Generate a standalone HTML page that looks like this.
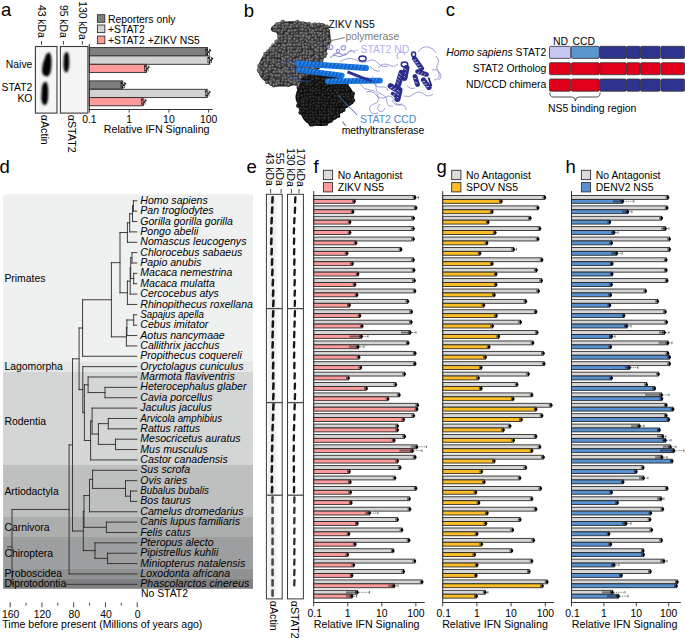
<!DOCTYPE html>
<html><head><meta charset="utf-8"><title>Figure</title>
<style>html,body{margin:0;padding:0;background:#fff;} svg{display:block;} text{font-family:"Liberation Sans", sans-serif;}</style>
</head><body>
<svg width="685" height="638" viewBox="0 0 685 638" font-family='"Liberation Sans", sans-serif'>
<defs>
<filter id="blur2" x="-50%" y="-50%" width="200%" height="200%"><feGaussianBlur stdDeviation="1.4"/></filter>
<filter id="blurA" x="-50%" y="-50%" width="200%" height="200%"><feGaussianBlur stdDeviation="1.15"/></filter>
<filter id="blurB" x="-50%" y="-50%" width="200%" height="200%"><feGaussianBlur stdDeviation="0.9"/></filter>
<filter id="blur06" x="-50%" y="-50%" width="200%" height="200%"><feGaussianBlur stdDeviation="0.7"/></filter>
<filter id="blur05" x="-50%" y="-50%" width="200%" height="200%"><feGaussianBlur stdDeviation="0.45"/></filter>
<radialGradient id="rgG" cx="40%" cy="35%" r="65%"><stop offset="0" stop-color="#929292"/><stop offset="0.5" stop-color="#525252"/><stop offset="1" stop-color="#2a2a2a"/></radialGradient>
<radialGradient id="rgK" cx="40%" cy="35%" r="65%"><stop offset="0" stop-color="#404040"/><stop offset="0.5" stop-color="#1a1a1a"/><stop offset="1" stop-color="#070707"/></radialGradient>
<pattern id="sphG" width="3.4" height="3.4" patternUnits="userSpaceOnUse"><rect width="3.4" height="3.4" fill="#3f3f3f"/><circle cx="1.7" cy="1.7" r="1.6" fill="url(#rgG)"/></pattern>
<pattern id="sphK" width="3.4" height="3.4" patternUnits="userSpaceOnUse"><rect width="3.4" height="3.4" fill="#0c0c0c"/><circle cx="1.7" cy="1.7" r="1.6" fill="url(#rgK)"/></pattern>
</defs>
<rect width="685" height="638" fill="#fff"/>
<text x="1.00" y="16.40" font-size="18.5" text-anchor="start" fill="#000">a</text>
<text transform="translate(37.90,4.90) rotate(90)" font-size="10.4" fill="#000">43 kDa</text>
<text transform="translate(59.80,4.90) rotate(90)" font-size="10.4" fill="#000">95 kDa</text>
<text transform="translate(78.60,1.20) rotate(90)" font-size="10.4" fill="#000">130 kDa</text>
<line x1="41.50" y1="41.00" x2="41.50" y2="44.80" stroke="#333" stroke-width="0.9"/>
<line x1="63.40" y1="41.00" x2="63.40" y2="44.80" stroke="#333" stroke-width="0.9"/>
<line x1="82.30" y1="41.00" x2="82.30" y2="44.80" stroke="#333" stroke-width="0.9"/>
<rect x="35.40" y="46.50" width="21.60" height="66.60" fill="#f6f6f6" stroke="#3a3a3a" stroke-width="1.1"/>
<rect x="60.40" y="46.50" width="27.50" height="66.60" fill="#f4f4f4" stroke="#3a3a3a" stroke-width="1.1"/>
<g filter="url(#blurA)" fill="#050505">
<path d="M44.5,59 Q46,52 49.8,52.5 Q52,57 51.4,65 Q51.4,74.5 47.5,76.5 Q42,76.7 42,70 Q42.3,63.5 44.5,59 Z"/>
<path d="M41.8,88 Q42.8,81.3 46.4,81.8 Q48.6,86 48.2,94 Q48.4,103.8 45,105.3 Q41.3,104.8 41.3,97 Z"/>
<path d="M63.8,57 Q64.6,51.6 67.4,52 Q69.6,55 69.2,63 Q69,71.8 66.2,72.8 Q63.4,71.8 63.5,64 Z"/>
</g>
<text x="32.40" y="68.00" font-size="10.4" text-anchor="end" fill="#000">Naive</text>
<text x="32.40" y="91.20" font-size="10.4" text-anchor="end" fill="#000">STAT2</text>
<text x="32.40" y="101.80" font-size="10.4" text-anchor="end" fill="#000">KO</text>
<text transform="translate(41.00,114.80) rotate(90)" font-size="10.7" fill="#000">&#945;Actin</text>
<text transform="translate(68.10,114.80) rotate(90)" font-size="10.7" fill="#000">&#945;STAT2</text>
<rect x="97.40" y="14.70" width="7.40" height="7.60" fill="#7f7f7f" stroke="#333" stroke-width="0.9"/>
<text x="107.90" y="22.50" font-size="10.4" text-anchor="start" fill="#000">Reporters only</text>
<rect x="97.40" y="25.00" width="7.40" height="7.60" fill="#d3d3d3" stroke="#333" stroke-width="0.9"/>
<text x="107.90" y="32.90" font-size="10.4" text-anchor="start" fill="#000">+STAT2</text>
<rect x="97.40" y="36.10" width="7.40" height="7.60" fill="#ff9b9b" stroke="#333" stroke-width="0.9"/>
<text x="107.90" y="43.50" font-size="10.4" text-anchor="start" fill="#000">+STAT2 +ZIKV NS5</text>
<rect x="89.30" y="47.60" width="118.30" height="8.30" fill="#7f7f7f" stroke="#2a2a2a" stroke-width="0.9"/>
<circle cx="206.4" cy="49.5" r="0.85" fill="#000"/>
<circle cx="208.6" cy="52.0" r="0.85" fill="#000"/>
<circle cx="207.3" cy="54.0" r="0.85" fill="#000"/>
<circle cx="210.2" cy="50.4" r="0.85" fill="#000"/>
<line x1="205.80" y1="48.75" x2="205.80" y2="54.75" stroke="#000" stroke-width="0.6"/>
<line x1="209.40" y1="48.75" x2="209.40" y2="54.75" stroke="#000" stroke-width="0.6"/>
<rect x="89.30" y="55.90" width="120.40" height="8.40" fill="#d3d3d3" stroke="#2a2a2a" stroke-width="0.9"/>
<circle cx="208.5" cy="57.9" r="0.85" fill="#000"/>
<circle cx="210.7" cy="60.3" r="0.85" fill="#000"/>
<circle cx="209.4" cy="62.4" r="0.85" fill="#000"/>
<circle cx="212.3" cy="58.7" r="0.85" fill="#000"/>
<line x1="207.90" y1="57.10" x2="207.90" y2="63.10" stroke="#000" stroke-width="0.6"/>
<line x1="211.50" y1="57.10" x2="211.50" y2="63.10" stroke="#000" stroke-width="0.6"/>
<rect x="89.30" y="64.30" width="57.00" height="8.30" fill="#ff9b9b" stroke="#2a2a2a" stroke-width="0.9"/>
<circle cx="145.1" cy="66.2" r="0.85" fill="#000"/>
<circle cx="147.3" cy="68.6" r="0.85" fill="#000"/>
<circle cx="146.0" cy="70.7" r="0.85" fill="#000"/>
<circle cx="148.9" cy="67.0" r="0.85" fill="#000"/>
<line x1="144.50" y1="65.45" x2="144.50" y2="71.45" stroke="#000" stroke-width="0.6"/>
<line x1="148.10" y1="65.45" x2="148.10" y2="71.45" stroke="#000" stroke-width="0.6"/>
<rect x="89.30" y="80.90" width="33.50" height="8.20" fill="#7f7f7f" stroke="#2a2a2a" stroke-width="0.9"/>
<circle cx="121.6" cy="82.8" r="0.85" fill="#000"/>
<circle cx="123.8" cy="85.2" r="0.85" fill="#000"/>
<circle cx="122.5" cy="87.3" r="0.85" fill="#000"/>
<circle cx="125.4" cy="83.6" r="0.85" fill="#000"/>
<line x1="121.00" y1="82.00" x2="121.00" y2="88.00" stroke="#000" stroke-width="0.6"/>
<line x1="124.60" y1="82.00" x2="124.60" y2="88.00" stroke="#000" stroke-width="0.6"/>
<rect x="89.30" y="89.30" width="117.90" height="8.30" fill="#d3d3d3" stroke="#2a2a2a" stroke-width="0.9"/>
<circle cx="206.0" cy="91.2" r="0.85" fill="#000"/>
<circle cx="208.2" cy="93.6" r="0.85" fill="#000"/>
<circle cx="206.9" cy="95.7" r="0.85" fill="#000"/>
<circle cx="209.8" cy="92.0" r="0.85" fill="#000"/>
<line x1="205.40" y1="90.45" x2="205.40" y2="96.45" stroke="#000" stroke-width="0.6"/>
<line x1="209.00" y1="90.45" x2="209.00" y2="96.45" stroke="#000" stroke-width="0.6"/>
<rect x="89.30" y="97.60" width="53.90" height="8.20" fill="#ff9b9b" stroke="#2a2a2a" stroke-width="0.9"/>
<circle cx="142.0" cy="99.5" r="0.85" fill="#000"/>
<circle cx="144.2" cy="101.9" r="0.85" fill="#000"/>
<circle cx="142.9" cy="104.0" r="0.85" fill="#000"/>
<circle cx="145.8" cy="100.3" r="0.85" fill="#000"/>
<line x1="141.40" y1="98.70" x2="141.40" y2="104.70" stroke="#000" stroke-width="0.6"/>
<line x1="145.00" y1="98.70" x2="145.00" y2="104.70" stroke="#000" stroke-width="0.6"/>
<line x1="89.30" y1="43.90" x2="89.30" y2="109.60" stroke="#333" stroke-width="1.0"/>
<line x1="88.80" y1="109.50" x2="212.70" y2="109.50" stroke="#333" stroke-width="1.0"/>
<line x1="89.40" y1="109.50" x2="89.40" y2="112.60" stroke="#333" stroke-width="0.9"/>
<text x="89.40" y="122.80" font-size="10.4" text-anchor="middle" fill="#000">0.1</text>
<line x1="129.20" y1="109.50" x2="129.20" y2="112.60" stroke="#333" stroke-width="0.9"/>
<text x="129.20" y="122.80" font-size="10.4" text-anchor="middle" fill="#000">1</text>
<line x1="168.90" y1="109.50" x2="168.90" y2="112.60" stroke="#333" stroke-width="0.9"/>
<text x="168.90" y="122.80" font-size="10.4" text-anchor="middle" fill="#000">10</text>
<line x1="208.60" y1="109.50" x2="208.60" y2="112.60" stroke="#333" stroke-width="0.9"/>
<text x="208.60" y="122.80" font-size="10.4" text-anchor="middle" fill="#000">100</text>
<text x="156.70" y="133.40" font-size="10.7" text-anchor="middle" fill="#000">Relative IFN Signaling</text>
<text x="243.80" y="16.70" font-size="18.5" text-anchor="start" fill="#000">b</text>
<path d="M271.0,28.0 C271.3,26.9 272.8,25.9 274.0,25.0 C275.2,24.1 276.2,23.1 278.0,22.5 C279.8,21.9 282.2,21.7 285.0,21.5 C287.8,21.3 291.7,21.1 295.0,21.2 C298.3,21.3 302.7,21.6 305.0,22.0 C307.3,22.4 308.0,22.8 309.0,23.5 C310.0,24.2 310.3,25.9 311.0,26.0 C311.7,26.1 311.8,24.4 313.0,24.0 C314.2,23.6 316.2,23.3 318.0,23.3 C319.8,23.3 322.4,23.5 324.0,24.0 C325.6,24.5 326.6,25.5 327.5,26.5 C328.4,27.5 329.0,28.4 329.5,30.0 C330.0,31.6 330.3,33.8 330.5,36.0 C330.7,38.2 330.9,41.0 330.5,43.0 C330.1,45.0 328.8,46.3 328.0,48.0 C327.2,49.7 326.7,51.3 326.0,53.0 C325.3,54.7 324.8,55.8 324.0,58.0 C323.2,60.2 322.3,63.7 321.0,66.0 C319.7,68.3 318.2,70.4 316.0,72.0 C313.8,73.6 310.3,74.3 308.0,75.5 C305.7,76.7 303.8,77.6 302.0,79.0 C300.2,80.4 299.0,82.8 297.0,84.0 C295.0,85.2 292.8,85.6 290.0,86.0 C287.2,86.4 283.0,86.6 280.0,86.5 C277.0,86.4 274.3,86.2 272.0,85.5 C269.7,84.8 267.8,83.3 266.0,82.0 C264.2,80.7 262.2,79.2 261.0,77.5 C259.8,75.8 258.9,73.9 258.5,72.0 C258.1,70.1 258.2,67.8 258.5,66.0 C258.8,64.2 259.2,62.7 260.0,61.0 C260.8,59.3 261.8,57.7 263.0,56.0 C264.2,54.3 265.7,52.6 267.0,51.0 C268.3,49.4 269.7,47.8 271.0,46.5 C272.3,45.2 273.9,44.6 275.0,43.5 C276.1,42.4 277.1,41.4 277.5,40.0 C277.9,38.6 277.8,36.2 277.5,35.0 C277.2,33.8 276.9,33.1 276.0,32.5 C275.1,31.9 272.8,32.2 272.0,31.5 C271.2,30.8 270.7,29.1 271.0,28.0Z" fill="#262626"/>
<g fill="url(#rgG)">
<circle cx="297.3" cy="24.5" r="1.75"/>
<circle cx="313.3" cy="65.3" r="2.25"/>
<circle cx="309.3" cy="57.1" r="2.08"/>
<circle cx="276.4" cy="50.5" r="2.10"/>
<circle cx="282.4" cy="74.6" r="2.05"/>
<circle cx="329.7" cy="40.0" r="1.77"/>
<circle cx="277.3" cy="72.0" r="1.88"/>
<circle cx="261.7" cy="68.9" r="1.94"/>
<circle cx="288.8" cy="64.0" r="2.27"/>
<circle cx="294.2" cy="33.3" r="2.28"/>
<circle cx="279.0" cy="47.4" r="2.30"/>
<circle cx="271.0" cy="48.8" r="2.28"/>
<circle cx="321.1" cy="54.6" r="1.98"/>
<circle cx="306.1" cy="30.5" r="1.80"/>
<circle cx="315.9" cy="49.1" r="2.26"/>
<circle cx="295.2" cy="36.1" r="1.74"/>
<circle cx="291.9" cy="66.9" r="2.18"/>
<circle cx="278.8" cy="54.8" r="1.82"/>
<circle cx="304.2" cy="63.9" r="2.09"/>
<circle cx="291.3" cy="56.9" r="2.13"/>
<circle cx="283.4" cy="45.3" r="2.19"/>
<circle cx="300.2" cy="29.4" r="1.79"/>
<circle cx="326.8" cy="26.5" r="2.10"/>
<circle cx="296.8" cy="32.3" r="2.20"/>
<circle cx="309.6" cy="69.0" r="2.18"/>
<circle cx="303.8" cy="68.5" r="1.95"/>
<circle cx="302.8" cy="75.2" r="2.30"/>
<circle cx="284.7" cy="65.4" r="2.16"/>
<circle cx="275.7" cy="60.7" r="2.09"/>
<circle cx="300.8" cy="71.7" r="2.17"/>
<circle cx="273.0" cy="68.4" r="1.98"/>
<circle cx="271.3" cy="62.9" r="2.17"/>
<circle cx="321.5" cy="60.5" r="1.84"/>
<circle cx="279.9" cy="32.6" r="2.12"/>
<circle cx="296.7" cy="40.1" r="2.11"/>
<circle cx="270.3" cy="67.0" r="2.29"/>
<circle cx="308.7" cy="47.8" r="2.11"/>
<circle cx="318.9" cy="45.9" r="1.99"/>
<circle cx="321.5" cy="48.5" r="2.18"/>
<circle cx="289.0" cy="36.2" r="2.18"/>
<circle cx="300.9" cy="42.3" r="1.91"/>
<circle cx="297.7" cy="36.2" r="2.09"/>
<circle cx="264.2" cy="69.0" r="1.89"/>
<circle cx="288.6" cy="48.4" r="1.99"/>
<circle cx="302.9" cy="23.5" r="2.07"/>
<circle cx="304.3" cy="50.5" r="1.75"/>
<circle cx="289.1" cy="52.0" r="2.24"/>
<circle cx="305.7" cy="44.3" r="1.79"/>
<circle cx="288.7" cy="60.6" r="1.88"/>
<circle cx="312.0" cy="51.9" r="1.93"/>
<circle cx="279.5" cy="38.9" r="1.75"/>
<circle cx="324.2" cy="33.1" r="2.04"/>
<circle cx="316.3" cy="53.5" r="1.89"/>
<circle cx="300.2" cy="26.4" r="2.27"/>
<circle cx="272.9" cy="56.5" r="2.02"/>
<circle cx="305.6" cy="66.7" r="1.91"/>
<circle cx="299.6" cy="24.1" r="2.05"/>
<circle cx="270.8" cy="60.7" r="2.09"/>
<circle cx="323.9" cy="50.9" r="1.83"/>
<circle cx="297.0" cy="30.2" r="1.74"/>
<circle cx="305.7" cy="39.7" r="1.88"/>
<circle cx="313.3" cy="31.1" r="2.06"/>
<circle cx="318.1" cy="33.1" r="2.05"/>
<circle cx="310.2" cy="66.4" r="2.21"/>
<circle cx="285.9" cy="57.0" r="1.81"/>
<circle cx="264.5" cy="78.0" r="1.97"/>
<circle cx="321.4" cy="50.8" r="2.17"/>
<circle cx="265.0" cy="63.6" r="1.83"/>
<circle cx="286.2" cy="33.8" r="1.94"/>
<circle cx="283.0" cy="65.4" r="2.02"/>
<circle cx="270.4" cy="56.6" r="2.07"/>
<circle cx="279.2" cy="70.1" r="2.11"/>
<circle cx="277.0" cy="82.0" r="2.29"/>
<circle cx="266.8" cy="77.7" r="1.75"/>
<circle cx="316.2" cy="56.3" r="2.24"/>
<circle cx="271.4" cy="54.4" r="2.03"/>
<circle cx="291.4" cy="50.8" r="2.08"/>
<circle cx="318.4" cy="53.9" r="1.88"/>
<circle cx="276.8" cy="48.5" r="2.00"/>
<circle cx="291.9" cy="69.1" r="1.83"/>
<circle cx="281.8" cy="47.9" r="1.75"/>
<circle cx="327.8" cy="39.1" r="2.20"/>
<circle cx="276.9" cy="24.4" r="2.10"/>
<circle cx="322.2" cy="57.2" r="1.77"/>
<circle cx="274.2" cy="30.6" r="1.77"/>
<circle cx="300.5" cy="36.5" r="1.95"/>
<circle cx="303.5" cy="34.0" r="2.20"/>
<circle cx="297.7" cy="69.5" r="1.98"/>
<circle cx="268.0" cy="68.4" r="2.03"/>
<circle cx="276.0" cy="63.7" r="1.99"/>
<circle cx="300.5" cy="57.4" r="2.24"/>
<circle cx="283.1" cy="25.0" r="2.12"/>
<circle cx="282.6" cy="57.9" r="1.85"/>
<circle cx="325.0" cy="48.4" r="1.80"/>
<circle cx="284.6" cy="51.1" r="2.06"/>
<circle cx="294.4" cy="78.1" r="2.14"/>
<circle cx="300.9" cy="69.8" r="1.80"/>
<circle cx="261.8" cy="62.7" r="1.89"/>
<circle cx="281.7" cy="41.7" r="2.12"/>
<circle cx="290.8" cy="83.7" r="2.00"/>
<circle cx="324.4" cy="27.2" r="1.88"/>
<circle cx="288.4" cy="78.3" r="1.98"/>
<circle cx="306.9" cy="64.1" r="1.96"/>
<circle cx="294.2" cy="41.3" r="2.30"/>
<circle cx="276.1" cy="30.0" r="2.11"/>
<circle cx="267.8" cy="51.5" r="1.81"/>
<circle cx="274.3" cy="27.5" r="1.92"/>
<circle cx="302.6" cy="71.9" r="2.09"/>
<circle cx="267.3" cy="54.0" r="1.71"/>
<circle cx="298.3" cy="56.5" r="1.73"/>
<circle cx="291.5" cy="41.6" r="2.14"/>
<circle cx="273.8" cy="85.1" r="2.30"/>
<circle cx="285.1" cy="68.5" r="2.19"/>
<circle cx="301.3" cy="54.3" r="1.76"/>
<circle cx="288.6" cy="39.1" r="1.99"/>
<circle cx="321.3" cy="62.9" r="2.15"/>
<circle cx="294.0" cy="69.1" r="1.79"/>
<circle cx="321.2" cy="42.8" r="1.83"/>
<circle cx="308.6" cy="27.9" r="1.95"/>
<circle cx="294.0" cy="52.0" r="1.78"/>
<circle cx="265.1" cy="72.9" r="1.76"/>
<circle cx="261.2" cy="66.8" r="2.10"/>
<circle cx="304.2" cy="56.7" r="1.90"/>
<circle cx="267.3" cy="74.7" r="2.17"/>
<circle cx="285.9" cy="38.3" r="2.03"/>
<circle cx="297.5" cy="80.9" r="2.25"/>
<circle cx="324.9" cy="42.4" r="1.87"/>
<circle cx="300.5" cy="48.3" r="1.91"/>
<circle cx="327.9" cy="45.5" r="1.85"/>
<circle cx="297.1" cy="72.4" r="1.73"/>
<circle cx="315.0" cy="33.4" r="1.87"/>
<circle cx="310.3" cy="30.1" r="1.91"/>
<circle cx="279.1" cy="46.0" r="2.00"/>
<circle cx="292.4" cy="33.5" r="1.90"/>
<circle cx="312.7" cy="45.3" r="2.29"/>
<circle cx="315.6" cy="37.0" r="2.22"/>
<circle cx="273.2" cy="54.1" r="1.91"/>
<circle cx="294.3" cy="75.2" r="1.82"/>
<circle cx="307.3" cy="60.5" r="2.00"/>
<circle cx="289.0" cy="41.8" r="1.77"/>
<circle cx="306.8" cy="71.6" r="1.82"/>
<circle cx="298.0" cy="48.6" r="2.13"/>
<circle cx="282.8" cy="59.8" r="1.78"/>
<circle cx="316.0" cy="45.5" r="2.28"/>
<circle cx="277.0" cy="77.4" r="1.75"/>
<circle cx="315.0" cy="66.2" r="2.30"/>
<circle cx="315.0" cy="68.7" r="1.94"/>
<circle cx="280.2" cy="50.7" r="2.03"/>
<circle cx="284.8" cy="59.8" r="1.94"/>
<circle cx="295.1" cy="23.8" r="2.04"/>
<circle cx="290.8" cy="75.4" r="1.94"/>
<circle cx="296.9" cy="74.8" r="1.77"/>
<circle cx="302.9" cy="42.2" r="1.73"/>
<circle cx="288.3" cy="57.2" r="2.19"/>
<circle cx="301.0" cy="40.0" r="1.99"/>
<circle cx="325.4" cy="53.8" r="2.16"/>
<circle cx="270.9" cy="78.9" r="1.74"/>
<circle cx="309.1" cy="44.7" r="2.00"/>
<circle cx="278.8" cy="41.6" r="2.03"/>
<circle cx="282.5" cy="62.6" r="1.93"/>
<circle cx="291.6" cy="36.7" r="1.79"/>
<circle cx="267.5" cy="62.7" r="2.10"/>
<circle cx="286.2" cy="80.8" r="2.11"/>
<circle cx="270.5" cy="82.0" r="2.23"/>
<circle cx="318.2" cy="59.3" r="1.75"/>
<circle cx="299.7" cy="80.6" r="1.72"/>
<circle cx="312.4" cy="39.9" r="2.08"/>
<circle cx="259.3" cy="65.7" r="2.08"/>
<circle cx="290.8" cy="59.4" r="1.80"/>
<circle cx="282.0" cy="38.9" r="2.10"/>
<circle cx="309.9" cy="36.9" r="2.22"/>
<circle cx="312.9" cy="47.7" r="1.95"/>
<circle cx="291.0" cy="72.0" r="1.76"/>
<circle cx="321.3" cy="44.9" r="2.26"/>
<circle cx="281.7" cy="83.6" r="1.71"/>
<circle cx="279.8" cy="26.4" r="2.22"/>
<circle cx="318.5" cy="48.0" r="1.78"/>
<circle cx="302.6" cy="26.6" r="1.89"/>
<circle cx="289.1" cy="31.1" r="2.13"/>
<circle cx="276.7" cy="84.5" r="2.22"/>
<circle cx="287.9" cy="33.8" r="1.81"/>
<circle cx="307.1" cy="51.2" r="1.72"/>
<circle cx="315.9" cy="62.4" r="1.71"/>
<circle cx="283.2" cy="70.1" r="2.04"/>
<circle cx="282.6" cy="30.7" r="2.05"/>
<circle cx="268.2" cy="58.1" r="2.25"/>
<circle cx="316.3" cy="60.6" r="2.00"/>
<circle cx="285.0" cy="46.0" r="2.01"/>
<circle cx="268.3" cy="60.6" r="2.19"/>
<circle cx="274.4" cy="72.3" r="2.16"/>
<circle cx="282.7" cy="78.3" r="1.95"/>
<circle cx="302.7" cy="29.8" r="2.12"/>
<circle cx="299.9" cy="51.2" r="1.94"/>
<circle cx="319.3" cy="67.0" r="1.74"/>
<circle cx="288.8" cy="75.9" r="2.11"/>
<circle cx="327.3" cy="41.9" r="2.06"/>
<circle cx="310.2" cy="60.2" r="2.30"/>
<circle cx="297.2" cy="21.8" r="2.10"/>
<circle cx="303.2" cy="65.8" r="1.79"/>
<circle cx="276.4" cy="75.8" r="2.16"/>
<circle cx="291.3" cy="55.0" r="2.03"/>
<circle cx="289.1" cy="80.6" r="1.75"/>
<circle cx="285.0" cy="63.1" r="1.98"/>
<circle cx="293.9" cy="71.7" r="2.24"/>
<circle cx="271.1" cy="83.8" r="2.08"/>
<circle cx="306.1" cy="56.7" r="1.96"/>
<circle cx="309.0" cy="74.5" r="1.71"/>
<circle cx="264.5" cy="60.5" r="2.10"/>
<circle cx="290.9" cy="63.0" r="2.29"/>
<circle cx="294.0" cy="80.8" r="2.22"/>
<circle cx="315.5" cy="50.3" r="1.83"/>
<circle cx="328.1" cy="30.2" r="1.77"/>
<circle cx="325.4" cy="44.6" r="1.98"/>
<circle cx="302.8" cy="45.0" r="1.87"/>
<circle cx="297.3" cy="59.7" r="2.04"/>
<circle cx="310.2" cy="51.6" r="1.97"/>
<circle cx="288.5" cy="84.9" r="2.15"/>
<circle cx="323.7" cy="35.7" r="2.25"/>
<circle cx="279.1" cy="64.0" r="1.92"/>
<circle cx="297.7" cy="54.9" r="2.15"/>
<circle cx="288.2" cy="44.9" r="2.12"/>
<circle cx="269.8" cy="71.6" r="1.79"/>
<circle cx="317.7" cy="57.6" r="2.16"/>
<circle cx="310.3" cy="62.9" r="1.88"/>
<circle cx="310.0" cy="54.5" r="2.03"/>
<circle cx="280.1" cy="77.5" r="2.00"/>
<circle cx="276.1" cy="53.4" r="2.10"/>
<circle cx="300.5" cy="76.0" r="2.23"/>
<circle cx="279.6" cy="36.7" r="2.25"/>
<circle cx="293.7" cy="56.8" r="1.73"/>
<circle cx="283.0" cy="80.6" r="1.72"/>
<circle cx="275.9" cy="45.1" r="1.74"/>
<circle cx="294.5" cy="47.3" r="2.23"/>
<circle cx="280.2" cy="72.1" r="2.11"/>
<circle cx="294.2" cy="65.8" r="2.07"/>
<circle cx="279.0" cy="61.0" r="1.93"/>
<circle cx="290.6" cy="38.9" r="1.89"/>
<circle cx="287.8" cy="69.2" r="2.06"/>
<circle cx="317.6" cy="51.2" r="2.27"/>
<circle cx="291.5" cy="82.0" r="2.20"/>
<circle cx="289.3" cy="65.8" r="2.07"/>
<circle cx="270.9" cy="74.7" r="1.89"/>
<circle cx="306.4" cy="33.9" r="2.27"/>
<circle cx="296.6" cy="83.9" r="2.14"/>
<circle cx="285.5" cy="24.5" r="1.98"/>
<circle cx="310.1" cy="32.7" r="1.80"/>
<circle cx="259.1" cy="69.7" r="2.28"/>
<circle cx="259.4" cy="71.5" r="1.77"/>
<circle cx="307.1" cy="68.8" r="2.27"/>
<circle cx="285.0" cy="35.8" r="1.80"/>
<circle cx="318.0" cy="29.7" r="2.18"/>
<circle cx="327.8" cy="47.4" r="1.99"/>
<circle cx="285.0" cy="53.8" r="2.17"/>
<circle cx="312.1" cy="53.4" r="1.97"/>
<circle cx="293.7" cy="26.4" r="1.86"/>
<circle cx="312.1" cy="32.8" r="2.15"/>
<circle cx="316.3" cy="30.0" r="1.90"/>
<circle cx="284.6" cy="75.3" r="1.87"/>
<circle cx="273.7" cy="48.9" r="2.07"/>
<circle cx="295.1" cy="30.6" r="2.09"/>
<circle cx="299.7" cy="63.0" r="2.18"/>
<circle cx="322.1" cy="24.9" r="2.06"/>
<circle cx="286.3" cy="71.5" r="2.22"/>
<circle cx="321.6" cy="39.6" r="2.14"/>
<circle cx="323.8" cy="38.4" r="1.71"/>
<circle cx="329.7" cy="41.5" r="1.79"/>
<circle cx="300.5" cy="77.7" r="2.20"/>
<circle cx="295.2" cy="54.8" r="2.05"/>
<circle cx="294.8" cy="83.3" r="2.29"/>
<circle cx="285.7" cy="77.9" r="1.85"/>
<circle cx="265.2" cy="53.8" r="1.93"/>
<circle cx="318.3" cy="26.5" r="1.93"/>
<circle cx="288.3" cy="27.0" r="2.16"/>
<circle cx="322.1" cy="28.1" r="1.84"/>
<circle cx="279.3" cy="66.8" r="1.97"/>
<circle cx="320.8" cy="33.9" r="2.11"/>
<circle cx="283.2" cy="27.7" r="1.89"/>
<circle cx="314.7" cy="24.1" r="1.86"/>
<circle cx="312.3" cy="24.9" r="1.79"/>
<circle cx="291.4" cy="78.5" r="2.25"/>
<circle cx="297.0" cy="51.3" r="2.16"/>
<circle cx="306.5" cy="37.0" r="2.17"/>
<circle cx="324.7" cy="30.9" r="1.87"/>
<circle cx="281.8" cy="32.6" r="1.78"/>
<circle cx="270.0" cy="69.7" r="2.23"/>
<circle cx="318.6" cy="24.9" r="2.30"/>
<circle cx="281.8" cy="36.3" r="1.79"/>
<circle cx="320.8" cy="36.1" r="2.29"/>
<circle cx="278.9" cy="30.7" r="2.18"/>
<circle cx="306.9" cy="54.1" r="2.03"/>
<circle cx="276.5" cy="41.7" r="2.17"/>
<circle cx="303.8" cy="47.4" r="2.00"/>
<circle cx="310.1" cy="42.1" r="2.02"/>
<circle cx="282.1" cy="72.7" r="2.02"/>
<circle cx="308.8" cy="23.7" r="1.99"/>
<circle cx="296.6" cy="78.4" r="1.93"/>
<circle cx="265.1" cy="66.1" r="2.17"/>
<circle cx="303.1" cy="60.1" r="2.13"/>
<circle cx="300.7" cy="59.3" r="2.29"/>
<circle cx="272.9" cy="66.0" r="1.89"/>
<circle cx="288.5" cy="53.6" r="1.73"/>
<circle cx="318.8" cy="43.1" r="1.94"/>
<circle cx="273.5" cy="51.1" r="2.13"/>
<circle cx="303.9" cy="53.4" r="2.26"/>
<circle cx="302.8" cy="38.8" r="2.05"/>
<circle cx="270.8" cy="50.8" r="1.71"/>
<circle cx="278.7" cy="80.9" r="1.93"/>
<circle cx="317.9" cy="40.0" r="2.02"/>
<circle cx="312.5" cy="42.8" r="2.02"/>
<circle cx="309.2" cy="71.7" r="1.91"/>
<circle cx="319.1" cy="35.5" r="1.74"/>
<circle cx="291.8" cy="25.1" r="1.94"/>
<circle cx="272.7" cy="78.3" r="2.01"/>
<circle cx="292.1" cy="30.8" r="1.86"/>
<circle cx="285.2" cy="41.8" r="2.20"/>
<circle cx="284.8" cy="48.8" r="1.89"/>
<circle cx="297.0" cy="45.2" r="2.00"/>
<circle cx="318.8" cy="63.0" r="1.82"/>
<circle cx="272.6" cy="75.9" r="1.83"/>
<circle cx="300.1" cy="66.6" r="1.76"/>
<circle cx="299.6" cy="44.8" r="2.18"/>
<circle cx="297.0" cy="26.6" r="1.87"/>
<circle cx="294.5" cy="45.2" r="2.05"/>
<circle cx="283.4" cy="52.0" r="1.92"/>
<circle cx="301.3" cy="33.5" r="2.17"/>
<circle cx="276.5" cy="27.4" r="2.21"/>
<circle cx="307.3" cy="41.5" r="1.85"/>
<circle cx="290.6" cy="45.0" r="2.25"/>
<circle cx="274.2" cy="80.6" r="2.00"/>
<circle cx="297.1" cy="41.3" r="2.22"/>
<circle cx="307.0" cy="76.0" r="1.92"/>
<circle cx="273.4" cy="60.3" r="1.98"/>
<circle cx="285.2" cy="29.7" r="1.75"/>
<circle cx="294.5" cy="60.3" r="1.89"/>
<circle cx="313.3" cy="57.8" r="1.72"/>
<circle cx="282.1" cy="55.0" r="1.87"/>
<circle cx="279.6" cy="24.1" r="2.06"/>
<circle cx="277.2" cy="65.4" r="1.76"/>
<circle cx="312.0" cy="59.7" r="1.82"/>
<circle cx="290.8" cy="27.4" r="2.22"/>
<circle cx="288.7" cy="72.4" r="2.04"/>
<circle cx="291.7" cy="48.5" r="2.05"/>
<circle cx="315.1" cy="26.9" r="1.83"/>
<circle cx="306.9" cy="47.8" r="2.26"/>
<circle cx="296.9" cy="62.4" r="1.87"/>
<circle cx="326.7" cy="36.5" r="1.76"/>
<circle cx="266.9" cy="82.1" r="1.97"/>
<circle cx="279.0" cy="56.8" r="2.06"/>
<circle cx="313.0" cy="72.3" r="2.07"/>
<circle cx="265.2" cy="76.1" r="1.78"/>
<circle cx="294.0" cy="64.1" r="2.21"/>
<circle cx="314.7" cy="71.5" r="1.90"/>
<circle cx="261.5" cy="72.8" r="2.30"/>
<circle cx="285.7" cy="84.1" r="1.93"/>
<circle cx="316.1" cy="38.8" r="1.72"/>
<circle cx="276.2" cy="56.5" r="1.72"/>
<circle cx="327.7" cy="33.9" r="1.92"/>
<circle cx="309.1" cy="38.5" r="2.12"/>
<circle cx="279.3" cy="75.9" r="1.99"/>
<circle cx="298.3" cy="66.4" r="2.21"/>
<circle cx="266.7" cy="71.8" r="2.24"/>
<circle cx="287.7" cy="24.6" r="2.22"/>
<circle cx="321.0" cy="29.7" r="2.08"/>
<circle cx="305.8" cy="27.0" r="2.25"/>
<circle cx="303.4" cy="36.3" r="2.12"/>
<circle cx="315.3" cy="42.2" r="1.75"/>
<circle cx="294.7" cy="39.2" r="1.89"/>
<circle cx="264.5" cy="56.7" r="1.84"/>
<circle cx="305.7" cy="24.7" r="1.75"/>
<circle cx="266.7" cy="66.2" r="2.25"/>
<circle cx="312.7" cy="26.6" r="2.00"/>
<circle cx="286.2" cy="27.7" r="1.81"/>
<circle cx="282.7" cy="22.0" r="2.21"/>
<circle cx="313.3" cy="35.8" r="1.92"/>
<circle cx="273.1" cy="45.1" r="1.84"/>
<circle cx="274.1" cy="62.7" r="2.13"/>
<circle cx="279.2" cy="83.3" r="1.80"/>
<circle cx="311.9" cy="64.0" r="2.27"/>
<circle cx="312.9" cy="68.7" r="2.26"/>
<circle cx="324.7" cy="56.3" r="1.74"/>
<circle cx="275.7" cy="69.3" r="2.03"/>
<circle cx="261.2" cy="75.0" r="1.72"/>
</g>
<path d="M301.0,80.0 C302.2,78.2 303.8,77.0 306.0,76.0 C308.2,75.0 311.0,74.5 314.0,74.0 C317.0,73.5 320.7,72.8 324.0,73.0 C327.3,73.2 331.0,73.8 334.0,75.0 C337.0,76.2 339.5,78.2 342.0,80.0 C344.5,81.8 347.2,84.0 349.0,86.0 C350.8,88.0 352.2,90.0 353.0,92.0 C353.8,94.0 354.3,95.9 354.0,98.0 C353.7,100.1 352.5,102.7 351.0,104.5 C349.5,106.3 346.9,107.3 345.0,109.0 C343.1,110.7 341.3,112.7 339.5,114.5 C337.7,116.3 336.2,118.2 334.0,120.0 C331.8,121.8 328.6,124.0 326.0,125.0 C323.4,126.0 321.2,126.1 318.5,126.0 C315.8,125.9 312.4,125.5 310.0,124.5 C307.6,123.5 305.7,122.1 304.0,120.0 C302.3,117.9 301.1,114.6 300.0,112.0 C298.9,109.4 298.2,106.8 297.5,104.5 C296.8,102.2 295.7,100.1 295.5,98.0 C295.3,95.9 295.9,93.9 296.5,92.0 C297.1,90.1 298.2,88.5 299.0,86.5 C299.8,84.5 299.8,81.8 301.0,80.0Z" fill="#0c0c0c"/>
<g fill="url(#rgK)">
<circle cx="330.9" cy="117.4" r="2.12"/>
<circle cx="322.8" cy="120.1" r="1.97"/>
<circle cx="331.9" cy="93.8" r="1.84"/>
<circle cx="316.1" cy="76.5" r="2.27"/>
<circle cx="324.7" cy="88.7" r="2.01"/>
<circle cx="336.8" cy="81.5" r="1.92"/>
<circle cx="328.7" cy="88.8" r="2.02"/>
<circle cx="301.8" cy="100.8" r="1.89"/>
<circle cx="341.4" cy="109.2" r="1.78"/>
<circle cx="307.3" cy="115.2" r="2.07"/>
<circle cx="321.9" cy="112.4" r="1.83"/>
<circle cx="302.0" cy="105.2" r="2.19"/>
<circle cx="343.4" cy="109.9" r="2.14"/>
<circle cx="341.3" cy="111.4" r="1.90"/>
<circle cx="322.8" cy="84.9" r="1.98"/>
<circle cx="325.5" cy="115.8" r="2.26"/>
<circle cx="299.3" cy="90.9" r="1.89"/>
<circle cx="333.9" cy="78.7" r="1.90"/>
<circle cx="314.3" cy="81.2" r="1.99"/>
<circle cx="337.5" cy="100.6" r="1.84"/>
<circle cx="334.4" cy="112.2" r="1.85"/>
<circle cx="348.7" cy="90.1" r="2.23"/>
<circle cx="323.3" cy="124.0" r="2.07"/>
<circle cx="305.3" cy="117.9" r="2.08"/>
<circle cx="346.1" cy="94.2" r="2.14"/>
<circle cx="328.7" cy="109.1" r="1.79"/>
<circle cx="330.6" cy="96.6" r="1.93"/>
<circle cx="316.3" cy="88.9" r="1.74"/>
<circle cx="301.4" cy="108.7" r="2.29"/>
<circle cx="310.8" cy="118.6" r="1.91"/>
<circle cx="310.4" cy="94.3" r="2.04"/>
<circle cx="319.1" cy="75.3" r="2.05"/>
<circle cx="338.3" cy="84.2" r="1.78"/>
<circle cx="307.3" cy="96.6" r="2.12"/>
<circle cx="346.6" cy="99.3" r="2.25"/>
<circle cx="310.9" cy="124.3" r="2.24"/>
<circle cx="307.7" cy="120.3" r="1.76"/>
<circle cx="316.5" cy="102.4" r="1.82"/>
<circle cx="340.0" cy="100.7" r="1.96"/>
<circle cx="336.8" cy="105.4" r="2.04"/>
<circle cx="326.2" cy="124.3" r="1.76"/>
<circle cx="323.1" cy="94.8" r="2.18"/>
<circle cx="312.9" cy="115.4" r="2.18"/>
<circle cx="351.7" cy="102.4" r="1.84"/>
<circle cx="339.6" cy="87.5" r="2.18"/>
<circle cx="335.0" cy="115.3" r="1.78"/>
<circle cx="326.4" cy="93.6" r="1.74"/>
<circle cx="298.8" cy="87.7" r="2.28"/>
<circle cx="322.0" cy="108.8" r="1.90"/>
<circle cx="343.0" cy="102.6" r="1.92"/>
<circle cx="307.1" cy="91.4" r="2.21"/>
<circle cx="303.9" cy="111.1" r="1.85"/>
<circle cx="319.6" cy="90.8" r="2.22"/>
<circle cx="316.0" cy="90.8" r="2.13"/>
<circle cx="319.2" cy="97.8" r="1.90"/>
<circle cx="307.9" cy="112.4" r="2.12"/>
<circle cx="328.1" cy="81.3" r="2.10"/>
<circle cx="342.7" cy="87.3" r="2.23"/>
<circle cx="316.8" cy="117.5" r="2.17"/>
<circle cx="333.6" cy="82.5" r="2.00"/>
<circle cx="335.3" cy="90.8" r="2.24"/>
<circle cx="306.7" cy="102.4" r="2.19"/>
<circle cx="303.7" cy="82.4" r="2.30"/>
<circle cx="341.3" cy="90.7" r="1.79"/>
<circle cx="340.3" cy="94.9" r="1.82"/>
<circle cx="331.9" cy="81.9" r="2.23"/>
<circle cx="327.7" cy="90.7" r="2.10"/>
<circle cx="319.0" cy="84.5" r="1.94"/>
<circle cx="304.4" cy="108.6" r="1.94"/>
<circle cx="311.0" cy="103.1" r="2.16"/>
<circle cx="300.7" cy="112.4" r="2.26"/>
<circle cx="342.9" cy="94.6" r="2.05"/>
<circle cx="310.2" cy="82.8" r="1.79"/>
<circle cx="302.3" cy="102.8" r="2.13"/>
<circle cx="302.2" cy="88.3" r="1.85"/>
<circle cx="301.2" cy="94.5" r="2.04"/>
<circle cx="316.4" cy="105.9" r="2.10"/>
<circle cx="303.8" cy="84.4" r="2.28"/>
<circle cx="328.7" cy="94.2" r="1.74"/>
<circle cx="316.2" cy="81.5" r="1.81"/>
<circle cx="333.6" cy="106.7" r="2.25"/>
<circle cx="331.1" cy="109.0" r="2.05"/>
<circle cx="322.4" cy="76.0" r="1.88"/>
<circle cx="346.4" cy="96.9" r="1.91"/>
<circle cx="324.9" cy="76.0" r="1.98"/>
<circle cx="325.6" cy="82.7" r="2.28"/>
<circle cx="328.1" cy="99.7" r="2.11"/>
<circle cx="331.5" cy="102.9" r="2.13"/>
<circle cx="323.2" cy="90.6" r="2.25"/>
<circle cx="331.8" cy="85.2" r="2.20"/>
<circle cx="304.9" cy="97.9" r="1.89"/>
<circle cx="310.3" cy="78.6" r="1.81"/>
<circle cx="319.4" cy="87.2" r="2.24"/>
<circle cx="329.2" cy="97.8" r="2.03"/>
<circle cx="316.9" cy="99.3" r="2.16"/>
<circle cx="319.0" cy="103.2" r="2.08"/>
<circle cx="315.6" cy="123.8" r="1.84"/>
<circle cx="313.0" cy="109.1" r="1.71"/>
<circle cx="337.8" cy="103.3" r="1.73"/>
<circle cx="303.9" cy="99.4" r="1.97"/>
<circle cx="316.5" cy="78.5" r="2.24"/>
<circle cx="337.6" cy="96.7" r="1.87"/>
<circle cx="298.0" cy="105.8" r="2.00"/>
<circle cx="325.5" cy="91.6" r="1.76"/>
<circle cx="345.7" cy="103.2" r="1.85"/>
<circle cx="337.8" cy="109.8" r="1.73"/>
<circle cx="304.5" cy="94.9" r="1.78"/>
<circle cx="340.3" cy="105.1" r="1.73"/>
<circle cx="348.7" cy="88.8" r="1.74"/>
<circle cx="324.8" cy="111.6" r="2.19"/>
<circle cx="327.9" cy="78.3" r="2.05"/>
<circle cx="330.8" cy="120.7" r="2.13"/>
<circle cx="328.7" cy="105.8" r="1.70"/>
<circle cx="305.3" cy="78.6" r="1.86"/>
<circle cx="315.7" cy="112.7" r="2.09"/>
<circle cx="347.1" cy="85.1" r="1.71"/>
<circle cx="304.0" cy="115.3" r="1.89"/>
<circle cx="313.7" cy="118.0" r="1.72"/>
<circle cx="337.7" cy="112.7" r="1.89"/>
<circle cx="334.0" cy="109.6" r="2.22"/>
<circle cx="322.7" cy="96.5" r="1.72"/>
<circle cx="335.1" cy="87.2" r="1.99"/>
<circle cx="323.0" cy="118.0" r="2.07"/>
<circle cx="329.1" cy="111.8" r="2.18"/>
<circle cx="319.4" cy="109.5" r="1.80"/>
<circle cx="305.2" cy="91.1" r="2.22"/>
<circle cx="346.2" cy="87.4" r="2.18"/>
<circle cx="310.0" cy="88.3" r="1.75"/>
<circle cx="344.2" cy="105.8" r="2.07"/>
<circle cx="335.3" cy="100.2" r="2.17"/>
<circle cx="348.7" cy="97.3" r="2.29"/>
<circle cx="319.3" cy="99.8" r="1.94"/>
<circle cx="320.3" cy="115.1" r="2.26"/>
<circle cx="307.6" cy="82.6" r="2.22"/>
<circle cx="331.7" cy="88.2" r="1.72"/>
<circle cx="331.2" cy="112.6" r="1.89"/>
<circle cx="320.1" cy="82.7" r="2.09"/>
<circle cx="344.1" cy="85.4" r="1.89"/>
<circle cx="327.6" cy="85.2" r="1.95"/>
<circle cx="335.0" cy="117.5" r="2.13"/>
<circle cx="323.0" cy="82.7" r="2.20"/>
<circle cx="336.8" cy="87.3" r="1.79"/>
<circle cx="333.8" cy="93.8" r="1.71"/>
<circle cx="311.0" cy="111.5" r="1.83"/>
<circle cx="323.4" cy="88.9" r="2.02"/>
<circle cx="323.4" cy="105.2" r="2.20"/>
<circle cx="307.8" cy="94.8" r="1.91"/>
<circle cx="348.8" cy="94.6" r="1.92"/>
<circle cx="314.2" cy="103.7" r="1.91"/>
<circle cx="343.3" cy="99.2" r="2.11"/>
<circle cx="328.8" cy="115.1" r="2.22"/>
<circle cx="319.3" cy="120.5" r="1.79"/>
<circle cx="301.4" cy="84.7" r="2.29"/>
<circle cx="306.6" cy="109.5" r="2.04"/>
<circle cx="316.0" cy="97.6" r="1.84"/>
<circle cx="306.9" cy="87.7" r="2.07"/>
<circle cx="338.2" cy="115.7" r="2.19"/>
<circle cx="328.7" cy="76.5" r="1.99"/>
<circle cx="321.7" cy="99.7" r="1.72"/>
<circle cx="347.2" cy="90.5" r="2.09"/>
<circle cx="303.7" cy="105.5" r="2.09"/>
<circle cx="329.1" cy="118.1" r="2.03"/>
<circle cx="344.1" cy="97.4" r="2.12"/>
<circle cx="312.9" cy="93.5" r="2.04"/>
<circle cx="320.0" cy="112.5" r="1.92"/>
<circle cx="298.9" cy="103.1" r="2.02"/>
<circle cx="325.0" cy="108.8" r="1.86"/>
<circle cx="325.5" cy="120.2" r="1.85"/>
<circle cx="307.0" cy="105.4" r="2.03"/>
<circle cx="325.8" cy="106.3" r="1.76"/>
<circle cx="338.3" cy="90.4" r="2.19"/>
<circle cx="323.1" cy="79.7" r="2.29"/>
<circle cx="313.8" cy="120.4" r="1.79"/>
<circle cx="334.4" cy="103.5" r="2.08"/>
<circle cx="325.5" cy="102.2" r="1.94"/>
<circle cx="319.8" cy="118.6" r="2.29"/>
<circle cx="307.1" cy="84.9" r="2.26"/>
<circle cx="317.4" cy="121.6" r="2.07"/>
<circle cx="324.9" cy="100.3" r="1.77"/>
<circle cx="301.8" cy="96.1" r="2.03"/>
<circle cx="325.2" cy="97.8" r="1.82"/>
<circle cx="313.7" cy="100.3" r="2.17"/>
<circle cx="330.9" cy="91.1" r="1.86"/>
<circle cx="332.3" cy="100.0" r="2.06"/>
<circle cx="340.5" cy="79.6" r="2.14"/>
<circle cx="335.2" cy="96.6" r="2.24"/>
<circle cx="340.3" cy="84.8" r="2.22"/>
<circle cx="352.9" cy="100.3" r="2.21"/>
<circle cx="298.5" cy="94.6" r="2.17"/>
<circle cx="319.1" cy="106.7" r="2.02"/>
<circle cx="349.6" cy="100.2" r="1.91"/>
<circle cx="324.9" cy="118.8" r="2.13"/>
<circle cx="310.4" cy="75.5" r="1.96"/>
<circle cx="310.9" cy="90.6" r="2.22"/>
<circle cx="320.1" cy="93.3" r="1.83"/>
<circle cx="317.2" cy="85.1" r="2.25"/>
<circle cx="332.3" cy="114.3" r="2.24"/>
<circle cx="325.3" cy="85.8" r="1.93"/>
<circle cx="312.6" cy="106.7" r="1.83"/>
<circle cx="312.6" cy="76.1" r="2.17"/>
<circle cx="307.2" cy="118.0" r="1.72"/>
<circle cx="325.9" cy="79.5" r="2.10"/>
<circle cx="343.2" cy="90.6" r="1.71"/>
<circle cx="352.8" cy="93.6" r="2.18"/>
<circle cx="346.3" cy="105.7" r="2.25"/>
<circle cx="311.0" cy="100.7" r="2.10"/>
<circle cx="318.9" cy="79.2" r="1.91"/>
<circle cx="310.7" cy="105.4" r="1.84"/>
<circle cx="331.8" cy="79.2" r="1.93"/>
<circle cx="301.5" cy="91.7" r="2.24"/>
<circle cx="310.4" cy="121.8" r="1.93"/>
<circle cx="312.7" cy="124.4" r="2.09"/>
<circle cx="307.4" cy="99.8" r="2.22"/>
<circle cx="312.9" cy="112.7" r="1.72"/>
<circle cx="310.4" cy="115.5" r="1.71"/>
<circle cx="327.7" cy="103.8" r="2.13"/>
<circle cx="316.6" cy="115.2" r="1.85"/>
<circle cx="332.3" cy="76.1" r="1.91"/>
<circle cx="326.1" cy="73.7" r="1.90"/>
<circle cx="316.7" cy="93.6" r="1.96"/>
<circle cx="310.0" cy="108.3" r="1.87"/>
<circle cx="318.9" cy="123.8" r="2.23"/>
<circle cx="334.7" cy="84.2" r="2.00"/>
<circle cx="340.7" cy="96.9" r="2.29"/>
<circle cx="310.6" cy="97.5" r="2.17"/>
<circle cx="322.0" cy="115.0" r="1.99"/>
<circle cx="307.2" cy="78.2" r="2.26"/>
<circle cx="301.6" cy="82.9" r="2.16"/>
<circle cx="337.6" cy="93.3" r="2.27"/>
<circle cx="350.1" cy="103.8" r="1.78"/>
<circle cx="313.4" cy="96.8" r="1.88"/>
<circle cx="339.8" cy="82.2" r="1.75"/>
<circle cx="312.8" cy="84.3" r="1.70"/>
<circle cx="313.0" cy="87.9" r="2.22"/>
<circle cx="331.3" cy="106.4" r="1.85"/>
<circle cx="342.9" cy="81.7" r="1.89"/>
<circle cx="336.6" cy="79.3" r="2.07"/>
<circle cx="340.6" cy="102.4" r="2.27"/>
<circle cx="303.8" cy="102.1" r="1.83"/>
<circle cx="321.9" cy="103.0" r="1.73"/>
<circle cx="313.4" cy="91.4" r="2.17"/>
<circle cx="310.7" cy="85.5" r="2.21"/>
<circle cx="317.0" cy="109.1" r="2.14"/>
<circle cx="298.3" cy="100.0" r="1.73"/>
<circle cx="298.5" cy="97.2" r="2.16"/>
<circle cx="352.4" cy="96.1" r="1.96"/>
<circle cx="303.6" cy="87.3" r="1.96"/>
<circle cx="329.2" cy="120.6" r="1.78"/>
<circle cx="312.9" cy="79.6" r="2.26"/>
</g>
<g fill="none" stroke="#9a9ad8" stroke-width="1.2">
<circle cx="330.5" cy="47.2" r="2.2"/><circle cx="343.4" cy="47.8" r="2.2"/><circle cx="338" cy="51" r="1.6"/>
<path d="M333,55 q4,-3 8,-1 q4,3 8,-2 q3,-3 6,1"/><path d="M330,58 q3,-4 7,-2 q5,2 9,-3"/>
</g>
<g fill="none" stroke="#5656b4" stroke-width="0.55">
<path d="M340,62 q8,-6 16,-2 q6,4 12,1 q5,-3 10,2 q4,5 10,3"/>
<path d="M352,74 q6,6 12,4 q6,-2 9,4 q3,6 9,5 q5,-1 6,4"/>
<path d="M360,84 q4,6 10,6 q6,0 8,6 q2,6 -4,8 q-6,2 -4,7 q2,4 8,2"/>
<path d="M372,76 q5,4 4,10 q-1,6 5,8 q6,2 6,8 q0,5 6,4"/>
<path d="M366,92 q6,-2 10,3 q4,5 10,2 q6,-3 8,3 q2,6 8,4"/>
<path d="M380,104 q-4,4 -1,7 q4,2 6,-3 M392,100 q2,6 8,5 q6,-1 6,5"/>
<path d="M378,68 q5,-6 11,-3 q5,3 9,-1 M370,66 q4,6 10,5"/>
<path d="M418,52 q4,-6 10,-5 q6,1 8,6 M436,56 q4,4 2,8 q-3,4 1,8 q4,4 0,8"/>
<path d="M432,70 q6,-2 7,4 q1,6 -5,6 M404,96 q6,2 10,-2 q5,-4 10,0 q4,4 9,0"/>
<path d="M407,86 q4,4 8,2 M398,59 q-3,-5 2,-7 q4,-1 5,3"/>
</g>
<path d="M406.5,68 L404.5,78" stroke="#2a2c8e" stroke-width="6.0" stroke-linecap="round" fill="none"/>
<g stroke="#ffffff" stroke-width="0.75" opacity="0.85">
<line x1="404.0" y1="68.3" x2="406.6" y2="70.4"/>
<line x1="403.3" y1="71.6" x2="406.0" y2="73.7"/>
<line x1="402.7" y1="75.0" x2="405.3" y2="77.0"/>
</g>
<path d="M401.5,73 L398,85" stroke="#2a2c8e" stroke-width="6.2" stroke-linecap="round" fill="none"/>
<g stroke="#ffffff" stroke-width="0.75" opacity="0.85">
<line x1="398.9" y1="72.9" x2="401.5" y2="75.2"/>
<line x1="398.1" y1="75.9" x2="400.6" y2="78.2"/>
<line x1="397.2" y1="78.9" x2="399.7" y2="81.2"/>
<line x1="396.3" y1="81.9" x2="398.9" y2="84.2"/>
</g>
<path d="M390.5,86 L399,91" stroke="#2a2c8e" stroke-width="5.6" stroke-linecap="round" fill="none"/>
<g stroke="#ffffff" stroke-width="0.75" opacity="0.85">
<line x1="390.0" y1="88.3" x2="392.7" y2="86.7"/>
<line x1="392.8" y1="90.0" x2="395.6" y2="88.3"/>
<line x1="395.7" y1="91.6" x2="398.4" y2="90.0"/>
</g>
<path d="M399.5,90 L397.5,99" stroke="#2a2c8e" stroke-width="6.0" stroke-linecap="round" fill="none"/>
<g stroke="#ffffff" stroke-width="0.75" opacity="0.85">
<line x1="397.0" y1="90.1" x2="399.6" y2="92.2"/>
<line x1="396.4" y1="93.1" x2="399.0" y2="95.2"/>
<line x1="395.7" y1="96.1" x2="398.3" y2="98.2"/>
</g>
<path d="M392.5,93.5 L396,96" stroke="#2a2c8e" stroke-width="3.5" stroke-linecap="round" fill="none"/>
<g stroke="#ffffff" stroke-width="0.75" opacity="0.85">
<line x1="392.7" y1="95.4" x2="394.9" y2="94.8"/>
</g>
<path d="M414.5,58.5 L421.5,68.5" stroke="#2a2c8e" stroke-width="5.0" stroke-linecap="round" fill="none"/>
<g stroke="#ffffff" stroke-width="0.75" opacity="0.85">
<line x1="413.2" y1="60.2" x2="416.1" y2="60.0"/>
<line x1="415.0" y1="62.7" x2="417.9" y2="62.5"/>
<line x1="416.7" y1="65.2" x2="419.6" y2="65.0"/>
<line x1="418.5" y1="67.7" x2="421.4" y2="67.5"/>
</g>
<path d="M417.5,71.5 L426.5,74.5" stroke="#2a2c8e" stroke-width="4.6" stroke-linecap="round" fill="none"/>
<g stroke="#ffffff" stroke-width="0.75" opacity="0.85">
<line x1="417.6" y1="73.5" x2="419.7" y2="71.8"/>
<line x1="420.6" y1="74.5" x2="422.7" y2="72.8"/>
<line x1="423.6" y1="75.5" x2="425.7" y2="73.8"/>
</g>
<path d="M415,76.5 L417.5,84.5" stroke="#2a2c8e" stroke-width="4.8" stroke-linecap="round" fill="none"/>
<g stroke="#ffffff" stroke-width="0.75" opacity="0.85">
<line x1="413.5" y1="78.2" x2="416.3" y2="78.9"/>
<line x1="414.8" y1="82.2" x2="417.5" y2="82.9"/>
</g>
<path d="M423.5,80 L429,87.5" stroke="#2a2c8e" stroke-width="5.2" stroke-linecap="round" fill="none"/>
<g stroke="#ffffff" stroke-width="0.75" opacity="0.85">
<line x1="422.2" y1="81.8" x2="425.2" y2="81.4"/>
<line x1="424.0" y1="84.3" x2="427.0" y2="83.9"/>
<line x1="425.9" y1="86.8" x2="428.9" y2="86.4"/>
</g>
<path d="M428.5,77.5 L431.5,86" stroke="#10105a" stroke-width="1.6" fill="none"/>
<g fill="none" stroke="#2a2c8e" stroke-width="1.5">
<ellipse cx="362.5" cy="58.5" rx="3.6" ry="2.6"/><ellipse cx="404.5" cy="64.5" rx="3.2" ry="2.4"/><ellipse cx="413.6" cy="54.4" rx="2.0" ry="2.3"/>
</g>
<g fill="none" stroke-linecap="round">
<path d="M284,62 q6,-3 12,2 M287,67 q4,3 10,1 M289,76 q10,6 22,5" stroke="#2a4fb0" stroke-width="0.8"/>
</g>
<path d="M298,63.5 L366,68" stroke="#1a78e0" stroke-width="6.0" stroke-linecap="round" fill="none"/>
<g stroke="#0b4fae" stroke-width="1.0" opacity="0.9">
<line x1="298.8" y1="66.1" x2="300.8" y2="61.1"/>
<line x1="302.6" y1="66.4" x2="304.6" y2="61.4"/>
<line x1="306.3" y1="66.6" x2="308.3" y2="61.6"/>
<line x1="310.1" y1="66.9" x2="312.1" y2="61.9"/>
<line x1="313.9" y1="67.1" x2="315.9" y2="62.1"/>
<line x1="317.7" y1="67.4" x2="319.7" y2="62.4"/>
<line x1="321.5" y1="67.6" x2="323.5" y2="62.6"/>
<line x1="325.2" y1="67.9" x2="327.2" y2="62.9"/>
<line x1="329.0" y1="68.1" x2="331.0" y2="63.1"/>
<line x1="332.8" y1="68.4" x2="334.8" y2="63.4"/>
<line x1="336.6" y1="68.6" x2="338.6" y2="63.6"/>
<line x1="340.3" y1="68.9" x2="342.3" y2="63.9"/>
<line x1="344.1" y1="69.1" x2="346.1" y2="64.1"/>
<line x1="347.9" y1="69.4" x2="349.9" y2="64.4"/>
<line x1="351.7" y1="69.6" x2="353.7" y2="64.6"/>
<line x1="355.5" y1="69.9" x2="357.5" y2="64.9"/>
<line x1="359.2" y1="70.1" x2="361.2" y2="65.1"/>
<line x1="363.0" y1="70.4" x2="365.0" y2="65.4"/>
</g>
<g stroke="#6fb0ff" stroke-width="0.7" opacity="0.8">
<line x1="298.3" y1="62.9" x2="299.1" y2="61.3"/>
<line x1="302.0" y1="63.2" x2="302.8" y2="61.5"/>
<line x1="305.8" y1="63.4" x2="306.6" y2="61.8"/>
<line x1="309.6" y1="63.7" x2="310.4" y2="62.0"/>
<line x1="313.4" y1="63.9" x2="314.2" y2="62.3"/>
<line x1="317.1" y1="64.2" x2="317.9" y2="62.5"/>
<line x1="320.9" y1="64.5" x2="321.7" y2="62.8"/>
<line x1="324.7" y1="64.7" x2="325.5" y2="63.0"/>
<line x1="328.5" y1="65.0" x2="329.3" y2="63.3"/>
<line x1="332.3" y1="65.2" x2="333.1" y2="63.5"/>
<line x1="336.0" y1="65.5" x2="336.8" y2="63.8"/>
<line x1="339.8" y1="65.7" x2="340.6" y2="64.0"/>
<line x1="343.6" y1="66.0" x2="344.4" y2="64.3"/>
<line x1="347.4" y1="66.2" x2="348.2" y2="64.5"/>
<line x1="351.1" y1="66.5" x2="351.9" y2="64.8"/>
<line x1="354.9" y1="66.7" x2="355.7" y2="65.0"/>
<line x1="358.7" y1="67.0" x2="359.5" y2="65.3"/>
<line x1="362.5" y1="67.2" x2="363.3" y2="65.5"/>
</g>
<path d="M299,70 L342,75.5" stroke="#1a78e0" stroke-width="5.4" stroke-linecap="round" fill="none"/>
<g stroke="#0b4fae" stroke-width="1.0" opacity="0.9">
<line x1="299.7" y1="72.5" x2="301.7" y2="68.0"/>
<line x1="303.3" y1="73.0" x2="305.3" y2="68.4"/>
<line x1="306.9" y1="73.4" x2="308.9" y2="68.9"/>
<line x1="310.4" y1="73.9" x2="312.4" y2="69.3"/>
<line x1="314.0" y1="74.3" x2="316.0" y2="69.8"/>
<line x1="317.6" y1="74.8" x2="319.6" y2="70.3"/>
<line x1="321.2" y1="75.2" x2="323.2" y2="70.7"/>
<line x1="324.8" y1="75.7" x2="326.8" y2="71.2"/>
<line x1="328.4" y1="76.2" x2="330.4" y2="71.6"/>
<line x1="331.9" y1="76.6" x2="333.9" y2="72.1"/>
<line x1="335.5" y1="77.1" x2="337.5" y2="72.5"/>
<line x1="339.1" y1="77.5" x2="341.1" y2="73.0"/>
</g>
<g stroke="#6fb0ff" stroke-width="0.7" opacity="0.8">
<line x1="299.2" y1="69.6" x2="300.0" y2="68.0"/>
<line x1="302.8" y1="70.0" x2="303.6" y2="68.5"/>
<line x1="306.4" y1="70.5" x2="307.2" y2="69.0"/>
<line x1="310.0" y1="70.9" x2="310.8" y2="69.4"/>
<line x1="313.6" y1="71.4" x2="314.4" y2="69.9"/>
<line x1="317.1" y1="71.8" x2="317.9" y2="70.3"/>
<line x1="320.7" y1="72.3" x2="321.5" y2="70.8"/>
<line x1="324.3" y1="72.8" x2="325.1" y2="71.2"/>
<line x1="327.9" y1="73.2" x2="328.7" y2="71.7"/>
<line x1="331.5" y1="73.7" x2="332.3" y2="72.2"/>
<line x1="335.1" y1="74.1" x2="335.9" y2="72.6"/>
<line x1="338.6" y1="74.6" x2="339.4" y2="73.1"/>
</g>
<path d="M328,81.3 L380,80.6" stroke="#1a78e0" stroke-width="5.8" stroke-linecap="round" fill="none"/>
<g stroke="#0b4fae" stroke-width="1.0" opacity="0.9">
<line x1="328.8" y1="83.7" x2="330.8" y2="78.8"/>
<line x1="332.5" y1="83.7" x2="334.5" y2="78.8"/>
<line x1="336.2" y1="83.6" x2="338.2" y2="78.7"/>
<line x1="339.9" y1="83.6" x2="341.9" y2="78.7"/>
<line x1="343.6" y1="83.5" x2="345.6" y2="78.6"/>
<line x1="347.3" y1="83.5" x2="349.3" y2="78.6"/>
<line x1="351.0" y1="83.4" x2="353.0" y2="78.5"/>
<line x1="354.8" y1="83.4" x2="356.8" y2="78.5"/>
<line x1="358.5" y1="83.3" x2="360.5" y2="78.4"/>
<line x1="362.2" y1="83.3" x2="364.2" y2="78.4"/>
<line x1="365.9" y1="83.2" x2="367.9" y2="78.3"/>
<line x1="369.6" y1="83.2" x2="371.6" y2="78.3"/>
<line x1="373.3" y1="83.1" x2="375.3" y2="78.2"/>
<line x1="377.0" y1="83.1" x2="379.0" y2="78.2"/>
</g>
<g stroke="#6fb0ff" stroke-width="0.7" opacity="0.8">
<line x1="328.2" y1="80.7" x2="329.0" y2="79.1"/>
<line x1="332.0" y1="80.7" x2="332.8" y2="79.0"/>
<line x1="335.7" y1="80.6" x2="336.5" y2="79.0"/>
<line x1="339.4" y1="80.6" x2="340.2" y2="78.9"/>
<line x1="343.1" y1="80.5" x2="343.9" y2="78.9"/>
<line x1="346.8" y1="80.5" x2="347.6" y2="78.8"/>
<line x1="350.5" y1="80.4" x2="351.3" y2="78.8"/>
<line x1="354.2" y1="80.4" x2="355.0" y2="78.7"/>
<line x1="358.0" y1="80.3" x2="358.8" y2="78.7"/>
<line x1="361.7" y1="80.3" x2="362.5" y2="78.6"/>
<line x1="365.4" y1="80.2" x2="366.2" y2="78.6"/>
<line x1="369.1" y1="80.2" x2="369.9" y2="78.5"/>
<line x1="372.8" y1="80.1" x2="373.6" y2="78.5"/>
<line x1="376.5" y1="80.1" x2="377.3" y2="78.4"/>
</g>
<path d="M348,70.5 L372.5,80.2 L371.5,82.6 L347,73.2 z" fill="#2c2f96"/>
<text x="328.50" y="27.80" font-size="10.4" text-anchor="start" fill="#000">ZIKV NS5</text>
<text x="345.50" y="39.90" font-size="10.4" text-anchor="start" fill="#7b7b7b">polymerase</text>
<line x1="331.70" y1="40.50" x2="344.80" y2="37.60" stroke="#555" stroke-width="0.8"/>
<text x="360.60" y="52.80" font-size="10.4" text-anchor="start" fill="#b3b3ec">STAT2 ND</text>
<line x1="347.00" y1="52.20" x2="358.70" y2="50.00" stroke="#b3b3ec" stroke-width="0.8"/>
<line x1="337.70" y1="95.00" x2="357.30" y2="115.10" stroke="#3a70b8" stroke-width="1.0"/>
<text x="360.10" y="122.70" font-size="10.4" text-anchor="start" fill="#4a86cc">STAT2 CCD</text>
<line x1="342.50" y1="121.50" x2="345.70" y2="125.80" stroke="#222" stroke-width="0.8"/>
<text x="341.70" y="133.60" font-size="10.4" text-anchor="start" fill="#000">methyltransferase</text>
<text x="445.80" y="16.30" font-size="18.5" text-anchor="start" fill="#000">c</text>
<text x="546.3" y="56.0" font-size="10.4" text-anchor="end"><tspan font-style="italic">Homo sapiens</tspan> STAT2</text>
<text x="546.30" y="72.00" font-size="10.4" text-anchor="end" fill="#000">STAT2 Ortholog</text>
<text x="546.30" y="87.60" font-size="10.4" text-anchor="end" fill="#000">ND/CCD chimera</text>
<text x="553.00" y="44.50" font-size="10.4" text-anchor="start" fill="#000">ND</text>
<text x="572.60" y="44.50" font-size="10.4" text-anchor="start" fill="#000">CCD</text>
<rect x="549.50" y="46.30" width="21.20" height="12.10" fill="#c6c6f4" stroke="#333" stroke-width="0.8" rx="1.2"/>
<rect x="571.30" y="46.30" width="28.00" height="12.10" fill="#5b95ce" stroke="#333" stroke-width="0.8" rx="1.2"/>
<rect x="599.70" y="46.30" width="26.70" height="12.10" fill="#2f3390" stroke="#333" stroke-width="0.8" rx="1.2"/>
<rect x="626.80" y="46.30" width="13.20" height="12.10" fill="#2f3390" stroke="#333" stroke-width="0.8" rx="1.2"/>
<rect x="640.50" y="46.30" width="19.70" height="12.10" fill="#2f3390" stroke="#333" stroke-width="0.8" rx="1.2"/>
<rect x="661.00" y="46.30" width="23.60" height="12.10" fill="#2f3390" stroke="#333" stroke-width="0.8" rx="1.2"/>
<rect x="549.50" y="62.70" width="21.20" height="12.00" fill="#e0001b" stroke="#333" stroke-width="0.8" rx="1.2"/>
<rect x="571.30" y="62.70" width="28.00" height="12.00" fill="#e0001b" stroke="#333" stroke-width="0.8" rx="1.2"/>
<rect x="599.70" y="62.70" width="26.70" height="12.00" fill="#e0001b" stroke="#333" stroke-width="0.8" rx="1.2"/>
<rect x="626.80" y="62.70" width="13.20" height="12.00" fill="#e0001b" stroke="#333" stroke-width="0.8" rx="1.2"/>
<rect x="640.50" y="62.70" width="19.70" height="12.00" fill="#e0001b" stroke="#333" stroke-width="0.8" rx="1.2"/>
<rect x="661.00" y="62.70" width="23.60" height="12.00" fill="#e0001b" stroke="#333" stroke-width="0.8" rx="1.2"/>
<rect x="549.50" y="79.00" width="21.20" height="12.20" fill="#e0001b" stroke="#333" stroke-width="0.8" rx="1.2"/>
<rect x="571.30" y="79.00" width="28.00" height="12.20" fill="#e0001b" stroke="#333" stroke-width="0.8" rx="1.2"/>
<rect x="599.70" y="79.00" width="26.70" height="12.20" fill="#2f3390" stroke="#333" stroke-width="0.8" rx="1.2"/>
<rect x="626.80" y="79.00" width="13.20" height="12.20" fill="#2f3390" stroke="#333" stroke-width="0.8" rx="1.2"/>
<rect x="640.50" y="79.00" width="19.70" height="12.20" fill="#2f3390" stroke="#333" stroke-width="0.8" rx="1.2"/>
<rect x="661.00" y="79.00" width="23.60" height="12.20" fill="#2f3390" stroke="#333" stroke-width="0.8" rx="1.2"/>
<path d="M549.7,92.4 q0,4.6 3.6,4.6 l18.5,0 q3.4,0 3.6,4 q0.2,-4 3.6,-4 l17.5,0 q3.6,0 3.6,-4.6" fill="none" stroke="#222" stroke-width="0.8"/>
<text x="548.00" y="112.20" font-size="10.4" text-anchor="start" fill="#000">NS5 binding region</text>
<text x="-0.40" y="173.40" font-size="18.5" text-anchor="start" fill="#000">d</text>
<rect x="3.10" y="194.20" width="249.90" height="167.30" fill="#eff0f0"/>
<rect x="3.10" y="361.50" width="249.90" height="10.30" fill="#e5e6e6"/>
<rect x="3.10" y="371.80" width="249.90" height="93.20" fill="#d4d5d5"/>
<rect x="3.10" y="465.00" width="249.90" height="52.00" fill="#bebfbf"/>
<rect x="3.10" y="517.00" width="249.90" height="20.00" fill="#acadad"/>
<rect x="3.10" y="537.00" width="249.90" height="31.20" fill="#9d9e9f"/>
<rect x="3.10" y="568.20" width="249.90" height="10.00" fill="#8f9091"/>
<rect x="3.10" y="578.20" width="249.90" height="10.60" fill="#808183"/>
<g stroke="#2a2a2a" stroke-width="0.9" stroke-linecap="square">
<line x1="133.40" y1="200.80" x2="136.80" y2="200.80"/>
<line x1="133.40" y1="211.17" x2="136.80" y2="211.17"/>
<line x1="133.40" y1="200.80" x2="133.40" y2="211.17"/>
<line x1="132.50" y1="205.98" x2="133.40" y2="205.98"/>
<line x1="132.50" y1="221.53" x2="136.80" y2="221.53"/>
<line x1="132.50" y1="205.98" x2="132.50" y2="221.53"/>
<line x1="129.70" y1="213.76" x2="132.50" y2="213.76"/>
<line x1="129.70" y1="231.90" x2="136.80" y2="231.90"/>
<line x1="129.70" y1="213.76" x2="129.70" y2="231.90"/>
<line x1="127.40" y1="222.83" x2="129.70" y2="222.83"/>
<line x1="127.40" y1="242.26" x2="136.80" y2="242.26"/>
<line x1="127.40" y1="222.83" x2="127.40" y2="242.26"/>
<line x1="120.00" y1="232.54" x2="127.40" y2="232.54"/>
<line x1="132.00" y1="252.62" x2="136.80" y2="252.62"/>
<line x1="132.00" y1="262.99" x2="136.80" y2="262.99"/>
<line x1="132.00" y1="252.62" x2="132.00" y2="262.99"/>
<line x1="130.70" y1="257.81" x2="132.00" y2="257.81"/>
<line x1="133.70" y1="273.36" x2="136.80" y2="273.36"/>
<line x1="133.70" y1="283.72" x2="136.80" y2="283.72"/>
<line x1="133.70" y1="273.36" x2="133.70" y2="283.72"/>
<line x1="130.70" y1="278.54" x2="133.70" y2="278.54"/>
<line x1="130.70" y1="257.81" x2="130.70" y2="278.54"/>
<line x1="130.20" y1="268.17" x2="130.70" y2="268.17"/>
<line x1="130.20" y1="294.09" x2="136.80" y2="294.09"/>
<line x1="130.20" y1="268.17" x2="130.20" y2="294.09"/>
<line x1="127.40" y1="281.13" x2="130.20" y2="281.13"/>
<line x1="127.40" y1="304.45" x2="136.80" y2="304.45"/>
<line x1="127.40" y1="281.13" x2="127.40" y2="304.45"/>
<line x1="120.00" y1="292.79" x2="127.40" y2="292.79"/>
<line x1="120.00" y1="232.54" x2="120.00" y2="292.79"/>
<line x1="111.40" y1="262.67" x2="120.00" y2="262.67"/>
<line x1="133.70" y1="314.81" x2="136.80" y2="314.81"/>
<line x1="133.70" y1="325.18" x2="136.80" y2="325.18"/>
<line x1="133.70" y1="314.81" x2="133.70" y2="325.18"/>
<line x1="126.90" y1="320.00" x2="133.70" y2="320.00"/>
<line x1="126.90" y1="335.55" x2="136.80" y2="335.55"/>
<line x1="126.90" y1="320.00" x2="126.90" y2="335.55"/>
<line x1="126.40" y1="327.77" x2="126.90" y2="327.77"/>
<line x1="126.40" y1="345.91" x2="136.80" y2="345.91"/>
<line x1="126.40" y1="327.77" x2="126.40" y2="345.91"/>
<line x1="111.40" y1="336.84" x2="126.40" y2="336.84"/>
<line x1="111.40" y1="262.67" x2="111.40" y2="336.84"/>
<line x1="82.60" y1="299.75" x2="111.40" y2="299.75"/>
<line x1="82.60" y1="356.27" x2="136.80" y2="356.27"/>
<line x1="82.60" y1="299.75" x2="82.60" y2="356.27"/>
<line x1="79.10" y1="328.01" x2="82.60" y2="328.01"/>
<line x1="82.80" y1="366.64" x2="136.80" y2="366.64"/>
<line x1="88.10" y1="377.00" x2="136.80" y2="377.00"/>
<line x1="105.00" y1="387.37" x2="136.80" y2="387.37"/>
<line x1="105.00" y1="397.74" x2="136.80" y2="397.74"/>
<line x1="105.00" y1="387.37" x2="105.00" y2="397.74"/>
<line x1="88.10" y1="392.55" x2="105.00" y2="392.55"/>
<line x1="88.10" y1="377.00" x2="88.10" y2="392.55"/>
<line x1="84.40" y1="384.78" x2="88.10" y2="384.78"/>
<line x1="92.10" y1="408.10" x2="136.80" y2="408.10"/>
<line x1="108.30" y1="418.47" x2="136.80" y2="418.47"/>
<line x1="108.30" y1="428.83" x2="136.80" y2="428.83"/>
<line x1="108.30" y1="418.47" x2="108.30" y2="428.83"/>
<line x1="98.40" y1="423.65" x2="108.30" y2="423.65"/>
<line x1="115.50" y1="439.20" x2="136.80" y2="439.20"/>
<line x1="115.50" y1="449.56" x2="136.80" y2="449.56"/>
<line x1="115.50" y1="439.20" x2="115.50" y2="449.56"/>
<line x1="98.40" y1="444.38" x2="115.50" y2="444.38"/>
<line x1="98.40" y1="423.65" x2="98.40" y2="444.38"/>
<line x1="92.10" y1="434.01" x2="98.40" y2="434.01"/>
<line x1="92.10" y1="408.10" x2="92.10" y2="434.01"/>
<line x1="90.60" y1="421.06" x2="92.10" y2="421.06"/>
<line x1="90.60" y1="459.93" x2="136.80" y2="459.93"/>
<line x1="90.60" y1="421.06" x2="90.60" y2="459.93"/>
<line x1="84.40" y1="440.49" x2="90.60" y2="440.49"/>
<line x1="84.40" y1="384.78" x2="84.40" y2="440.49"/>
<line x1="82.80" y1="412.63" x2="84.40" y2="412.63"/>
<line x1="82.80" y1="366.64" x2="82.80" y2="412.63"/>
<line x1="79.10" y1="389.64" x2="82.80" y2="389.64"/>
<line x1="79.10" y1="328.01" x2="79.10" y2="389.64"/>
<line x1="72.50" y1="358.83" x2="79.10" y2="358.83"/>
<line x1="92.60" y1="470.29" x2="136.80" y2="470.29"/>
<line x1="125.50" y1="480.66" x2="136.80" y2="480.66"/>
<line x1="130.50" y1="491.02" x2="136.80" y2="491.02"/>
<line x1="130.50" y1="501.38" x2="136.80" y2="501.38"/>
<line x1="130.50" y1="491.02" x2="130.50" y2="501.38"/>
<line x1="125.50" y1="496.20" x2="130.50" y2="496.20"/>
<line x1="125.50" y1="480.66" x2="125.50" y2="496.20"/>
<line x1="92.60" y1="488.43" x2="125.50" y2="488.43"/>
<line x1="92.60" y1="470.29" x2="92.60" y2="488.43"/>
<line x1="89.50" y1="479.36" x2="92.60" y2="479.36"/>
<line x1="89.50" y1="511.75" x2="136.80" y2="511.75"/>
<line x1="89.50" y1="479.36" x2="89.50" y2="511.75"/>
<line x1="84.00" y1="495.55" x2="89.50" y2="495.55"/>
<line x1="106.40" y1="522.12" x2="136.80" y2="522.12"/>
<line x1="106.40" y1="532.48" x2="136.80" y2="532.48"/>
<line x1="106.40" y1="522.12" x2="106.40" y2="532.48"/>
<line x1="84.00" y1="527.30" x2="106.40" y2="527.30"/>
<line x1="84.00" y1="495.55" x2="84.00" y2="527.30"/>
<line x1="83.30" y1="511.43" x2="84.00" y2="511.43"/>
<line x1="95.00" y1="542.85" x2="136.80" y2="542.85"/>
<line x1="107.50" y1="553.21" x2="136.80" y2="553.21"/>
<line x1="107.50" y1="563.58" x2="136.80" y2="563.58"/>
<line x1="107.50" y1="553.21" x2="107.50" y2="563.58"/>
<line x1="95.00" y1="558.39" x2="107.50" y2="558.39"/>
<line x1="95.00" y1="542.85" x2="95.00" y2="558.39"/>
<line x1="83.30" y1="550.62" x2="95.00" y2="550.62"/>
<line x1="83.30" y1="511.43" x2="83.30" y2="550.62"/>
<line x1="72.50" y1="531.02" x2="83.30" y2="531.02"/>
<line x1="72.50" y1="358.83" x2="72.50" y2="531.02"/>
<line x1="69.10" y1="444.92" x2="72.50" y2="444.92"/>
<line x1="69.10" y1="573.94" x2="136.80" y2="573.94"/>
<line x1="69.10" y1="444.92" x2="69.10" y2="573.94"/>
<line x1="12.00" y1="509.43" x2="69.10" y2="509.43"/>
<line x1="66.00" y1="584.31" x2="136.80" y2="584.31"/>
<line x1="12.00" y1="509.43" x2="12.00" y2="584.31"/>
<line x1="7.50" y1="546.87" x2="12.00" y2="546.87"/>
</g>
<text x="4.40" y="282.30" font-size="10.4" text-anchor="start" fill="#000">Primates</text>
<text x="4.40" y="370.00" font-size="10.4" text-anchor="start" fill="#000">Lagomorpha</text>
<text x="4.40" y="425.00" font-size="10.4" text-anchor="start" fill="#000">Rodentia</text>
<text x="4.40" y="495.00" font-size="10.4" text-anchor="start" fill="#000">Artiodactyla</text>
<text x="4.40" y="530.60" font-size="10.4" text-anchor="start" fill="#000">Carnivora</text>
<text x="4.40" y="556.80" font-size="10.4" text-anchor="start" fill="#000">Chiroptera</text>
<text x="4.40" y="576.60" font-size="10.4" text-anchor="start" fill="#000">Proboscidea</text>
<text x="4.40" y="586.60" font-size="10.4" text-anchor="start" fill="#000">Diprotodontia</text>
<text x="140.30" y="203.90" font-size="10.55" text-anchor="start" fill="#000" font-style="italic">Homo sapiens</text>
<text x="140.30" y="214.27" font-size="10.55" text-anchor="start" fill="#000" font-style="italic">Pan troglodytes</text>
<text x="140.30" y="224.63" font-size="10.55" text-anchor="start" fill="#000" font-style="italic">Gorilla gorilla gorilla</text>
<text x="140.30" y="235.00" font-size="10.55" text-anchor="start" fill="#000" font-style="italic">Pongo abelii</text>
<text x="140.30" y="245.36" font-size="10.55" text-anchor="start" fill="#000" font-style="italic">Nomascus leucogenys</text>
<text x="140.30" y="255.72" font-size="10.55" text-anchor="start" fill="#000" font-style="italic">Chlorocebus sabaeus</text>
<text x="140.30" y="266.09" font-size="10.55" text-anchor="start" fill="#000" font-style="italic">Papio anubis</text>
<text x="140.30" y="276.46" font-size="10.55" text-anchor="start" fill="#000" font-style="italic">Macaca nemestrina</text>
<text x="140.30" y="286.82" font-size="10.55" text-anchor="start" fill="#000" font-style="italic">Macaca mulatta</text>
<text x="140.30" y="297.19" font-size="10.55" text-anchor="start" fill="#000" font-style="italic">Cercocebus atys</text>
<text x="140.30" y="307.55" font-size="10.55" text-anchor="start" fill="#000" font-style="italic">Rhinopithecus roxellana</text>
<text x="140.30" y="317.92" font-size="10.55" text-anchor="start" fill="#000" font-style="italic" textLength="63.6" lengthAdjust="spacingAndGlyphs">Sapajus apella</text>
<text x="140.30" y="328.28" font-size="10.55" text-anchor="start" fill="#000" font-style="italic">Cebus imitator</text>
<text x="140.30" y="338.65" font-size="10.55" text-anchor="start" fill="#000" font-style="italic">Aotus nancymaae</text>
<text x="140.30" y="349.01" font-size="10.55" text-anchor="start" fill="#000" font-style="italic">Callithrix jacchus</text>
<text x="140.30" y="359.38" font-size="10.55" text-anchor="start" fill="#000" font-style="italic">Propithecus coquereli</text>
<text x="140.30" y="369.74" font-size="10.55" text-anchor="start" fill="#000" font-style="italic">Oryctolagus cuniculus</text>
<text x="140.30" y="380.11" font-size="10.55" text-anchor="start" fill="#000" font-style="italic">Marmota flaviventris</text>
<text x="140.30" y="390.47" font-size="10.55" text-anchor="start" fill="#000" font-style="italic">Heterocephalus glaber</text>
<text x="140.30" y="400.84" font-size="10.55" text-anchor="start" fill="#000" font-style="italic">Cavia porcellus</text>
<text x="140.30" y="411.20" font-size="10.55" text-anchor="start" fill="#000" font-style="italic">Jaculus jaculus</text>
<text x="140.30" y="421.57" font-size="10.55" text-anchor="start" fill="#000" font-style="italic" textLength="81.8" lengthAdjust="spacingAndGlyphs">Arvicola amphibius</text>
<text x="140.30" y="431.93" font-size="10.55" text-anchor="start" fill="#000" font-style="italic">Rattus rattus</text>
<text x="140.30" y="442.30" font-size="10.55" text-anchor="start" fill="#000" font-style="italic">Mesocricetus auratus</text>
<text x="140.30" y="452.66" font-size="10.55" text-anchor="start" fill="#000" font-style="italic">Mus musculus</text>
<text x="140.30" y="463.03" font-size="10.55" text-anchor="start" fill="#000" font-style="italic">Castor canadensis</text>
<text x="140.30" y="473.39" font-size="10.55" text-anchor="start" fill="#000" font-style="italic">Sus scrofa</text>
<text x="140.30" y="483.76" font-size="10.55" text-anchor="start" fill="#000" font-style="italic">Ovis aries</text>
<text x="140.30" y="494.12" font-size="10.55" text-anchor="start" fill="#000" font-style="italic" textLength="68.6" lengthAdjust="spacingAndGlyphs">Bubalus bubalis</text>
<text x="140.30" y="504.49" font-size="10.55" text-anchor="start" fill="#000" font-style="italic">Bos taurus</text>
<text x="140.30" y="514.85" font-size="10.55" text-anchor="start" fill="#000" font-style="italic">Camelus dromedarius</text>
<text x="140.30" y="525.22" font-size="10.55" text-anchor="start" fill="#000" font-style="italic">Canis lupus familiaris</text>
<text x="140.30" y="535.58" font-size="10.55" text-anchor="start" fill="#000" font-style="italic">Felis catus</text>
<text x="140.30" y="545.95" font-size="10.55" text-anchor="start" fill="#000" font-style="italic">Pteropus alecto</text>
<text x="140.30" y="556.31" font-size="10.55" text-anchor="start" fill="#000" font-style="italic">Pipistrellus kuhlii</text>
<text x="140.30" y="566.68" font-size="10.55" text-anchor="start" fill="#000" font-style="italic">Miniopterus natalensis</text>
<text x="140.30" y="577.04" font-size="10.55" text-anchor="start" fill="#000" font-style="italic">Loxodonta africana</text>
<text x="140.30" y="587.41" font-size="10.55" text-anchor="start" fill="#000" font-style="italic">Phascolarctos cinereus</text>
<text x="141.00" y="597.40" font-size="10.4" text-anchor="start" fill="#000">No STAT2</text>
<line x1="137.20" y1="602.30" x2="137.20" y2="607.30" stroke="#333" stroke-width="0.9"/>
<text x="137.70" y="617.70" font-size="10.4" text-anchor="middle" fill="#000">0</text>
<line x1="121.32" y1="602.80" x2="121.32" y2="605.60" stroke="#333" stroke-width="0.9"/>
<line x1="105.45" y1="602.30" x2="105.45" y2="607.30" stroke="#333" stroke-width="0.9"/>
<text x="105.95" y="617.70" font-size="10.4" text-anchor="middle" fill="#000">40</text>
<line x1="89.57" y1="602.80" x2="89.57" y2="605.60" stroke="#333" stroke-width="0.9"/>
<line x1="73.70" y1="602.30" x2="73.70" y2="607.30" stroke="#333" stroke-width="0.9"/>
<text x="74.20" y="617.70" font-size="10.4" text-anchor="middle" fill="#000">80</text>
<line x1="57.82" y1="602.80" x2="57.82" y2="605.60" stroke="#333" stroke-width="0.9"/>
<line x1="41.94" y1="602.30" x2="41.94" y2="607.30" stroke="#333" stroke-width="0.9"/>
<text x="42.44" y="617.70" font-size="10.4" text-anchor="middle" fill="#000">120</text>
<line x1="26.07" y1="602.80" x2="26.07" y2="605.60" stroke="#333" stroke-width="0.9"/>
<line x1="10.19" y1="602.30" x2="10.19" y2="607.30" stroke="#333" stroke-width="0.9"/>
<text x="10.69" y="617.70" font-size="10.4" text-anchor="middle" fill="#000">160</text>
<text x="2.30" y="627.50" font-size="10.55" text-anchor="start" fill="#000">Time before present (Millions of years ago)</text>
<text x="246.40" y="172.70" font-size="18.5" text-anchor="start" fill="#000">e</text>
<text transform="translate(266.40,152.80) rotate(90)" font-size="10.4" fill="#000">43 kDa</text>
<text transform="translate(276.30,152.80) rotate(90)" font-size="10.4" fill="#000">55 kDa</text>
<text transform="translate(286.80,148.20) rotate(90)" font-size="10.4" fill="#000">130 kDa</text>
<text transform="translate(297.30,148.20) rotate(90)" font-size="10.4" fill="#000">170 kDa</text>
<line x1="270.60" y1="189.00" x2="270.60" y2="193.20" stroke="#333" stroke-width="0.9"/>
<line x1="281.10" y1="189.00" x2="281.10" y2="193.20" stroke="#333" stroke-width="0.9"/>
<line x1="291.40" y1="189.00" x2="291.40" y2="193.20" stroke="#333" stroke-width="0.9"/>
<line x1="299.00" y1="189.00" x2="299.00" y2="193.20" stroke="#333" stroke-width="0.9"/>
<rect x="266.40" y="194.30" width="15.80" height="404.60" fill="#fdfdfd"/>
<rect x="287.50" y="194.30" width="15.90" height="404.60" fill="#fdfdfd"/>
<rect x="268.6" y="196" width="7.4" height="401" fill="#ececec" filter="url(#blur2)"/>
<g filter="url(#blur06)">
<rect x="271.2" y="196.0" width="2.5" height="7.8" rx="1.2" fill="#161616" transform="rotate(3 272.5 199.9)"/>
<rect x="270.9" y="206.3" width="2.5" height="7.8" rx="1.2" fill="#161616" transform="rotate(3 272.1 210.2)"/>
<rect x="270.4" y="216.7" width="2.5" height="7.8" rx="1.2" fill="#161616" transform="rotate(3 271.6 220.6)"/>
<rect x="270.1" y="227.0" width="2.5" height="7.8" rx="1.2" fill="#161616" transform="rotate(3 271.4 230.9)"/>
<rect x="270.1" y="237.4" width="2.5" height="7.8" rx="1.2" fill="#161616" transform="rotate(3 271.4 241.3)"/>
<rect x="270.4" y="247.8" width="2.5" height="7.8" rx="1.2" fill="#161616" transform="rotate(3 271.6 251.7)"/>
<rect x="270.8" y="258.1" width="2.5" height="7.8" rx="1.2" fill="#161616" transform="rotate(3 272.0 262.0)"/>
<rect x="271.1" y="268.5" width="2.5" height="7.8" rx="1.2" fill="#161616" transform="rotate(3 272.4 272.4)"/>
<rect x="271.6" y="278.8" width="2.5" height="7.8" rx="1.2" fill="#161616" transform="rotate(3 272.8 282.7)"/>
<rect x="271.9" y="289.2" width="2.5" height="7.8" rx="1.2" fill="#161616" transform="rotate(3 273.1 293.1)"/>
<rect x="272.1" y="299.5" width="2.5" height="7.8" rx="1.2" fill="#161616" transform="rotate(3 273.3 303.4)"/>
<rect x="271.9" y="309.9" width="2.5" height="7.8" rx="1.2" fill="#161616" transform="rotate(3 273.1 313.8)"/>
<rect x="271.6" y="320.2" width="2.5" height="7.8" rx="1.2" fill="#161616" transform="rotate(3 272.8 324.1)"/>
<rect x="271.4" y="330.6" width="2.5" height="7.8" rx="1.2" fill="#161616" transform="rotate(3 272.6 334.4)"/>
<rect x="271.4" y="340.9" width="2.5" height="7.8" rx="1.2" fill="#161616" transform="rotate(3 272.7 344.8)"/>
<rect x="271.6" y="351.2" width="2.5" height="7.8" rx="1.2" fill="#161616" transform="rotate(3 272.9 355.1)"/>
<rect x="271.9" y="361.6" width="2.5" height="7.8" rx="1.2" fill="#161616" transform="rotate(3 273.1 365.5)"/>
<rect x="271.9" y="372.0" width="2.5" height="7.8" rx="1.2" fill="#161616" transform="rotate(3 273.2 375.9)"/>
<rect x="272.1" y="382.3" width="2.5" height="7.8" rx="1.2" fill="#161616" transform="rotate(3 273.4 386.2)"/>
<rect x="272.1" y="392.7" width="2.5" height="7.8" rx="1.2" fill="#161616" transform="rotate(3 273.4 396.6)"/>
<rect x="272.1" y="403.0" width="2.5" height="7.8" rx="1.2" fill="#161616" transform="rotate(3 273.3 406.9)"/>
<rect x="271.8" y="413.4" width="2.5" height="7.8" rx="1.2" fill="#161616" transform="rotate(3 273.0 417.2)"/>
<rect x="271.4" y="423.7" width="2.5" height="7.8" rx="1.2" fill="#161616" transform="rotate(3 272.7 427.6)"/>
<rect x="271.1" y="434.1" width="2.5" height="7.8" rx="1.2" fill="#161616" transform="rotate(3 272.4 437.9)"/>
<rect x="270.9" y="444.4" width="2.5" height="7.8" rx="1.2" fill="#161616" transform="rotate(3 272.2 448.3)"/>
<rect x="270.8" y="454.8" width="2.5" height="7.8" rx="1.2" fill="#161616" transform="rotate(3 272.0 458.6)"/>
<rect x="270.6" y="465.1" width="2.5" height="7.8" rx="1.2" fill="#161616" transform="rotate(3 271.9 469.0)"/>
<rect x="270.6" y="475.5" width="2.5" height="7.8" rx="1.2" fill="#161616" transform="rotate(3 271.9 479.4)"/>
<rect x="270.8" y="485.8" width="2.5" height="7.8" rx="1.2" fill="#161616" transform="rotate(3 272.0 489.7)"/>
<rect x="294.1" y="196.2" width="2.3" height="7.4" rx="1.1" fill="#141414" transform="rotate(3 295.2 199.9)"/>
<rect x="293.8" y="206.6" width="2.3" height="7.4" rx="1.1" fill="#141414" transform="rotate(3 294.9 210.2)"/>
<rect x="293.2" y="216.9" width="2.3" height="7.4" rx="1.1" fill="#141414" transform="rotate(3 294.3 220.6)"/>
<rect x="292.8" y="227.2" width="2.3" height="7.4" rx="1.1" fill="#141414" transform="rotate(3 293.9 230.9)"/>
<rect x="292.9" y="237.6" width="2.3" height="7.4" rx="1.1" fill="#141414" transform="rotate(3 294.0 241.3)"/>
<rect x="293.0" y="248.0" width="2.3" height="7.4" rx="1.1" fill="#141414" transform="rotate(3 294.1 251.7)"/>
<rect x="293.2" y="258.3" width="2.3" height="7.4" rx="1.1" fill="#141414" transform="rotate(3 294.3 262.0)"/>
<rect x="293.4" y="268.7" width="2.3" height="7.4" rx="1.1" fill="#141414" transform="rotate(3 294.5 272.4)"/>
<rect x="293.5" y="279.0" width="2.3" height="7.4" rx="1.1" fill="#141414" transform="rotate(3 294.6 282.7)"/>
<rect x="293.6" y="289.4" width="2.3" height="7.4" rx="1.1" fill="#141414" transform="rotate(3 294.7 293.1)"/>
<rect x="293.7" y="299.7" width="2.3" height="7.4" rx="1.1" fill="#141414" transform="rotate(3 294.8 303.4)"/>
<rect x="293.7" y="310.1" width="2.3" height="7.4" rx="1.1" fill="#141414" transform="rotate(3 294.8 313.8)"/>
<rect x="293.4" y="320.4" width="2.3" height="7.4" rx="1.1" fill="#141414" transform="rotate(3 294.5 324.1)"/>
<rect x="293.1" y="330.8" width="2.3" height="7.4" rx="1.1" fill="#141414" transform="rotate(3 294.2 334.4)"/>
<rect x="292.9" y="341.1" width="2.3" height="7.4" rx="1.1" fill="#141414" transform="rotate(3 294.0 344.8)"/>
<rect x="293.0" y="351.4" width="2.3" height="7.4" rx="1.1" fill="#141414" transform="rotate(3 294.1 355.1)"/>
<rect x="293.2" y="361.8" width="2.3" height="7.4" rx="1.1" fill="#141414" transform="rotate(3 294.3 365.5)"/>
<rect x="293.5" y="372.2" width="2.3" height="7.4" rx="1.1" fill="#141414" transform="rotate(3 294.6 375.9)"/>
<rect x="293.7" y="382.5" width="2.3" height="7.4" rx="1.1" fill="#141414" transform="rotate(3 294.8 386.2)"/>
<rect x="293.8" y="392.9" width="2.3" height="7.4" rx="1.1" fill="#141414" transform="rotate(3 294.9 396.6)"/>
<rect x="293.5" y="403.2" width="2.3" height="7.4" rx="1.1" fill="#141414" transform="rotate(3 294.6 406.9)"/>
<rect x="293.2" y="413.6" width="2.3" height="7.4" rx="1.1" fill="#141414" transform="rotate(3 294.3 417.2)"/>
<rect x="292.9" y="423.9" width="2.3" height="7.4" rx="1.1" fill="#141414" transform="rotate(3 294.0 427.6)"/>
<rect x="292.7" y="434.2" width="2.3" height="7.4" rx="1.1" fill="#141414" transform="rotate(3 293.8 437.9)"/>
<rect x="292.6" y="444.6" width="2.3" height="7.4" rx="1.1" fill="#141414" transform="rotate(3 293.7 448.3)"/>
<rect x="292.6" y="454.9" width="2.3" height="7.4" rx="1.1" fill="#141414" transform="rotate(3 293.7 458.6)"/>
<rect x="292.7" y="465.3" width="2.3" height="7.4" rx="1.1" fill="#141414" transform="rotate(3 293.8 469.0)"/>
<rect x="292.8" y="475.7" width="2.3" height="7.4" rx="1.1" fill="#141414" transform="rotate(3 293.9 479.4)"/>
<rect x="292.9" y="486.0" width="2.3" height="7.4" rx="1.1" fill="#141414" transform="rotate(3 294.0 489.7)"/>
<rect x="293.2" y="496.3" width="2.3" height="7.4" rx="1.1" fill="#2e2e2e" transform="rotate(3 294.3 500.0)"/>
<rect x="293.2" y="506.7" width="2.3" height="7.4" rx="1.1" fill="#2e2e2e" transform="rotate(3 294.3 510.4)"/>
<rect x="293.2" y="517.0" width="2.3" height="7.4" rx="1.1" fill="#2e2e2e" transform="rotate(3 294.3 520.8)"/>
<rect x="293.2" y="527.4" width="2.3" height="7.4" rx="1.1" fill="#2e2e2e" transform="rotate(3 294.3 531.1)"/>
<rect x="293.2" y="537.8" width="2.3" height="7.4" rx="1.1" fill="#2e2e2e" transform="rotate(3 294.3 541.5)"/>
<rect x="293.2" y="548.1" width="2.3" height="7.4" rx="1.1" fill="#2e2e2e" transform="rotate(3 294.3 551.8)"/>
<rect x="293.2" y="558.4" width="2.3" height="7.4" rx="1.1" fill="#2e2e2e" transform="rotate(3 294.3 562.1)"/>
<rect x="293.2" y="568.8" width="2.3" height="7.4" rx="1.1" fill="#2e2e2e" transform="rotate(3 294.3 572.5)"/>
<rect x="293.2" y="579.1" width="2.3" height="7.4" rx="1.1" fill="#2e2e2e" transform="rotate(3 294.3 582.9)"/>
</g>
<g filter="url(#blur06)">
<rect x="271.3" y="496.1" width="2.5" height="7.6" rx="1.2" fill="#444444"/>
<rect x="271.3" y="506.5" width="2.5" height="7.6" rx="1.2" fill="#444444"/>
<rect x="271.3" y="516.9" width="2.5" height="7.6" rx="1.2" fill="#444444"/>
<rect x="271.3" y="527.2" width="2.5" height="7.6" rx="1.2" fill="#444444"/>
<rect x="271.3" y="537.6" width="2.5" height="7.6" rx="1.2" fill="#444444"/>
<rect x="271.3" y="547.9" width="2.5" height="7.6" rx="1.2" fill="#444444"/>
<rect x="271.3" y="558.2" width="2.5" height="7.6" rx="1.2" fill="#444444"/>
<rect x="271.3" y="568.6" width="2.5" height="7.6" rx="1.2" fill="#444444"/>
<rect x="271.3" y="579.0" width="2.5" height="7.6" rx="1.2" fill="#444444"/>
<rect x="271.3" y="589.3" width="2.5" height="7.6" rx="1.2" fill="#444444"/>
</g>
<rect x="266.40" y="194.30" width="15.80" height="404.60" fill="none" stroke="#3a3a3a" stroke-width="1.0"/>
<rect x="287.50" y="194.30" width="15.90" height="404.60" fill="none" stroke="#3a3a3a" stroke-width="1.0"/>
<line x1="266.40" y1="308.60" x2="282.20" y2="308.60" stroke="#4a4a4a" stroke-width="1.3"/>
<line x1="287.50" y1="308.60" x2="303.40" y2="308.60" stroke="#4a4a4a" stroke-width="1.3"/>
<line x1="266.40" y1="402.60" x2="282.20" y2="402.60" stroke="#4a4a4a" stroke-width="1.3"/>
<line x1="287.50" y1="402.60" x2="303.40" y2="402.60" stroke="#4a4a4a" stroke-width="1.3"/>
<line x1="266.40" y1="495.20" x2="282.20" y2="495.20" stroke="#4a4a4a" stroke-width="1.3"/>
<line x1="287.50" y1="495.20" x2="303.40" y2="495.20" stroke="#4a4a4a" stroke-width="1.3"/>
<text transform="translate(270.20,600.80) rotate(90)" font-size="10.7" fill="#000">&#945;Actin</text>
<text transform="translate(290.50,600.80) rotate(90)" font-size="10.7" fill="#000">&#945;STAT2</text>
<text x="313.40" y="172.60" font-size="18.5" text-anchor="start" fill="#000">f</text>
<rect x="323.40" y="170.30" width="9.20" height="9.30" fill="#dcdcdc" stroke="#333" stroke-width="0.9"/>
<rect x="323.40" y="182.60" width="9.20" height="9.30" fill="#ff9b9b" stroke="#333" stroke-width="0.9"/>
<text x="337.80" y="179.30" font-size="10.4" text-anchor="start" fill="#000">No Antagonist</text>
<text x="337.80" y="191.00" font-size="10.4" text-anchor="start" fill="#000">ZIKV NS5</text>
<rect x="313.70" y="195.50" width="101.30" height="3.90" fill="#d6d6d6" stroke="#222" stroke-width="0.85"/>
<rect x="313.70" y="199.40" width="40.80" height="3.90" fill="#ff9b9b" stroke="#222" stroke-width="0.85"/>
<ellipse cx="415.1" cy="197.4" rx="1.3" ry="1.6" fill="#000"/>
<line x1="413.20" y1="196.15" x2="413.20" y2="198.75" stroke="#000" stroke-width="0.6"/>
<ellipse cx="354.6" cy="201.3" rx="1.3" ry="1.6" fill="#000"/>
<line x1="352.70" y1="200.05" x2="352.70" y2="202.65" stroke="#000" stroke-width="0.6"/>
<rect x="313.70" y="205.89" width="102.30" height="3.90" fill="#d6d6d6" stroke="#222" stroke-width="0.85"/>
<rect x="313.70" y="209.79" width="39.30" height="3.90" fill="#ff9b9b" stroke="#222" stroke-width="0.85"/>
<ellipse cx="416.1" cy="207.8" rx="1.3" ry="1.6" fill="#000"/>
<line x1="414.20" y1="206.54" x2="414.20" y2="209.14" stroke="#000" stroke-width="0.6"/>
<ellipse cx="353.1" cy="211.7" rx="1.3" ry="1.6" fill="#000"/>
<line x1="351.20" y1="210.44" x2="351.20" y2="213.04" stroke="#000" stroke-width="0.6"/>
<rect x="313.70" y="216.28" width="99.80" height="3.90" fill="#d6d6d6" stroke="#222" stroke-width="0.85"/>
<rect x="313.70" y="220.18" width="36.30" height="3.90" fill="#ff9b9b" stroke="#222" stroke-width="0.85"/>
<ellipse cx="413.6" cy="218.2" rx="1.3" ry="1.6" fill="#000"/>
<line x1="411.70" y1="216.93" x2="411.70" y2="219.53" stroke="#000" stroke-width="0.6"/>
<ellipse cx="350.1" cy="222.1" rx="1.3" ry="1.6" fill="#000"/>
<line x1="348.20" y1="220.83" x2="348.20" y2="223.43" stroke="#000" stroke-width="0.6"/>
<rect x="313.70" y="226.67" width="99.80" height="3.90" fill="#d6d6d6" stroke="#222" stroke-width="0.85"/>
<rect x="313.70" y="230.57" width="36.30" height="3.90" fill="#ff9b9b" stroke="#222" stroke-width="0.85"/>
<ellipse cx="413.6" cy="228.6" rx="1.3" ry="1.6" fill="#000"/>
<line x1="411.70" y1="227.32" x2="411.70" y2="229.92" stroke="#000" stroke-width="0.6"/>
<ellipse cx="350.1" cy="232.5" rx="1.3" ry="1.6" fill="#000"/>
<line x1="348.20" y1="231.22" x2="348.20" y2="233.82" stroke="#000" stroke-width="0.6"/>
<rect x="313.70" y="237.06" width="99.80" height="3.90" fill="#d6d6d6" stroke="#222" stroke-width="0.85"/>
<rect x="313.70" y="240.96" width="42.30" height="3.90" fill="#ff9b9b" stroke="#222" stroke-width="0.85"/>
<ellipse cx="413.6" cy="239.0" rx="1.3" ry="1.6" fill="#000"/>
<line x1="411.70" y1="237.71" x2="411.70" y2="240.31" stroke="#000" stroke-width="0.6"/>
<ellipse cx="356.1" cy="242.9" rx="1.3" ry="1.6" fill="#000"/>
<line x1="354.20" y1="241.61" x2="354.20" y2="244.21" stroke="#000" stroke-width="0.6"/>
<rect x="313.70" y="247.45" width="87.30" height="3.90" fill="#d6d6d6" stroke="#222" stroke-width="0.85"/>
<rect x="313.70" y="251.35" width="33.30" height="3.90" fill="#ff9b9b" stroke="#222" stroke-width="0.85"/>
<ellipse cx="401.1" cy="249.4" rx="1.3" ry="1.6" fill="#000"/>
<line x1="399.20" y1="248.10" x2="399.20" y2="250.70" stroke="#000" stroke-width="0.6"/>
<ellipse cx="347.1" cy="253.3" rx="1.3" ry="1.6" fill="#000"/>
<line x1="345.20" y1="252.00" x2="345.20" y2="254.60" stroke="#000" stroke-width="0.6"/>
<rect x="313.70" y="257.84" width="99.80" height="3.90" fill="#d6d6d6" stroke="#222" stroke-width="0.85"/>
<rect x="313.70" y="261.74" width="38.80" height="3.90" fill="#ff9b9b" stroke="#222" stroke-width="0.85"/>
<ellipse cx="413.6" cy="259.8" rx="1.3" ry="1.6" fill="#000"/>
<line x1="411.70" y1="258.49" x2="411.70" y2="261.09" stroke="#000" stroke-width="0.6"/>
<ellipse cx="352.6" cy="263.7" rx="1.3" ry="1.6" fill="#000"/>
<line x1="350.70" y1="262.39" x2="350.70" y2="264.99" stroke="#000" stroke-width="0.6"/>
<rect x="313.70" y="268.23" width="100.30" height="3.90" fill="#d6d6d6" stroke="#222" stroke-width="0.85"/>
<rect x="313.70" y="272.13" width="44.30" height="3.90" fill="#ff9b9b" stroke="#222" stroke-width="0.85"/>
<ellipse cx="414.1" cy="270.2" rx="1.3" ry="1.6" fill="#000"/>
<line x1="412.20" y1="268.88" x2="412.20" y2="271.48" stroke="#000" stroke-width="0.6"/>
<ellipse cx="358.1" cy="274.1" rx="1.3" ry="1.6" fill="#000"/>
<line x1="356.20" y1="272.78" x2="356.20" y2="275.38" stroke="#000" stroke-width="0.6"/>
<rect x="313.70" y="278.62" width="100.80" height="3.90" fill="#d6d6d6" stroke="#222" stroke-width="0.85"/>
<rect x="313.70" y="282.52" width="41.30" height="3.90" fill="#ff9b9b" stroke="#222" stroke-width="0.85"/>
<ellipse cx="414.6" cy="280.6" rx="1.3" ry="1.6" fill="#000"/>
<line x1="412.70" y1="279.27" x2="412.70" y2="281.87" stroke="#000" stroke-width="0.6"/>
<ellipse cx="355.1" cy="284.5" rx="1.3" ry="1.6" fill="#000"/>
<line x1="353.20" y1="283.17" x2="353.20" y2="285.77" stroke="#000" stroke-width="0.6"/>
<rect x="313.70" y="289.01" width="101.30" height="3.90" fill="#d6d6d6" stroke="#222" stroke-width="0.85"/>
<rect x="313.70" y="292.91" width="43.30" height="3.90" fill="#ff9b9b" stroke="#222" stroke-width="0.85"/>
<ellipse cx="415.1" cy="291.0" rx="1.3" ry="1.6" fill="#000"/>
<line x1="413.20" y1="289.66" x2="413.20" y2="292.26" stroke="#000" stroke-width="0.6"/>
<ellipse cx="357.1" cy="294.9" rx="1.3" ry="1.6" fill="#000"/>
<line x1="355.20" y1="293.56" x2="355.20" y2="296.16" stroke="#000" stroke-width="0.6"/>
<rect x="313.70" y="299.40" width="94.10" height="3.90" fill="#d6d6d6" stroke="#222" stroke-width="0.85"/>
<rect x="313.70" y="303.30" width="35.70" height="3.90" fill="#ff9b9b" stroke="#222" stroke-width="0.85"/>
<ellipse cx="407.9" cy="301.3" rx="1.3" ry="1.6" fill="#000"/>
<line x1="406.00" y1="300.05" x2="406.00" y2="302.65" stroke="#000" stroke-width="0.6"/>
<ellipse cx="349.5" cy="305.2" rx="1.3" ry="1.6" fill="#000"/>
<line x1="347.60" y1="303.95" x2="347.60" y2="306.55" stroke="#000" stroke-width="0.6"/>
<rect x="313.70" y="309.79" width="97.90" height="3.90" fill="#d6d6d6" stroke="#222" stroke-width="0.85"/>
<rect x="313.70" y="313.69" width="46.20" height="3.90" fill="#ff9b9b" stroke="#222" stroke-width="0.85"/>
<ellipse cx="411.7" cy="311.7" rx="1.3" ry="1.6" fill="#000"/>
<line x1="409.80" y1="310.44" x2="409.80" y2="313.04" stroke="#000" stroke-width="0.6"/>
<ellipse cx="360.0" cy="315.6" rx="1.3" ry="1.6" fill="#000"/>
<line x1="358.10" y1="314.34" x2="358.10" y2="316.94" stroke="#000" stroke-width="0.6"/>
<rect x="313.70" y="320.18" width="97.60" height="3.90" fill="#d6d6d6" stroke="#222" stroke-width="0.85"/>
<rect x="313.70" y="324.08" width="48.50" height="3.90" fill="#ff9b9b" stroke="#222" stroke-width="0.85"/>
<ellipse cx="411.4" cy="322.1" rx="1.3" ry="1.6" fill="#000"/>
<line x1="409.50" y1="320.83" x2="409.50" y2="323.43" stroke="#000" stroke-width="0.6"/>
<ellipse cx="362.3" cy="326.0" rx="1.3" ry="1.6" fill="#000"/>
<line x1="360.40" y1="324.73" x2="360.40" y2="327.33" stroke="#000" stroke-width="0.6"/>
<rect x="313.70" y="330.57" width="96.50" height="3.90" fill="#d6d6d6" stroke="#222" stroke-width="0.85"/>
<rect x="313.70" y="334.47" width="47.80" height="3.90" fill="#ff9b9b" stroke="#222" stroke-width="0.85"/>
<ellipse cx="410.3" cy="332.5" rx="1.3" ry="1.6" fill="#000"/>
<line x1="408.40" y1="331.22" x2="408.40" y2="333.82" stroke="#000" stroke-width="0.6"/>
<ellipse cx="361.6" cy="336.4" rx="1.3" ry="1.6" fill="#000"/>
<line x1="359.70" y1="335.12" x2="359.70" y2="337.72" stroke="#000" stroke-width="0.6"/>
<rect x="313.70" y="340.96" width="94.40" height="3.90" fill="#d6d6d6" stroke="#222" stroke-width="0.85"/>
<rect x="313.70" y="344.86" width="44.50" height="3.90" fill="#ff9b9b" stroke="#222" stroke-width="0.85"/>
<ellipse cx="408.2" cy="342.9" rx="1.3" ry="1.6" fill="#000"/>
<line x1="406.30" y1="341.61" x2="406.30" y2="344.21" stroke="#000" stroke-width="0.6"/>
<ellipse cx="358.3" cy="346.8" rx="1.3" ry="1.6" fill="#000"/>
<line x1="356.40" y1="345.51" x2="356.40" y2="348.11" stroke="#000" stroke-width="0.6"/>
<rect x="313.70" y="351.35" width="101.40" height="3.90" fill="#d6d6d6" stroke="#222" stroke-width="0.85"/>
<rect x="313.70" y="355.25" width="45.30" height="3.90" fill="#ff9b9b" stroke="#222" stroke-width="0.85"/>
<ellipse cx="415.2" cy="353.3" rx="1.3" ry="1.6" fill="#000"/>
<line x1="413.30" y1="352.00" x2="413.30" y2="354.60" stroke="#000" stroke-width="0.6"/>
<ellipse cx="359.1" cy="357.2" rx="1.3" ry="1.6" fill="#000"/>
<line x1="357.20" y1="355.90" x2="357.20" y2="358.50" stroke="#000" stroke-width="0.6"/>
<rect x="313.70" y="361.74" width="101.40" height="3.90" fill="#d6d6d6" stroke="#222" stroke-width="0.85"/>
<rect x="313.70" y="365.64" width="47.10" height="3.90" fill="#ff9b9b" stroke="#222" stroke-width="0.85"/>
<ellipse cx="415.2" cy="363.7" rx="1.3" ry="1.6" fill="#000"/>
<line x1="413.30" y1="362.39" x2="413.30" y2="364.99" stroke="#000" stroke-width="0.6"/>
<ellipse cx="360.9" cy="367.6" rx="1.3" ry="1.6" fill="#000"/>
<line x1="359.00" y1="366.29" x2="359.00" y2="368.89" stroke="#000" stroke-width="0.6"/>
<rect x="313.70" y="372.13" width="90.90" height="3.90" fill="#d6d6d6" stroke="#222" stroke-width="0.85"/>
<rect x="313.70" y="376.03" width="34.80" height="3.90" fill="#ff9b9b" stroke="#222" stroke-width="0.85"/>
<ellipse cx="404.7" cy="374.1" rx="1.3" ry="1.6" fill="#000"/>
<line x1="402.80" y1="372.78" x2="402.80" y2="375.38" stroke="#000" stroke-width="0.6"/>
<ellipse cx="348.6" cy="378.0" rx="1.3" ry="1.6" fill="#000"/>
<line x1="346.70" y1="376.68" x2="346.70" y2="379.28" stroke="#000" stroke-width="0.6"/>
<rect x="313.70" y="382.52" width="82.10" height="3.90" fill="#d6d6d6" stroke="#222" stroke-width="0.85"/>
<rect x="313.70" y="386.42" width="52.80" height="3.90" fill="#ff9b9b" stroke="#222" stroke-width="0.85"/>
<ellipse cx="395.9" cy="384.5" rx="1.3" ry="1.6" fill="#000"/>
<line x1="394.00" y1="383.17" x2="394.00" y2="385.77" stroke="#000" stroke-width="0.6"/>
<ellipse cx="366.6" cy="388.4" rx="1.3" ry="1.6" fill="#000"/>
<line x1="364.70" y1="387.07" x2="364.70" y2="389.67" stroke="#000" stroke-width="0.6"/>
<rect x="313.70" y="392.91" width="85.60" height="3.90" fill="#d6d6d6" stroke="#222" stroke-width="0.85"/>
<rect x="313.70" y="396.81" width="74.30" height="3.90" fill="#ff9b9b" stroke="#222" stroke-width="0.85"/>
<ellipse cx="399.4" cy="394.9" rx="1.3" ry="1.6" fill="#000"/>
<line x1="397.50" y1="393.56" x2="397.50" y2="396.16" stroke="#000" stroke-width="0.6"/>
<ellipse cx="388.1" cy="398.8" rx="1.3" ry="1.6" fill="#000"/>
<line x1="386.20" y1="397.46" x2="386.20" y2="400.06" stroke="#000" stroke-width="0.6"/>
<rect x="313.70" y="403.30" width="104.00" height="3.90" fill="#d6d6d6" stroke="#222" stroke-width="0.85"/>
<rect x="313.70" y="407.20" width="103.20" height="3.90" fill="#ff9b9b" stroke="#222" stroke-width="0.85"/>
<ellipse cx="417.8" cy="405.2" rx="1.3" ry="1.6" fill="#000"/>
<line x1="415.90" y1="403.95" x2="415.90" y2="406.55" stroke="#000" stroke-width="0.6"/>
<ellipse cx="417.0" cy="409.2" rx="1.3" ry="1.6" fill="#000"/>
<line x1="415.10" y1="407.85" x2="415.10" y2="410.45" stroke="#000" stroke-width="0.6"/>
<rect x="313.70" y="413.69" width="100.00" height="3.90" fill="#d6d6d6" stroke="#222" stroke-width="0.85"/>
<rect x="313.70" y="417.59" width="90.00" height="3.90" fill="#ff9b9b" stroke="#222" stroke-width="0.85"/>
<ellipse cx="413.8" cy="415.6" rx="1.3" ry="1.6" fill="#000"/>
<line x1="411.90" y1="414.34" x2="411.90" y2="416.94" stroke="#000" stroke-width="0.6"/>
<ellipse cx="403.8" cy="419.5" rx="1.3" ry="1.6" fill="#000"/>
<line x1="401.90" y1="418.24" x2="401.90" y2="420.84" stroke="#000" stroke-width="0.6"/>
<rect x="313.70" y="424.08" width="83.90" height="3.90" fill="#d6d6d6" stroke="#222" stroke-width="0.85"/>
<rect x="313.70" y="427.98" width="83.90" height="3.90" fill="#ff9b9b" stroke="#222" stroke-width="0.85"/>
<ellipse cx="397.7" cy="426.0" rx="1.3" ry="1.6" fill="#000"/>
<line x1="395.80" y1="424.73" x2="395.80" y2="427.33" stroke="#000" stroke-width="0.6"/>
<ellipse cx="397.7" cy="429.9" rx="1.3" ry="1.6" fill="#000"/>
<line x1="395.80" y1="428.63" x2="395.80" y2="431.23" stroke="#000" stroke-width="0.6"/>
<rect x="313.70" y="434.47" width="90.90" height="3.90" fill="#d6d6d6" stroke="#222" stroke-width="0.85"/>
<rect x="313.70" y="438.37" width="80.40" height="3.90" fill="#ff9b9b" stroke="#222" stroke-width="0.85"/>
<ellipse cx="404.7" cy="436.4" rx="1.3" ry="1.6" fill="#000"/>
<line x1="402.80" y1="435.12" x2="402.80" y2="437.72" stroke="#000" stroke-width="0.6"/>
<ellipse cx="394.2" cy="440.3" rx="1.3" ry="1.6" fill="#000"/>
<line x1="392.30" y1="439.02" x2="392.30" y2="441.62" stroke="#000" stroke-width="0.6"/>
<rect x="313.70" y="444.86" width="103.20" height="3.90" fill="#d6d6d6" stroke="#222" stroke-width="0.85"/>
<rect x="313.70" y="448.76" width="98.80" height="3.90" fill="#ff9b9b" stroke="#222" stroke-width="0.85"/>
<ellipse cx="417.0" cy="446.8" rx="1.3" ry="1.6" fill="#000"/>
<line x1="415.10" y1="445.51" x2="415.10" y2="448.11" stroke="#000" stroke-width="0.6"/>
<ellipse cx="412.6" cy="450.7" rx="1.3" ry="1.6" fill="#000"/>
<line x1="410.70" y1="449.41" x2="410.70" y2="452.01" stroke="#000" stroke-width="0.6"/>
<rect x="313.70" y="455.25" width="101.40" height="3.90" fill="#d6d6d6" stroke="#222" stroke-width="0.85"/>
<rect x="313.70" y="459.15" width="83.90" height="3.90" fill="#ff9b9b" stroke="#222" stroke-width="0.85"/>
<ellipse cx="415.2" cy="457.2" rx="1.3" ry="1.6" fill="#000"/>
<line x1="413.30" y1="455.90" x2="413.30" y2="458.50" stroke="#000" stroke-width="0.6"/>
<ellipse cx="397.7" cy="461.1" rx="1.3" ry="1.6" fill="#000"/>
<line x1="395.80" y1="459.80" x2="395.80" y2="462.40" stroke="#000" stroke-width="0.6"/>
<rect x="313.70" y="465.64" width="86.50" height="3.90" fill="#d6d6d6" stroke="#222" stroke-width="0.85"/>
<rect x="313.70" y="469.54" width="35.70" height="3.90" fill="#ff9b9b" stroke="#222" stroke-width="0.85"/>
<ellipse cx="400.3" cy="467.6" rx="1.3" ry="1.6" fill="#000"/>
<line x1="398.40" y1="466.29" x2="398.40" y2="468.89" stroke="#000" stroke-width="0.6"/>
<ellipse cx="349.5" cy="471.5" rx="1.3" ry="1.6" fill="#000"/>
<line x1="347.60" y1="470.19" x2="347.60" y2="472.79" stroke="#000" stroke-width="0.6"/>
<rect x="313.70" y="476.03" width="81.30" height="3.90" fill="#d6d6d6" stroke="#222" stroke-width="0.85"/>
<rect x="313.70" y="479.93" width="36.60" height="3.90" fill="#ff9b9b" stroke="#222" stroke-width="0.85"/>
<ellipse cx="395.1" cy="478.0" rx="1.3" ry="1.6" fill="#000"/>
<line x1="393.20" y1="476.68" x2="393.20" y2="479.28" stroke="#000" stroke-width="0.6"/>
<ellipse cx="350.4" cy="481.9" rx="1.3" ry="1.6" fill="#000"/>
<line x1="348.50" y1="480.58" x2="348.50" y2="483.18" stroke="#000" stroke-width="0.6"/>
<rect x="313.70" y="486.42" width="102.30" height="3.90" fill="#d6d6d6" stroke="#222" stroke-width="0.85"/>
<rect x="313.70" y="490.32" width="36.90" height="3.90" fill="#ff9b9b" stroke="#222" stroke-width="0.85"/>
<ellipse cx="416.1" cy="488.4" rx="1.3" ry="1.6" fill="#000"/>
<line x1="414.20" y1="487.07" x2="414.20" y2="489.67" stroke="#000" stroke-width="0.6"/>
<ellipse cx="350.7" cy="492.3" rx="1.3" ry="1.6" fill="#000"/>
<line x1="348.80" y1="490.97" x2="348.80" y2="493.57" stroke="#000" stroke-width="0.6"/>
<rect x="313.70" y="496.81" width="95.80" height="3.90" fill="#d6d6d6" stroke="#222" stroke-width="0.85"/>
<rect x="313.70" y="500.71" width="37.50" height="3.90" fill="#ff9b9b" stroke="#222" stroke-width="0.85"/>
<ellipse cx="409.6" cy="498.8" rx="1.3" ry="1.6" fill="#000"/>
<line x1="407.70" y1="497.46" x2="407.70" y2="500.06" stroke="#000" stroke-width="0.6"/>
<ellipse cx="351.3" cy="502.7" rx="1.3" ry="1.6" fill="#000"/>
<line x1="349.40" y1="501.36" x2="349.40" y2="503.96" stroke="#000" stroke-width="0.6"/>
<rect x="313.70" y="507.20" width="96.20" height="3.90" fill="#d6d6d6" stroke="#222" stroke-width="0.85"/>
<rect x="313.70" y="511.10" width="55.90" height="3.90" fill="#ff9b9b" stroke="#222" stroke-width="0.85"/>
<ellipse cx="410.0" cy="509.2" rx="1.3" ry="1.6" fill="#000"/>
<line x1="408.10" y1="507.85" x2="408.10" y2="510.45" stroke="#000" stroke-width="0.6"/>
<ellipse cx="369.7" cy="513.1" rx="1.3" ry="1.6" fill="#000"/>
<line x1="367.80" y1="511.75" x2="367.80" y2="514.35" stroke="#000" stroke-width="0.6"/>
<rect x="313.70" y="517.59" width="83.90" height="3.90" fill="#d6d6d6" stroke="#222" stroke-width="0.85"/>
<rect x="313.70" y="521.49" width="43.60" height="3.90" fill="#ff9b9b" stroke="#222" stroke-width="0.85"/>
<ellipse cx="397.7" cy="519.5" rx="1.3" ry="1.6" fill="#000"/>
<line x1="395.80" y1="518.24" x2="395.80" y2="520.84" stroke="#000" stroke-width="0.6"/>
<ellipse cx="357.4" cy="523.4" rx="1.3" ry="1.6" fill="#000"/>
<line x1="355.50" y1="522.14" x2="355.50" y2="524.74" stroke="#000" stroke-width="0.6"/>
<rect x="313.70" y="527.98" width="88.30" height="3.90" fill="#d6d6d6" stroke="#222" stroke-width="0.85"/>
<rect x="313.70" y="531.88" width="35.20" height="3.90" fill="#ff9b9b" stroke="#222" stroke-width="0.85"/>
<ellipse cx="402.1" cy="529.9" rx="1.3" ry="1.6" fill="#000"/>
<line x1="400.20" y1="528.63" x2="400.20" y2="531.23" stroke="#000" stroke-width="0.6"/>
<ellipse cx="349.0" cy="533.8" rx="1.3" ry="1.6" fill="#000"/>
<line x1="347.10" y1="532.53" x2="347.10" y2="535.13" stroke="#000" stroke-width="0.6"/>
<rect x="313.70" y="538.37" width="95.30" height="3.90" fill="#d6d6d6" stroke="#222" stroke-width="0.85"/>
<rect x="313.70" y="542.27" width="41.50" height="3.90" fill="#ff9b9b" stroke="#222" stroke-width="0.85"/>
<ellipse cx="409.1" cy="540.3" rx="1.3" ry="1.6" fill="#000"/>
<line x1="407.20" y1="539.02" x2="407.20" y2="541.62" stroke="#000" stroke-width="0.6"/>
<ellipse cx="355.3" cy="544.2" rx="1.3" ry="1.6" fill="#000"/>
<line x1="353.40" y1="542.92" x2="353.40" y2="545.52" stroke="#000" stroke-width="0.6"/>
<rect x="313.70" y="548.76" width="79.50" height="3.90" fill="#d6d6d6" stroke="#222" stroke-width="0.85"/>
<rect x="313.70" y="552.66" width="34.00" height="3.90" fill="#ff9b9b" stroke="#222" stroke-width="0.85"/>
<ellipse cx="393.3" cy="550.7" rx="1.3" ry="1.6" fill="#000"/>
<line x1="391.40" y1="549.41" x2="391.40" y2="552.01" stroke="#000" stroke-width="0.6"/>
<ellipse cx="347.8" cy="554.6" rx="1.3" ry="1.6" fill="#000"/>
<line x1="345.90" y1="553.31" x2="345.90" y2="555.91" stroke="#000" stroke-width="0.6"/>
<rect x="313.70" y="559.15" width="101.10" height="3.90" fill="#d6d6d6" stroke="#222" stroke-width="0.85"/>
<rect x="313.70" y="563.05" width="40.10" height="3.90" fill="#ff9b9b" stroke="#222" stroke-width="0.85"/>
<ellipse cx="414.9" cy="561.1" rx="1.3" ry="1.6" fill="#000"/>
<line x1="413.00" y1="559.80" x2="413.00" y2="562.40" stroke="#000" stroke-width="0.6"/>
<ellipse cx="353.9" cy="565.0" rx="1.3" ry="1.6" fill="#000"/>
<line x1="352.00" y1="563.70" x2="352.00" y2="566.30" stroke="#000" stroke-width="0.6"/>
<rect x="313.70" y="569.54" width="90.00" height="3.90" fill="#d6d6d6" stroke="#222" stroke-width="0.85"/>
<rect x="313.70" y="573.44" width="38.30" height="3.90" fill="#ff9b9b" stroke="#222" stroke-width="0.85"/>
<ellipse cx="403.8" cy="571.5" rx="1.3" ry="1.6" fill="#000"/>
<line x1="401.90" y1="570.19" x2="401.90" y2="572.79" stroke="#000" stroke-width="0.6"/>
<ellipse cx="352.1" cy="575.4" rx="1.3" ry="1.6" fill="#000"/>
<line x1="350.20" y1="574.09" x2="350.20" y2="576.69" stroke="#000" stroke-width="0.6"/>
<rect x="313.70" y="579.93" width="108.40" height="3.90" fill="#d6d6d6" stroke="#222" stroke-width="0.85"/>
<rect x="313.70" y="583.83" width="80.40" height="3.90" fill="#ff9b9b" stroke="#222" stroke-width="0.85"/>
<ellipse cx="422.2" cy="581.9" rx="1.3" ry="1.6" fill="#000"/>
<line x1="420.30" y1="580.58" x2="420.30" y2="583.18" stroke="#000" stroke-width="0.6"/>
<ellipse cx="394.2" cy="585.8" rx="1.3" ry="1.6" fill="#000"/>
<line x1="392.30" y1="584.48" x2="392.30" y2="587.08" stroke="#000" stroke-width="0.6"/>
<rect x="313.70" y="590.32" width="43.60" height="3.90" fill="#d6d6d6" stroke="#222" stroke-width="0.85"/>
<rect x="313.70" y="594.22" width="38.30" height="3.90" fill="#ff9b9b" stroke="#222" stroke-width="0.85"/>
<ellipse cx="357.4" cy="592.3" rx="1.3" ry="1.6" fill="#000"/>
<line x1="355.50" y1="590.97" x2="355.50" y2="593.57" stroke="#000" stroke-width="0.6"/>
<ellipse cx="352.1" cy="596.2" rx="1.3" ry="1.6" fill="#000"/>
<line x1="350.20" y1="594.87" x2="350.20" y2="597.47" stroke="#000" stroke-width="0.6"/>
<line x1="415.0" y1="197.4" x2="418.6" y2="197.4" stroke="#222" stroke-width="0.6" stroke-dasharray="1,0.8"/>
<line x1="418.60" y1="196.15" x2="418.60" y2="198.75" stroke="#222" stroke-width="0.6"/>
<rect x="401.0" y="331.1" width="9.2" height="2.9" fill="#000" opacity="0.22"/>
<line x1="401.00" y1="332.52" x2="410.20" y2="332.52" stroke="#222" stroke-width="0.5"/>
<line x1="410.2" y1="332.5" x2="416.0" y2="332.5" stroke="#222" stroke-width="0.6" stroke-dasharray="1,0.8"/>
<line x1="416.00" y1="331.22" x2="416.00" y2="333.82" stroke="#222" stroke-width="0.6"/>
<rect x="349.4" y="335.0" width="12.1" height="2.9" fill="#000" opacity="0.22"/>
<line x1="349.40" y1="336.42" x2="361.50" y2="336.42" stroke="#222" stroke-width="0.5"/>
<line x1="361.5" y1="336.4" x2="368.0" y2="336.4" stroke="#222" stroke-width="0.6" stroke-dasharray="1,0.8"/>
<line x1="368.00" y1="335.12" x2="368.00" y2="337.72" stroke="#222" stroke-width="0.6"/>
<rect x="349.0" y="345.4" width="9.2" height="2.9" fill="#000" opacity="0.22"/>
<line x1="349.00" y1="346.81" x2="358.20" y2="346.81" stroke="#222" stroke-width="0.5"/>
<line x1="358.2" y1="346.8" x2="364.0" y2="346.8" stroke="#222" stroke-width="0.6" stroke-dasharray="1,0.8"/>
<line x1="364.00" y1="345.51" x2="364.00" y2="348.11" stroke="#222" stroke-width="0.6"/>
<rect x="410.7" y="445.4" width="6.2" height="2.9" fill="#000" opacity="0.22"/>
<line x1="410.70" y1="446.81" x2="416.90" y2="446.81" stroke="#222" stroke-width="0.5"/>
<line x1="416.9" y1="446.8" x2="426.5" y2="446.8" stroke="#222" stroke-width="0.6" stroke-dasharray="1,0.8"/>
<line x1="426.50" y1="445.51" x2="426.50" y2="448.11" stroke="#222" stroke-width="0.6"/>
<rect x="399.3" y="449.3" width="13.2" height="2.9" fill="#000" opacity="0.22"/>
<line x1="399.30" y1="450.71" x2="412.50" y2="450.71" stroke="#222" stroke-width="0.5"/>
<line x1="412.5" y1="450.7" x2="422.0" y2="450.7" stroke="#222" stroke-width="0.6" stroke-dasharray="1,0.8"/>
<line x1="422.00" y1="449.41" x2="422.00" y2="452.01" stroke="#222" stroke-width="0.6"/>
<rect x="365.0" y="511.6" width="4.6" height="2.9" fill="#000" opacity="0.22"/>
<line x1="365.00" y1="513.05" x2="369.60" y2="513.05" stroke="#222" stroke-width="0.5"/>
<line x1="369.6" y1="513.1" x2="378.0" y2="513.1" stroke="#222" stroke-width="0.6" stroke-dasharray="1,0.8"/>
<line x1="378.00" y1="511.75" x2="378.00" y2="514.35" stroke="#222" stroke-width="0.6"/>
<rect x="388.0" y="584.3" width="6.1" height="2.9" fill="#000" opacity="0.22"/>
<line x1="388.00" y1="585.78" x2="394.10" y2="585.78" stroke="#222" stroke-width="0.5"/>
<line x1="394.1" y1="585.8" x2="398.0" y2="585.8" stroke="#222" stroke-width="0.6" stroke-dasharray="1,0.8"/>
<line x1="398.00" y1="584.48" x2="398.00" y2="587.08" stroke="#222" stroke-width="0.6"/>
<rect x="346.0" y="590.8" width="11.3" height="2.9" fill="#000" opacity="0.22"/>
<line x1="346.00" y1="592.27" x2="357.30" y2="592.27" stroke="#222" stroke-width="0.5"/>
<line x1="357.3" y1="592.3" x2="369.5" y2="592.3" stroke="#222" stroke-width="0.6" stroke-dasharray="1,0.8"/>
<line x1="369.50" y1="590.97" x2="369.50" y2="593.57" stroke="#222" stroke-width="0.6"/>
<rect x="346.0" y="594.7" width="6.0" height="2.9" fill="#000" opacity="0.22"/>
<line x1="346.00" y1="596.17" x2="352.00" y2="596.17" stroke="#222" stroke-width="0.5"/>
<line x1="352.0" y1="596.2" x2="356.6" y2="596.2" stroke="#222" stroke-width="0.6" stroke-dasharray="1,0.8"/>
<line x1="356.60" y1="594.87" x2="356.60" y2="597.47" stroke="#222" stroke-width="0.6"/>
<line x1="313.70" y1="191.10" x2="313.70" y2="602.80" stroke="#333" stroke-width="1.0"/>
<line x1="313.20" y1="602.50" x2="424.70" y2="602.50" stroke="#333" stroke-width="1.0"/>
<line x1="313.70" y1="602.50" x2="313.70" y2="606.40" stroke="#333" stroke-width="0.9"/>
<text x="314.70" y="616.80" font-size="10.4" text-anchor="middle" fill="#000">0.1</text>
<line x1="347.75" y1="602.50" x2="347.75" y2="606.40" stroke="#333" stroke-width="0.9"/>
<text x="347.75" y="616.80" font-size="10.4" text-anchor="middle" fill="#000">1</text>
<line x1="381.80" y1="602.50" x2="381.80" y2="606.40" stroke="#333" stroke-width="0.9"/>
<text x="381.80" y="616.80" font-size="10.4" text-anchor="middle" fill="#000">10</text>
<line x1="415.85" y1="602.50" x2="415.85" y2="606.40" stroke="#333" stroke-width="0.9"/>
<text x="415.85" y="616.80" font-size="10.4" text-anchor="middle" fill="#000">100</text>
<text x="366.70" y="627.60" font-size="10.7" text-anchor="middle" fill="#000">Relative IFN Signaling</text>
<text x="436.60" y="172.60" font-size="18.5" text-anchor="start" fill="#000">g</text>
<rect x="451.70" y="170.30" width="9.20" height="9.30" fill="#dcdcdc" stroke="#333" stroke-width="0.9"/>
<rect x="451.70" y="182.60" width="9.20" height="9.30" fill="#fcbd27" stroke="#333" stroke-width="0.9"/>
<text x="466.10" y="179.30" font-size="10.4" text-anchor="start" fill="#000">No Antagonist</text>
<text x="466.10" y="191.00" font-size="10.4" text-anchor="start" fill="#000">SPOV NS5</text>
<rect x="442.70" y="195.50" width="102.10" height="3.90" fill="#d6d6d6" stroke="#222" stroke-width="0.85"/>
<rect x="442.70" y="199.40" width="58.60" height="3.90" fill="#fcbd27" stroke="#222" stroke-width="0.85"/>
<ellipse cx="544.9" cy="197.4" rx="1.3" ry="1.6" fill="#000"/>
<line x1="543.00" y1="196.15" x2="543.00" y2="198.75" stroke="#000" stroke-width="0.6"/>
<ellipse cx="501.4" cy="201.3" rx="1.3" ry="1.6" fill="#000"/>
<line x1="499.50" y1="200.05" x2="499.50" y2="202.65" stroke="#000" stroke-width="0.6"/>
<rect x="442.70" y="205.89" width="95.40" height="3.90" fill="#d6d6d6" stroke="#222" stroke-width="0.85"/>
<rect x="442.70" y="209.79" width="49.50" height="3.90" fill="#fcbd27" stroke="#222" stroke-width="0.85"/>
<ellipse cx="538.2" cy="207.8" rx="1.3" ry="1.6" fill="#000"/>
<line x1="536.30" y1="206.54" x2="536.30" y2="209.14" stroke="#000" stroke-width="0.6"/>
<ellipse cx="492.3" cy="211.7" rx="1.3" ry="1.6" fill="#000"/>
<line x1="490.40" y1="210.44" x2="490.40" y2="213.04" stroke="#000" stroke-width="0.6"/>
<rect x="442.70" y="216.28" width="87.50" height="3.90" fill="#d6d6d6" stroke="#222" stroke-width="0.85"/>
<rect x="442.70" y="220.18" width="45.50" height="3.90" fill="#fcbd27" stroke="#222" stroke-width="0.85"/>
<ellipse cx="530.3" cy="218.2" rx="1.3" ry="1.6" fill="#000"/>
<line x1="528.40" y1="216.93" x2="528.40" y2="219.53" stroke="#000" stroke-width="0.6"/>
<ellipse cx="488.3" cy="222.1" rx="1.3" ry="1.6" fill="#000"/>
<line x1="486.40" y1="220.83" x2="486.40" y2="223.43" stroke="#000" stroke-width="0.6"/>
<rect x="442.70" y="226.67" width="97.20" height="3.90" fill="#d6d6d6" stroke="#222" stroke-width="0.85"/>
<rect x="442.70" y="230.57" width="52.50" height="3.90" fill="#fcbd27" stroke="#222" stroke-width="0.85"/>
<ellipse cx="540.0" cy="228.6" rx="1.3" ry="1.6" fill="#000"/>
<line x1="538.10" y1="227.32" x2="538.10" y2="229.92" stroke="#000" stroke-width="0.6"/>
<ellipse cx="495.3" cy="232.5" rx="1.3" ry="1.6" fill="#000"/>
<line x1="493.40" y1="231.22" x2="493.40" y2="233.82" stroke="#000" stroke-width="0.6"/>
<rect x="442.70" y="237.06" width="95.40" height="3.90" fill="#d6d6d6" stroke="#222" stroke-width="0.85"/>
<rect x="442.70" y="240.96" width="44.30" height="3.90" fill="#fcbd27" stroke="#222" stroke-width="0.85"/>
<ellipse cx="538.2" cy="239.0" rx="1.3" ry="1.6" fill="#000"/>
<line x1="536.30" y1="237.71" x2="536.30" y2="240.31" stroke="#000" stroke-width="0.6"/>
<ellipse cx="487.1" cy="242.9" rx="1.3" ry="1.6" fill="#000"/>
<line x1="485.20" y1="241.61" x2="485.20" y2="244.21" stroke="#000" stroke-width="0.6"/>
<rect x="442.70" y="247.45" width="70.90" height="3.90" fill="#d6d6d6" stroke="#222" stroke-width="0.85"/>
<rect x="442.70" y="251.35" width="37.30" height="3.90" fill="#fcbd27" stroke="#222" stroke-width="0.85"/>
<ellipse cx="513.7" cy="249.4" rx="1.3" ry="1.6" fill="#000"/>
<line x1="511.80" y1="248.10" x2="511.80" y2="250.70" stroke="#000" stroke-width="0.6"/>
<ellipse cx="480.1" cy="253.3" rx="1.3" ry="1.6" fill="#000"/>
<line x1="478.20" y1="252.00" x2="478.20" y2="254.60" stroke="#000" stroke-width="0.6"/>
<rect x="442.70" y="257.84" width="99.30" height="3.90" fill="#d6d6d6" stroke="#222" stroke-width="0.85"/>
<rect x="442.70" y="261.74" width="49.50" height="3.90" fill="#fcbd27" stroke="#222" stroke-width="0.85"/>
<ellipse cx="542.1" cy="259.8" rx="1.3" ry="1.6" fill="#000"/>
<line x1="540.20" y1="258.49" x2="540.20" y2="261.09" stroke="#000" stroke-width="0.6"/>
<ellipse cx="492.3" cy="263.7" rx="1.3" ry="1.6" fill="#000"/>
<line x1="490.40" y1="262.39" x2="490.40" y2="264.99" stroke="#000" stroke-width="0.6"/>
<rect x="442.70" y="268.23" width="93.70" height="3.90" fill="#d6d6d6" stroke="#222" stroke-width="0.85"/>
<rect x="442.70" y="272.13" width="53.40" height="3.90" fill="#fcbd27" stroke="#222" stroke-width="0.85"/>
<ellipse cx="536.5" cy="270.2" rx="1.3" ry="1.6" fill="#000"/>
<line x1="534.60" y1="268.88" x2="534.60" y2="271.48" stroke="#000" stroke-width="0.6"/>
<ellipse cx="496.2" cy="274.1" rx="1.3" ry="1.6" fill="#000"/>
<line x1="494.30" y1="272.78" x2="494.30" y2="275.38" stroke="#000" stroke-width="0.6"/>
<rect x="442.70" y="278.62" width="98.90" height="3.90" fill="#d6d6d6" stroke="#222" stroke-width="0.85"/>
<rect x="442.70" y="282.52" width="53.40" height="3.90" fill="#fcbd27" stroke="#222" stroke-width="0.85"/>
<ellipse cx="541.7" cy="280.6" rx="1.3" ry="1.6" fill="#000"/>
<line x1="539.80" y1="279.27" x2="539.80" y2="281.87" stroke="#000" stroke-width="0.6"/>
<ellipse cx="496.2" cy="284.5" rx="1.3" ry="1.6" fill="#000"/>
<line x1="494.30" y1="283.17" x2="494.30" y2="285.77" stroke="#000" stroke-width="0.6"/>
<rect x="442.70" y="289.01" width="95.90" height="3.90" fill="#d6d6d6" stroke="#222" stroke-width="0.85"/>
<rect x="442.70" y="292.91" width="51.60" height="3.90" fill="#fcbd27" stroke="#222" stroke-width="0.85"/>
<ellipse cx="538.7" cy="291.0" rx="1.3" ry="1.6" fill="#000"/>
<line x1="536.80" y1="289.66" x2="536.80" y2="292.26" stroke="#000" stroke-width="0.6"/>
<ellipse cx="494.4" cy="294.9" rx="1.3" ry="1.6" fill="#000"/>
<line x1="492.50" y1="293.56" x2="492.50" y2="296.16" stroke="#000" stroke-width="0.6"/>
<rect x="442.70" y="299.40" width="83.10" height="3.90" fill="#d6d6d6" stroke="#222" stroke-width="0.85"/>
<rect x="442.70" y="303.30" width="41.10" height="3.90" fill="#fcbd27" stroke="#222" stroke-width="0.85"/>
<ellipse cx="525.9" cy="301.3" rx="1.3" ry="1.6" fill="#000"/>
<line x1="524.00" y1="300.05" x2="524.00" y2="302.65" stroke="#000" stroke-width="0.6"/>
<ellipse cx="483.9" cy="305.2" rx="1.3" ry="1.6" fill="#000"/>
<line x1="482.00" y1="303.95" x2="482.00" y2="306.55" stroke="#000" stroke-width="0.6"/>
<rect x="442.70" y="309.79" width="93.30" height="3.90" fill="#d6d6d6" stroke="#222" stroke-width="0.85"/>
<rect x="442.70" y="313.69" width="53.70" height="3.90" fill="#fcbd27" stroke="#222" stroke-width="0.85"/>
<ellipse cx="536.1" cy="311.7" rx="1.3" ry="1.6" fill="#000"/>
<line x1="534.20" y1="310.44" x2="534.20" y2="313.04" stroke="#000" stroke-width="0.6"/>
<ellipse cx="496.5" cy="315.6" rx="1.3" ry="1.6" fill="#000"/>
<line x1="494.60" y1="314.34" x2="494.60" y2="316.94" stroke="#000" stroke-width="0.6"/>
<rect x="442.70" y="320.18" width="77.90" height="3.90" fill="#d6d6d6" stroke="#222" stroke-width="0.85"/>
<rect x="442.70" y="324.08" width="49.90" height="3.90" fill="#fcbd27" stroke="#222" stroke-width="0.85"/>
<ellipse cx="520.7" cy="322.1" rx="1.3" ry="1.6" fill="#000"/>
<line x1="518.80" y1="320.83" x2="518.80" y2="323.43" stroke="#000" stroke-width="0.6"/>
<ellipse cx="492.7" cy="326.0" rx="1.3" ry="1.6" fill="#000"/>
<line x1="490.80" y1="324.73" x2="490.80" y2="327.33" stroke="#000" stroke-width="0.6"/>
<rect x="442.70" y="330.57" width="94.50" height="3.90" fill="#d6d6d6" stroke="#222" stroke-width="0.85"/>
<rect x="442.70" y="334.47" width="56.00" height="3.90" fill="#fcbd27" stroke="#222" stroke-width="0.85"/>
<ellipse cx="537.3" cy="332.5" rx="1.3" ry="1.6" fill="#000"/>
<line x1="535.40" y1="331.22" x2="535.40" y2="333.82" stroke="#000" stroke-width="0.6"/>
<ellipse cx="498.8" cy="336.4" rx="1.3" ry="1.6" fill="#000"/>
<line x1="496.90" y1="335.12" x2="496.90" y2="337.72" stroke="#000" stroke-width="0.6"/>
<rect x="442.70" y="340.96" width="90.20" height="3.90" fill="#d6d6d6" stroke="#222" stroke-width="0.85"/>
<rect x="442.70" y="344.86" width="46.40" height="3.90" fill="#fcbd27" stroke="#222" stroke-width="0.85"/>
<ellipse cx="533.0" cy="342.9" rx="1.3" ry="1.6" fill="#000"/>
<line x1="531.10" y1="341.61" x2="531.10" y2="344.21" stroke="#000" stroke-width="0.6"/>
<ellipse cx="489.2" cy="346.8" rx="1.3" ry="1.6" fill="#000"/>
<line x1="487.30" y1="345.51" x2="487.30" y2="348.11" stroke="#000" stroke-width="0.6"/>
<rect x="442.70" y="351.35" width="100.70" height="3.90" fill="#d6d6d6" stroke="#222" stroke-width="0.85"/>
<rect x="442.70" y="355.25" width="42.80" height="3.90" fill="#fcbd27" stroke="#222" stroke-width="0.85"/>
<ellipse cx="543.5" cy="353.3" rx="1.3" ry="1.6" fill="#000"/>
<line x1="541.60" y1="352.00" x2="541.60" y2="354.60" stroke="#000" stroke-width="0.6"/>
<ellipse cx="485.6" cy="357.2" rx="1.3" ry="1.6" fill="#000"/>
<line x1="483.70" y1="355.90" x2="483.70" y2="358.50" stroke="#000" stroke-width="0.6"/>
<rect x="442.70" y="361.74" width="101.50" height="3.90" fill="#d6d6d6" stroke="#222" stroke-width="0.85"/>
<rect x="442.70" y="365.64" width="38.50" height="3.90" fill="#fcbd27" stroke="#222" stroke-width="0.85"/>
<ellipse cx="544.3" cy="363.7" rx="1.3" ry="1.6" fill="#000"/>
<line x1="542.40" y1="362.39" x2="542.40" y2="364.99" stroke="#000" stroke-width="0.6"/>
<ellipse cx="481.3" cy="367.6" rx="1.3" ry="1.6" fill="#000"/>
<line x1="479.40" y1="366.29" x2="479.40" y2="368.89" stroke="#000" stroke-width="0.6"/>
<rect x="442.70" y="372.13" width="85.80" height="3.90" fill="#d6d6d6" stroke="#222" stroke-width="0.85"/>
<rect x="442.70" y="376.03" width="35.80" height="3.90" fill="#fcbd27" stroke="#222" stroke-width="0.85"/>
<ellipse cx="528.6" cy="374.1" rx="1.3" ry="1.6" fill="#000"/>
<line x1="526.70" y1="372.78" x2="526.70" y2="375.38" stroke="#000" stroke-width="0.6"/>
<ellipse cx="478.6" cy="378.0" rx="1.3" ry="1.6" fill="#000"/>
<line x1="476.70" y1="376.68" x2="476.70" y2="379.28" stroke="#000" stroke-width="0.6"/>
<rect x="442.70" y="382.52" width="74.40" height="3.90" fill="#d6d6d6" stroke="#222" stroke-width="0.85"/>
<rect x="442.70" y="386.42" width="38.50" height="3.90" fill="#fcbd27" stroke="#222" stroke-width="0.85"/>
<ellipse cx="517.2" cy="384.5" rx="1.3" ry="1.6" fill="#000"/>
<line x1="515.30" y1="383.17" x2="515.30" y2="385.77" stroke="#000" stroke-width="0.6"/>
<ellipse cx="481.3" cy="388.4" rx="1.3" ry="1.6" fill="#000"/>
<line x1="479.40" y1="387.07" x2="479.40" y2="389.67" stroke="#000" stroke-width="0.6"/>
<rect x="442.70" y="392.91" width="89.30" height="3.90" fill="#d6d6d6" stroke="#222" stroke-width="0.85"/>
<rect x="442.70" y="396.81" width="70.50" height="3.90" fill="#fcbd27" stroke="#222" stroke-width="0.85"/>
<ellipse cx="532.1" cy="394.9" rx="1.3" ry="1.6" fill="#000"/>
<line x1="530.20" y1="393.56" x2="530.20" y2="396.16" stroke="#000" stroke-width="0.6"/>
<ellipse cx="513.3" cy="398.8" rx="1.3" ry="1.6" fill="#000"/>
<line x1="511.40" y1="397.46" x2="511.40" y2="400.06" stroke="#000" stroke-width="0.6"/>
<rect x="442.70" y="403.30" width="108.50" height="3.90" fill="#d6d6d6" stroke="#222" stroke-width="0.85"/>
<rect x="442.70" y="407.20" width="93.30" height="3.90" fill="#fcbd27" stroke="#222" stroke-width="0.85"/>
<ellipse cx="551.3" cy="405.2" rx="1.3" ry="1.6" fill="#000"/>
<line x1="549.40" y1="403.95" x2="549.40" y2="406.55" stroke="#000" stroke-width="0.6"/>
<ellipse cx="536.1" cy="409.2" rx="1.3" ry="1.6" fill="#000"/>
<line x1="534.20" y1="407.85" x2="534.20" y2="410.45" stroke="#000" stroke-width="0.6"/>
<rect x="442.70" y="413.69" width="99.30" height="3.90" fill="#d6d6d6" stroke="#222" stroke-width="0.85"/>
<rect x="442.70" y="417.59" width="78.80" height="3.90" fill="#fcbd27" stroke="#222" stroke-width="0.85"/>
<ellipse cx="542.1" cy="415.6" rx="1.3" ry="1.6" fill="#000"/>
<line x1="540.20" y1="414.34" x2="540.20" y2="416.94" stroke="#000" stroke-width="0.6"/>
<ellipse cx="521.6" cy="419.5" rx="1.3" ry="1.6" fill="#000"/>
<line x1="519.70" y1="418.24" x2="519.70" y2="420.84" stroke="#000" stroke-width="0.6"/>
<rect x="442.70" y="424.08" width="67.40" height="3.90" fill="#d6d6d6" stroke="#222" stroke-width="0.85"/>
<rect x="442.70" y="427.98" width="60.70" height="3.90" fill="#fcbd27" stroke="#222" stroke-width="0.85"/>
<ellipse cx="510.2" cy="426.0" rx="1.3" ry="1.6" fill="#000"/>
<line x1="508.30" y1="424.73" x2="508.30" y2="427.33" stroke="#000" stroke-width="0.6"/>
<ellipse cx="503.5" cy="429.9" rx="1.3" ry="1.6" fill="#000"/>
<line x1="501.60" y1="428.63" x2="501.60" y2="431.23" stroke="#000" stroke-width="0.6"/>
<rect x="442.70" y="434.47" width="93.30" height="3.90" fill="#d6d6d6" stroke="#222" stroke-width="0.85"/>
<rect x="442.70" y="438.37" width="70.90" height="3.90" fill="#fcbd27" stroke="#222" stroke-width="0.85"/>
<ellipse cx="536.1" cy="436.4" rx="1.3" ry="1.6" fill="#000"/>
<line x1="534.20" y1="435.12" x2="534.20" y2="437.72" stroke="#000" stroke-width="0.6"/>
<ellipse cx="513.7" cy="440.3" rx="1.3" ry="1.6" fill="#000"/>
<line x1="511.80" y1="439.02" x2="511.80" y2="441.62" stroke="#000" stroke-width="0.6"/>
<rect x="442.70" y="444.86" width="97.20" height="3.90" fill="#d6d6d6" stroke="#222" stroke-width="0.85"/>
<rect x="442.70" y="448.76" width="89.30" height="3.90" fill="#fcbd27" stroke="#222" stroke-width="0.85"/>
<ellipse cx="540.0" cy="446.8" rx="1.3" ry="1.6" fill="#000"/>
<line x1="538.10" y1="445.51" x2="538.10" y2="448.11" stroke="#000" stroke-width="0.6"/>
<ellipse cx="532.1" cy="450.7" rx="1.3" ry="1.6" fill="#000"/>
<line x1="530.20" y1="449.41" x2="530.20" y2="452.01" stroke="#000" stroke-width="0.6"/>
<rect x="442.70" y="455.25" width="100.70" height="3.90" fill="#d6d6d6" stroke="#222" stroke-width="0.85"/>
<rect x="442.70" y="459.15" width="51.60" height="3.90" fill="#fcbd27" stroke="#222" stroke-width="0.85"/>
<ellipse cx="543.5" cy="457.2" rx="1.3" ry="1.6" fill="#000"/>
<line x1="541.60" y1="455.90" x2="541.60" y2="458.50" stroke="#000" stroke-width="0.6"/>
<ellipse cx="494.4" cy="461.1" rx="1.3" ry="1.6" fill="#000"/>
<line x1="492.50" y1="459.80" x2="492.50" y2="462.40" stroke="#000" stroke-width="0.6"/>
<rect x="442.70" y="465.64" width="83.10" height="3.90" fill="#d6d6d6" stroke="#222" stroke-width="0.85"/>
<rect x="442.70" y="469.54" width="39.00" height="3.90" fill="#fcbd27" stroke="#222" stroke-width="0.85"/>
<ellipse cx="525.9" cy="467.6" rx="1.3" ry="1.6" fill="#000"/>
<line x1="524.00" y1="466.29" x2="524.00" y2="468.89" stroke="#000" stroke-width="0.6"/>
<ellipse cx="481.8" cy="471.5" rx="1.3" ry="1.6" fill="#000"/>
<line x1="479.90" y1="470.19" x2="479.90" y2="472.79" stroke="#000" stroke-width="0.6"/>
<rect x="442.70" y="476.03" width="77.30" height="3.90" fill="#d6d6d6" stroke="#222" stroke-width="0.85"/>
<rect x="442.70" y="479.93" width="41.60" height="3.90" fill="#fcbd27" stroke="#222" stroke-width="0.85"/>
<ellipse cx="520.1" cy="478.0" rx="1.3" ry="1.6" fill="#000"/>
<line x1="518.20" y1="476.68" x2="518.20" y2="479.28" stroke="#000" stroke-width="0.6"/>
<ellipse cx="484.4" cy="481.9" rx="1.3" ry="1.6" fill="#000"/>
<line x1="482.50" y1="480.58" x2="482.50" y2="483.18" stroke="#000" stroke-width="0.6"/>
<rect x="442.70" y="486.42" width="98.00" height="3.90" fill="#d6d6d6" stroke="#222" stroke-width="0.85"/>
<rect x="442.70" y="490.32" width="33.20" height="3.90" fill="#fcbd27" stroke="#222" stroke-width="0.85"/>
<ellipse cx="540.8" cy="488.4" rx="1.3" ry="1.6" fill="#000"/>
<line x1="538.90" y1="487.07" x2="538.90" y2="489.67" stroke="#000" stroke-width="0.6"/>
<ellipse cx="476.0" cy="492.3" rx="1.3" ry="1.6" fill="#000"/>
<line x1="474.10" y1="490.97" x2="474.10" y2="493.57" stroke="#000" stroke-width="0.6"/>
<rect x="442.70" y="496.81" width="89.30" height="3.90" fill="#d6d6d6" stroke="#222" stroke-width="0.85"/>
<rect x="442.70" y="500.71" width="36.20" height="3.90" fill="#fcbd27" stroke="#222" stroke-width="0.85"/>
<ellipse cx="532.1" cy="498.8" rx="1.3" ry="1.6" fill="#000"/>
<line x1="530.20" y1="497.46" x2="530.20" y2="500.06" stroke="#000" stroke-width="0.6"/>
<ellipse cx="479.0" cy="502.7" rx="1.3" ry="1.6" fill="#000"/>
<line x1="477.10" y1="501.36" x2="477.10" y2="503.96" stroke="#000" stroke-width="0.6"/>
<rect x="442.70" y="507.20" width="93.30" height="3.90" fill="#d6d6d6" stroke="#222" stroke-width="0.85"/>
<rect x="442.70" y="511.10" width="44.60" height="3.90" fill="#fcbd27" stroke="#222" stroke-width="0.85"/>
<ellipse cx="536.1" cy="509.2" rx="1.3" ry="1.6" fill="#000"/>
<line x1="534.20" y1="507.85" x2="534.20" y2="510.45" stroke="#000" stroke-width="0.6"/>
<ellipse cx="487.4" cy="513.1" rx="1.3" ry="1.6" fill="#000"/>
<line x1="485.50" y1="511.75" x2="485.50" y2="514.35" stroke="#000" stroke-width="0.6"/>
<rect x="442.70" y="517.59" width="77.50" height="3.90" fill="#d6d6d6" stroke="#222" stroke-width="0.85"/>
<rect x="442.70" y="521.49" width="43.20" height="3.90" fill="#fcbd27" stroke="#222" stroke-width="0.85"/>
<ellipse cx="520.3" cy="519.5" rx="1.3" ry="1.6" fill="#000"/>
<line x1="518.40" y1="518.24" x2="518.40" y2="520.84" stroke="#000" stroke-width="0.6"/>
<ellipse cx="486.0" cy="523.4" rx="1.3" ry="1.6" fill="#000"/>
<line x1="484.10" y1="522.14" x2="484.10" y2="524.74" stroke="#000" stroke-width="0.6"/>
<rect x="442.70" y="527.98" width="70.00" height="3.90" fill="#d6d6d6" stroke="#222" stroke-width="0.85"/>
<rect x="442.70" y="531.88" width="34.40" height="3.90" fill="#fcbd27" stroke="#222" stroke-width="0.85"/>
<ellipse cx="512.8" cy="529.9" rx="1.3" ry="1.6" fill="#000"/>
<line x1="510.90" y1="528.63" x2="510.90" y2="531.23" stroke="#000" stroke-width="0.6"/>
<ellipse cx="477.2" cy="533.8" rx="1.3" ry="1.6" fill="#000"/>
<line x1="475.30" y1="532.53" x2="475.30" y2="535.13" stroke="#000" stroke-width="0.6"/>
<rect x="442.70" y="538.37" width="91.00" height="3.90" fill="#d6d6d6" stroke="#222" stroke-width="0.85"/>
<rect x="442.70" y="542.27" width="39.00" height="3.90" fill="#fcbd27" stroke="#222" stroke-width="0.85"/>
<ellipse cx="533.8" cy="540.3" rx="1.3" ry="1.6" fill="#000"/>
<line x1="531.90" y1="539.02" x2="531.90" y2="541.62" stroke="#000" stroke-width="0.6"/>
<ellipse cx="481.8" cy="544.2" rx="1.3" ry="1.6" fill="#000"/>
<line x1="479.90" y1="542.92" x2="479.90" y2="545.52" stroke="#000" stroke-width="0.6"/>
<rect x="442.70" y="548.76" width="69.10" height="3.90" fill="#d6d6d6" stroke="#222" stroke-width="0.85"/>
<rect x="442.70" y="552.66" width="32.00" height="3.90" fill="#fcbd27" stroke="#222" stroke-width="0.85"/>
<ellipse cx="511.9" cy="550.7" rx="1.3" ry="1.6" fill="#000"/>
<line x1="510.00" y1="549.41" x2="510.00" y2="552.01" stroke="#000" stroke-width="0.6"/>
<ellipse cx="474.8" cy="554.6" rx="1.3" ry="1.6" fill="#000"/>
<line x1="472.90" y1="553.31" x2="472.90" y2="555.91" stroke="#000" stroke-width="0.6"/>
<rect x="442.70" y="559.15" width="89.30" height="3.90" fill="#d6d6d6" stroke="#222" stroke-width="0.85"/>
<rect x="442.70" y="563.05" width="34.40" height="3.90" fill="#fcbd27" stroke="#222" stroke-width="0.85"/>
<ellipse cx="532.1" cy="561.1" rx="1.3" ry="1.6" fill="#000"/>
<line x1="530.20" y1="559.80" x2="530.20" y2="562.40" stroke="#000" stroke-width="0.6"/>
<ellipse cx="477.2" cy="565.0" rx="1.3" ry="1.6" fill="#000"/>
<line x1="475.30" y1="563.70" x2="475.30" y2="566.30" stroke="#000" stroke-width="0.6"/>
<rect x="442.70" y="569.54" width="86.60" height="3.90" fill="#d6d6d6" stroke="#222" stroke-width="0.85"/>
<rect x="442.70" y="573.44" width="33.50" height="3.90" fill="#fcbd27" stroke="#222" stroke-width="0.85"/>
<ellipse cx="529.4" cy="571.5" rx="1.3" ry="1.6" fill="#000"/>
<line x1="527.50" y1="570.19" x2="527.50" y2="572.79" stroke="#000" stroke-width="0.6"/>
<ellipse cx="476.3" cy="575.4" rx="1.3" ry="1.6" fill="#000"/>
<line x1="474.40" y1="574.09" x2="474.40" y2="576.69" stroke="#000" stroke-width="0.6"/>
<rect x="442.70" y="579.93" width="104.50" height="3.90" fill="#d6d6d6" stroke="#222" stroke-width="0.85"/>
<rect x="442.70" y="583.83" width="99.80" height="3.90" fill="#fcbd27" stroke="#222" stroke-width="0.85"/>
<ellipse cx="547.3" cy="581.9" rx="1.3" ry="1.6" fill="#000"/>
<line x1="545.40" y1="580.58" x2="545.40" y2="583.18" stroke="#000" stroke-width="0.6"/>
<ellipse cx="542.6" cy="585.8" rx="1.3" ry="1.6" fill="#000"/>
<line x1="540.70" y1="584.48" x2="540.70" y2="587.08" stroke="#000" stroke-width="0.6"/>
<rect x="442.70" y="590.32" width="42.50" height="3.90" fill="#d6d6d6" stroke="#222" stroke-width="0.85"/>
<rect x="442.70" y="594.22" width="33.70" height="3.90" fill="#fcbd27" stroke="#222" stroke-width="0.85"/>
<ellipse cx="485.3" cy="592.3" rx="1.3" ry="1.6" fill="#000"/>
<line x1="483.40" y1="590.97" x2="483.40" y2="593.57" stroke="#000" stroke-width="0.6"/>
<ellipse cx="476.5" cy="596.2" rx="1.3" ry="1.6" fill="#000"/>
<line x1="474.60" y1="594.87" x2="474.60" y2="597.47" stroke="#000" stroke-width="0.6"/>
<line x1="513.6" y1="249.4" x2="516.5" y2="249.4" stroke="#222" stroke-width="0.6" stroke-dasharray="1,0.8"/>
<line x1="516.50" y1="248.10" x2="516.50" y2="250.70" stroke="#222" stroke-width="0.6"/>
<line x1="485.2" y1="592.3" x2="488.0" y2="592.3" stroke="#222" stroke-width="0.6" stroke-dasharray="1,0.8"/>
<line x1="488.00" y1="590.97" x2="488.00" y2="593.57" stroke="#222" stroke-width="0.6"/>
<line x1="442.70" y1="191.10" x2="442.70" y2="602.80" stroke="#333" stroke-width="1.0"/>
<line x1="442.20" y1="602.50" x2="554.00" y2="602.50" stroke="#333" stroke-width="1.0"/>
<line x1="442.70" y1="602.50" x2="442.70" y2="606.40" stroke="#333" stroke-width="0.9"/>
<text x="443.70" y="616.80" font-size="10.4" text-anchor="middle" fill="#000">0.1</text>
<line x1="476.90" y1="602.50" x2="476.90" y2="606.40" stroke="#333" stroke-width="0.9"/>
<text x="476.90" y="616.80" font-size="10.4" text-anchor="middle" fill="#000">1</text>
<line x1="511.10" y1="602.50" x2="511.10" y2="606.40" stroke="#333" stroke-width="0.9"/>
<text x="511.10" y="616.80" font-size="10.4" text-anchor="middle" fill="#000">10</text>
<line x1="545.30" y1="602.50" x2="545.30" y2="606.40" stroke="#333" stroke-width="0.9"/>
<text x="545.30" y="616.80" font-size="10.4" text-anchor="middle" fill="#000">100</text>
<text x="495.00" y="627.60" font-size="10.7" text-anchor="middle" fill="#000">Relative IFN Signaling</text>
<text x="565.60" y="172.60" font-size="18.5" text-anchor="start" fill="#000">h</text>
<rect x="581.40" y="170.30" width="9.20" height="9.30" fill="#dcdcdc" stroke="#333" stroke-width="0.9"/>
<rect x="581.40" y="182.60" width="9.20" height="9.30" fill="#5890d2" stroke="#333" stroke-width="0.9"/>
<text x="595.80" y="179.30" font-size="10.4" text-anchor="start" fill="#000">No Antagonist</text>
<text x="595.80" y="191.00" font-size="10.4" text-anchor="start" fill="#000">DENV2 NS5</text>
<rect x="571.50" y="195.50" width="96.40" height="3.90" fill="#d6d6d6" stroke="#222" stroke-width="0.85"/>
<rect x="571.50" y="199.40" width="51.20" height="3.90" fill="#5890d2" stroke="#222" stroke-width="0.85"/>
<ellipse cx="668.0" cy="197.4" rx="1.3" ry="1.6" fill="#000"/>
<line x1="666.10" y1="196.15" x2="666.10" y2="198.75" stroke="#000" stroke-width="0.6"/>
<ellipse cx="622.8" cy="201.3" rx="1.3" ry="1.6" fill="#000"/>
<line x1="620.90" y1="200.05" x2="620.90" y2="202.65" stroke="#000" stroke-width="0.6"/>
<rect x="571.50" y="205.89" width="95.60" height="3.90" fill="#d6d6d6" stroke="#222" stroke-width="0.85"/>
<rect x="571.50" y="209.79" width="56.30" height="3.90" fill="#5890d2" stroke="#222" stroke-width="0.85"/>
<ellipse cx="667.2" cy="207.8" rx="1.3" ry="1.6" fill="#000"/>
<line x1="665.30" y1="206.54" x2="665.30" y2="209.14" stroke="#000" stroke-width="0.6"/>
<ellipse cx="627.9" cy="211.7" rx="1.3" ry="1.6" fill="#000"/>
<line x1="626.00" y1="210.44" x2="626.00" y2="213.04" stroke="#000" stroke-width="0.6"/>
<rect x="571.50" y="216.28" width="90.10" height="3.90" fill="#d6d6d6" stroke="#222" stroke-width="0.85"/>
<rect x="571.50" y="220.18" width="38.30" height="3.90" fill="#5890d2" stroke="#222" stroke-width="0.85"/>
<ellipse cx="661.7" cy="218.2" rx="1.3" ry="1.6" fill="#000"/>
<line x1="659.80" y1="216.93" x2="659.80" y2="219.53" stroke="#000" stroke-width="0.6"/>
<ellipse cx="609.9" cy="222.1" rx="1.3" ry="1.6" fill="#000"/>
<line x1="608.00" y1="220.83" x2="608.00" y2="223.43" stroke="#000" stroke-width="0.6"/>
<rect x="571.50" y="226.67" width="93.90" height="3.90" fill="#d6d6d6" stroke="#222" stroke-width="0.85"/>
<rect x="571.50" y="230.57" width="42.60" height="3.90" fill="#5890d2" stroke="#222" stroke-width="0.85"/>
<ellipse cx="665.5" cy="228.6" rx="1.3" ry="1.6" fill="#000"/>
<line x1="663.60" y1="227.32" x2="663.60" y2="229.92" stroke="#000" stroke-width="0.6"/>
<ellipse cx="614.2" cy="232.5" rx="1.3" ry="1.6" fill="#000"/>
<line x1="612.30" y1="231.22" x2="612.30" y2="233.82" stroke="#000" stroke-width="0.6"/>
<rect x="571.50" y="237.06" width="98.10" height="3.90" fill="#d6d6d6" stroke="#222" stroke-width="0.85"/>
<rect x="571.50" y="240.96" width="40.10" height="3.90" fill="#5890d2" stroke="#222" stroke-width="0.85"/>
<ellipse cx="669.7" cy="239.0" rx="1.3" ry="1.6" fill="#000"/>
<line x1="667.80" y1="237.71" x2="667.80" y2="240.31" stroke="#000" stroke-width="0.6"/>
<ellipse cx="611.7" cy="242.9" rx="1.3" ry="1.6" fill="#000"/>
<line x1="609.80" y1="241.61" x2="609.80" y2="244.21" stroke="#000" stroke-width="0.6"/>
<rect x="571.50" y="247.45" width="98.10" height="3.90" fill="#d6d6d6" stroke="#222" stroke-width="0.85"/>
<rect x="571.50" y="251.35" width="45.20" height="3.90" fill="#5890d2" stroke="#222" stroke-width="0.85"/>
<ellipse cx="669.7" cy="249.4" rx="1.3" ry="1.6" fill="#000"/>
<line x1="667.80" y1="248.10" x2="667.80" y2="250.70" stroke="#000" stroke-width="0.6"/>
<ellipse cx="616.8" cy="253.3" rx="1.3" ry="1.6" fill="#000"/>
<line x1="614.90" y1="252.00" x2="614.90" y2="254.60" stroke="#000" stroke-width="0.6"/>
<rect x="571.50" y="257.84" width="94.70" height="3.90" fill="#d6d6d6" stroke="#222" stroke-width="0.85"/>
<rect x="571.50" y="261.74" width="40.60" height="3.90" fill="#5890d2" stroke="#222" stroke-width="0.85"/>
<ellipse cx="666.3" cy="259.8" rx="1.3" ry="1.6" fill="#000"/>
<line x1="664.40" y1="258.49" x2="664.40" y2="261.09" stroke="#000" stroke-width="0.6"/>
<ellipse cx="612.2" cy="263.7" rx="1.3" ry="1.6" fill="#000"/>
<line x1="610.30" y1="262.39" x2="610.30" y2="264.99" stroke="#000" stroke-width="0.6"/>
<rect x="571.50" y="268.23" width="94.70" height="3.90" fill="#d6d6d6" stroke="#222" stroke-width="0.85"/>
<rect x="571.50" y="272.13" width="40.60" height="3.90" fill="#5890d2" stroke="#222" stroke-width="0.85"/>
<ellipse cx="666.3" cy="270.2" rx="1.3" ry="1.6" fill="#000"/>
<line x1="664.40" y1="268.88" x2="664.40" y2="271.48" stroke="#000" stroke-width="0.6"/>
<ellipse cx="612.2" cy="274.1" rx="1.3" ry="1.6" fill="#000"/>
<line x1="610.30" y1="272.78" x2="610.30" y2="275.38" stroke="#000" stroke-width="0.6"/>
<rect x="571.50" y="278.62" width="95.60" height="3.90" fill="#d6d6d6" stroke="#222" stroke-width="0.85"/>
<rect x="571.50" y="282.52" width="40.10" height="3.90" fill="#5890d2" stroke="#222" stroke-width="0.85"/>
<ellipse cx="667.2" cy="280.6" rx="1.3" ry="1.6" fill="#000"/>
<line x1="665.30" y1="279.27" x2="665.30" y2="281.87" stroke="#000" stroke-width="0.6"/>
<ellipse cx="611.7" cy="284.5" rx="1.3" ry="1.6" fill="#000"/>
<line x1="609.80" y1="283.17" x2="609.80" y2="285.77" stroke="#000" stroke-width="0.6"/>
<rect x="571.50" y="289.01" width="74.20" height="3.90" fill="#d6d6d6" stroke="#222" stroke-width="0.85"/>
<rect x="571.50" y="292.91" width="39.20" height="3.90" fill="#5890d2" stroke="#222" stroke-width="0.85"/>
<ellipse cx="645.8" cy="291.0" rx="1.3" ry="1.6" fill="#000"/>
<line x1="643.90" y1="289.66" x2="643.90" y2="292.26" stroke="#000" stroke-width="0.6"/>
<ellipse cx="610.8" cy="294.9" rx="1.3" ry="1.6" fill="#000"/>
<line x1="608.90" y1="293.56" x2="608.90" y2="296.16" stroke="#000" stroke-width="0.6"/>
<rect x="571.50" y="299.40" width="86.20" height="3.90" fill="#d6d6d6" stroke="#222" stroke-width="0.85"/>
<rect x="571.50" y="303.30" width="38.30" height="3.90" fill="#5890d2" stroke="#222" stroke-width="0.85"/>
<ellipse cx="657.8" cy="301.3" rx="1.3" ry="1.6" fill="#000"/>
<line x1="655.90" y1="300.05" x2="655.90" y2="302.65" stroke="#000" stroke-width="0.6"/>
<ellipse cx="609.9" cy="305.2" rx="1.3" ry="1.6" fill="#000"/>
<line x1="608.00" y1="303.95" x2="608.00" y2="306.55" stroke="#000" stroke-width="0.6"/>
<rect x="571.50" y="309.79" width="93.90" height="3.90" fill="#d6d6d6" stroke="#222" stroke-width="0.85"/>
<rect x="571.50" y="313.69" width="52.50" height="3.90" fill="#5890d2" stroke="#222" stroke-width="0.85"/>
<ellipse cx="665.5" cy="311.7" rx="1.3" ry="1.6" fill="#000"/>
<line x1="663.60" y1="310.44" x2="663.60" y2="313.04" stroke="#000" stroke-width="0.6"/>
<ellipse cx="624.1" cy="315.6" rx="1.3" ry="1.6" fill="#000"/>
<line x1="622.20" y1="314.34" x2="622.20" y2="316.94" stroke="#000" stroke-width="0.6"/>
<rect x="571.50" y="320.18" width="95.20" height="3.90" fill="#d6d6d6" stroke="#222" stroke-width="0.85"/>
<rect x="571.50" y="324.08" width="55.40" height="3.90" fill="#5890d2" stroke="#222" stroke-width="0.85"/>
<ellipse cx="666.8" cy="322.1" rx="1.3" ry="1.6" fill="#000"/>
<line x1="664.90" y1="320.83" x2="664.90" y2="323.43" stroke="#000" stroke-width="0.6"/>
<ellipse cx="627.0" cy="326.0" rx="1.3" ry="1.6" fill="#000"/>
<line x1="625.10" y1="324.73" x2="625.10" y2="327.33" stroke="#000" stroke-width="0.6"/>
<rect x="571.50" y="330.57" width="93.00" height="3.90" fill="#d6d6d6" stroke="#222" stroke-width="0.85"/>
<rect x="571.50" y="334.47" width="40.10" height="3.90" fill="#5890d2" stroke="#222" stroke-width="0.85"/>
<ellipse cx="664.6" cy="332.5" rx="1.3" ry="1.6" fill="#000"/>
<line x1="662.70" y1="331.22" x2="662.70" y2="333.82" stroke="#000" stroke-width="0.6"/>
<ellipse cx="611.7" cy="336.4" rx="1.3" ry="1.6" fill="#000"/>
<line x1="609.80" y1="335.12" x2="609.80" y2="337.72" stroke="#000" stroke-width="0.6"/>
<rect x="571.50" y="340.96" width="96.40" height="3.90" fill="#d6d6d6" stroke="#222" stroke-width="0.85"/>
<rect x="571.50" y="344.86" width="39.20" height="3.90" fill="#5890d2" stroke="#222" stroke-width="0.85"/>
<ellipse cx="668.0" cy="342.9" rx="1.3" ry="1.6" fill="#000"/>
<line x1="666.10" y1="341.61" x2="666.10" y2="344.21" stroke="#000" stroke-width="0.6"/>
<ellipse cx="610.8" cy="346.8" rx="1.3" ry="1.6" fill="#000"/>
<line x1="608.90" y1="345.51" x2="608.90" y2="348.11" stroke="#000" stroke-width="0.6"/>
<rect x="571.50" y="351.35" width="96.40" height="3.90" fill="#d6d6d6" stroke="#222" stroke-width="0.85"/>
<rect x="571.50" y="355.25" width="98.10" height="3.90" fill="#5890d2" stroke="#222" stroke-width="0.85"/>
<ellipse cx="668.0" cy="353.3" rx="1.3" ry="1.6" fill="#000"/>
<line x1="666.10" y1="352.00" x2="666.10" y2="354.60" stroke="#000" stroke-width="0.6"/>
<ellipse cx="669.7" cy="357.2" rx="1.3" ry="1.6" fill="#000"/>
<line x1="667.80" y1="355.90" x2="667.80" y2="358.50" stroke="#000" stroke-width="0.6"/>
<rect x="571.50" y="361.74" width="98.10" height="3.90" fill="#d6d6d6" stroke="#222" stroke-width="0.85"/>
<rect x="571.50" y="365.64" width="58.00" height="3.90" fill="#5890d2" stroke="#222" stroke-width="0.85"/>
<ellipse cx="669.7" cy="363.7" rx="1.3" ry="1.6" fill="#000"/>
<line x1="667.80" y1="362.39" x2="667.80" y2="364.99" stroke="#000" stroke-width="0.6"/>
<ellipse cx="629.6" cy="367.6" rx="1.3" ry="1.6" fill="#000"/>
<line x1="627.70" y1="366.29" x2="627.70" y2="368.89" stroke="#000" stroke-width="0.6"/>
<rect x="571.50" y="372.13" width="87.00" height="3.90" fill="#d6d6d6" stroke="#222" stroke-width="0.85"/>
<rect x="571.50" y="376.03" width="40.10" height="3.90" fill="#5890d2" stroke="#222" stroke-width="0.85"/>
<ellipse cx="658.6" cy="374.1" rx="1.3" ry="1.6" fill="#000"/>
<line x1="656.70" y1="372.78" x2="656.70" y2="375.38" stroke="#000" stroke-width="0.6"/>
<ellipse cx="611.7" cy="378.0" rx="1.3" ry="1.6" fill="#000"/>
<line x1="609.80" y1="376.68" x2="609.80" y2="379.28" stroke="#000" stroke-width="0.6"/>
<rect x="571.50" y="382.52" width="75.10" height="3.90" fill="#d6d6d6" stroke="#222" stroke-width="0.85"/>
<rect x="571.50" y="386.42" width="83.20" height="3.90" fill="#5890d2" stroke="#222" stroke-width="0.85"/>
<ellipse cx="646.7" cy="384.5" rx="1.3" ry="1.6" fill="#000"/>
<line x1="644.80" y1="383.17" x2="644.80" y2="385.77" stroke="#000" stroke-width="0.6"/>
<ellipse cx="654.8" cy="388.4" rx="1.3" ry="1.6" fill="#000"/>
<line x1="652.90" y1="387.07" x2="652.90" y2="389.67" stroke="#000" stroke-width="0.6"/>
<rect x="571.50" y="392.91" width="90.10" height="3.90" fill="#d6d6d6" stroke="#222" stroke-width="0.85"/>
<rect x="571.50" y="396.81" width="90.40" height="3.90" fill="#5890d2" stroke="#222" stroke-width="0.85"/>
<ellipse cx="661.7" cy="394.9" rx="1.3" ry="1.6" fill="#000"/>
<line x1="659.80" y1="393.56" x2="659.80" y2="396.16" stroke="#000" stroke-width="0.6"/>
<ellipse cx="662.0" cy="398.8" rx="1.3" ry="1.6" fill="#000"/>
<line x1="660.10" y1="397.46" x2="660.10" y2="400.06" stroke="#000" stroke-width="0.6"/>
<rect x="571.50" y="403.30" width="94.70" height="3.90" fill="#d6d6d6" stroke="#222" stroke-width="0.85"/>
<rect x="571.50" y="407.20" width="101.50" height="3.90" fill="#5890d2" stroke="#222" stroke-width="0.85"/>
<ellipse cx="666.3" cy="405.2" rx="1.3" ry="1.6" fill="#000"/>
<line x1="664.40" y1="403.95" x2="664.40" y2="406.55" stroke="#000" stroke-width="0.6"/>
<ellipse cx="673.1" cy="409.2" rx="1.3" ry="1.6" fill="#000"/>
<line x1="671.20" y1="407.85" x2="671.20" y2="410.45" stroke="#000" stroke-width="0.6"/>
<rect x="571.50" y="413.69" width="94.70" height="3.90" fill="#d6d6d6" stroke="#222" stroke-width="0.85"/>
<rect x="571.50" y="417.59" width="97.30" height="3.90" fill="#5890d2" stroke="#222" stroke-width="0.85"/>
<ellipse cx="666.3" cy="415.6" rx="1.3" ry="1.6" fill="#000"/>
<line x1="664.40" y1="414.34" x2="664.40" y2="416.94" stroke="#000" stroke-width="0.6"/>
<ellipse cx="668.9" cy="419.5" rx="1.3" ry="1.6" fill="#000"/>
<line x1="667.00" y1="418.24" x2="667.00" y2="420.84" stroke="#000" stroke-width="0.6"/>
<rect x="571.50" y="424.08" width="67.90" height="3.90" fill="#d6d6d6" stroke="#222" stroke-width="0.85"/>
<rect x="571.50" y="427.98" width="87.90" height="3.90" fill="#5890d2" stroke="#222" stroke-width="0.85"/>
<ellipse cx="639.5" cy="426.0" rx="1.3" ry="1.6" fill="#000"/>
<line x1="637.60" y1="424.73" x2="637.60" y2="427.33" stroke="#000" stroke-width="0.6"/>
<ellipse cx="659.5" cy="429.9" rx="1.3" ry="1.6" fill="#000"/>
<line x1="657.60" y1="428.63" x2="657.60" y2="431.23" stroke="#000" stroke-width="0.6"/>
<rect x="571.50" y="434.47" width="91.30" height="3.90" fill="#d6d6d6" stroke="#222" stroke-width="0.85"/>
<rect x="571.50" y="438.37" width="93.90" height="3.90" fill="#5890d2" stroke="#222" stroke-width="0.85"/>
<ellipse cx="662.9" cy="436.4" rx="1.3" ry="1.6" fill="#000"/>
<line x1="661.00" y1="435.12" x2="661.00" y2="437.72" stroke="#000" stroke-width="0.6"/>
<ellipse cx="665.5" cy="440.3" rx="1.3" ry="1.6" fill="#000"/>
<line x1="663.60" y1="439.02" x2="663.60" y2="441.62" stroke="#000" stroke-width="0.6"/>
<rect x="571.50" y="444.86" width="99.00" height="3.90" fill="#d6d6d6" stroke="#222" stroke-width="0.85"/>
<rect x="571.50" y="448.76" width="102.40" height="3.90" fill="#5890d2" stroke="#222" stroke-width="0.85"/>
<ellipse cx="670.6" cy="446.8" rx="1.3" ry="1.6" fill="#000"/>
<line x1="668.70" y1="445.51" x2="668.70" y2="448.11" stroke="#000" stroke-width="0.6"/>
<ellipse cx="674.0" cy="450.7" rx="1.3" ry="1.6" fill="#000"/>
<line x1="672.10" y1="449.41" x2="672.10" y2="452.01" stroke="#000" stroke-width="0.6"/>
<rect x="571.50" y="455.25" width="90.50" height="3.90" fill="#d6d6d6" stroke="#222" stroke-width="0.85"/>
<rect x="571.50" y="459.15" width="100.70" height="3.90" fill="#5890d2" stroke="#222" stroke-width="0.85"/>
<ellipse cx="662.1" cy="457.2" rx="1.3" ry="1.6" fill="#000"/>
<line x1="660.20" y1="455.90" x2="660.20" y2="458.50" stroke="#000" stroke-width="0.6"/>
<ellipse cx="672.3" cy="461.1" rx="1.3" ry="1.6" fill="#000"/>
<line x1="670.40" y1="459.80" x2="670.40" y2="462.40" stroke="#000" stroke-width="0.6"/>
<rect x="571.50" y="465.64" width="71.70" height="3.90" fill="#d6d6d6" stroke="#222" stroke-width="0.85"/>
<rect x="571.50" y="469.54" width="64.80" height="3.90" fill="#5890d2" stroke="#222" stroke-width="0.85"/>
<ellipse cx="643.3" cy="467.6" rx="1.3" ry="1.6" fill="#000"/>
<line x1="641.40" y1="466.29" x2="641.40" y2="468.89" stroke="#000" stroke-width="0.6"/>
<ellipse cx="636.4" cy="471.5" rx="1.3" ry="1.6" fill="#000"/>
<line x1="634.50" y1="470.19" x2="634.50" y2="472.79" stroke="#000" stroke-width="0.6"/>
<rect x="571.50" y="476.03" width="72.10" height="3.90" fill="#d6d6d6" stroke="#222" stroke-width="0.85"/>
<rect x="571.50" y="479.93" width="51.60" height="3.90" fill="#5890d2" stroke="#222" stroke-width="0.85"/>
<ellipse cx="643.7" cy="478.0" rx="1.3" ry="1.6" fill="#000"/>
<line x1="641.80" y1="476.68" x2="641.80" y2="479.28" stroke="#000" stroke-width="0.6"/>
<ellipse cx="623.2" cy="481.9" rx="1.3" ry="1.6" fill="#000"/>
<line x1="621.30" y1="480.58" x2="621.30" y2="483.18" stroke="#000" stroke-width="0.6"/>
<rect x="571.50" y="486.42" width="95.60" height="3.90" fill="#d6d6d6" stroke="#222" stroke-width="0.85"/>
<rect x="571.50" y="490.32" width="40.10" height="3.90" fill="#5890d2" stroke="#222" stroke-width="0.85"/>
<ellipse cx="667.2" cy="488.4" rx="1.3" ry="1.6" fill="#000"/>
<line x1="665.30" y1="487.07" x2="665.30" y2="489.67" stroke="#000" stroke-width="0.6"/>
<ellipse cx="611.7" cy="492.3" rx="1.3" ry="1.6" fill="#000"/>
<line x1="609.80" y1="490.97" x2="609.80" y2="493.57" stroke="#000" stroke-width="0.6"/>
<rect x="571.50" y="496.81" width="89.60" height="3.90" fill="#d6d6d6" stroke="#222" stroke-width="0.85"/>
<rect x="571.50" y="500.71" width="46.00" height="3.90" fill="#5890d2" stroke="#222" stroke-width="0.85"/>
<ellipse cx="661.2" cy="498.8" rx="1.3" ry="1.6" fill="#000"/>
<line x1="659.30" y1="497.46" x2="659.30" y2="500.06" stroke="#000" stroke-width="0.6"/>
<ellipse cx="617.6" cy="502.7" rx="1.3" ry="1.6" fill="#000"/>
<line x1="615.70" y1="501.36" x2="615.70" y2="503.96" stroke="#000" stroke-width="0.6"/>
<rect x="571.50" y="507.20" width="91.30" height="3.90" fill="#d6d6d6" stroke="#222" stroke-width="0.85"/>
<rect x="571.50" y="511.10" width="79.30" height="3.90" fill="#5890d2" stroke="#222" stroke-width="0.85"/>
<ellipse cx="662.9" cy="509.2" rx="1.3" ry="1.6" fill="#000"/>
<line x1="661.00" y1="507.85" x2="661.00" y2="510.45" stroke="#000" stroke-width="0.6"/>
<ellipse cx="650.9" cy="513.1" rx="1.3" ry="1.6" fill="#000"/>
<line x1="649.00" y1="511.75" x2="649.00" y2="514.35" stroke="#000" stroke-width="0.6"/>
<rect x="571.50" y="517.59" width="78.50" height="3.90" fill="#d6d6d6" stroke="#222" stroke-width="0.85"/>
<rect x="571.50" y="521.49" width="54.60" height="3.90" fill="#5890d2" stroke="#222" stroke-width="0.85"/>
<ellipse cx="650.1" cy="519.5" rx="1.3" ry="1.6" fill="#000"/>
<line x1="648.20" y1="518.24" x2="648.20" y2="520.84" stroke="#000" stroke-width="0.6"/>
<ellipse cx="626.2" cy="523.4" rx="1.3" ry="1.6" fill="#000"/>
<line x1="624.30" y1="522.14" x2="624.30" y2="524.74" stroke="#000" stroke-width="0.6"/>
<rect x="571.50" y="527.98" width="80.20" height="3.90" fill="#d6d6d6" stroke="#222" stroke-width="0.85"/>
<rect x="571.50" y="531.88" width="37.50" height="3.90" fill="#5890d2" stroke="#222" stroke-width="0.85"/>
<ellipse cx="651.8" cy="529.9" rx="1.3" ry="1.6" fill="#000"/>
<line x1="649.90" y1="528.63" x2="649.90" y2="531.23" stroke="#000" stroke-width="0.6"/>
<ellipse cx="609.1" cy="533.8" rx="1.3" ry="1.6" fill="#000"/>
<line x1="607.20" y1="532.53" x2="607.20" y2="535.13" stroke="#000" stroke-width="0.6"/>
<rect x="571.50" y="538.37" width="90.10" height="3.90" fill="#d6d6d6" stroke="#222" stroke-width="0.85"/>
<rect x="571.50" y="542.27" width="39.20" height="3.90" fill="#5890d2" stroke="#222" stroke-width="0.85"/>
<ellipse cx="661.7" cy="540.3" rx="1.3" ry="1.6" fill="#000"/>
<line x1="659.80" y1="539.02" x2="659.80" y2="541.62" stroke="#000" stroke-width="0.6"/>
<ellipse cx="610.8" cy="544.2" rx="1.3" ry="1.6" fill="#000"/>
<line x1="608.90" y1="542.92" x2="608.90" y2="545.52" stroke="#000" stroke-width="0.6"/>
<rect x="571.50" y="548.76" width="71.70" height="3.90" fill="#d6d6d6" stroke="#222" stroke-width="0.85"/>
<rect x="571.50" y="552.66" width="72.10" height="3.90" fill="#5890d2" stroke="#222" stroke-width="0.85"/>
<ellipse cx="643.3" cy="550.7" rx="1.3" ry="1.6" fill="#000"/>
<line x1="641.40" y1="549.41" x2="641.40" y2="552.01" stroke="#000" stroke-width="0.6"/>
<ellipse cx="643.7" cy="554.6" rx="1.3" ry="1.6" fill="#000"/>
<line x1="641.80" y1="553.31" x2="641.80" y2="555.91" stroke="#000" stroke-width="0.6"/>
<rect x="571.50" y="559.15" width="92.50" height="3.90" fill="#d6d6d6" stroke="#222" stroke-width="0.85"/>
<rect x="571.50" y="563.05" width="42.50" height="3.90" fill="#5890d2" stroke="#222" stroke-width="0.85"/>
<ellipse cx="664.1" cy="561.1" rx="1.3" ry="1.6" fill="#000"/>
<line x1="662.20" y1="559.80" x2="662.20" y2="562.40" stroke="#000" stroke-width="0.6"/>
<ellipse cx="614.1" cy="565.0" rx="1.3" ry="1.6" fill="#000"/>
<line x1="612.20" y1="563.70" x2="612.20" y2="566.30" stroke="#000" stroke-width="0.6"/>
<rect x="571.50" y="569.54" width="78.90" height="3.90" fill="#d6d6d6" stroke="#222" stroke-width="0.85"/>
<rect x="571.50" y="573.44" width="49.90" height="3.90" fill="#5890d2" stroke="#222" stroke-width="0.85"/>
<ellipse cx="650.5" cy="571.5" rx="1.3" ry="1.6" fill="#000"/>
<line x1="648.60" y1="570.19" x2="648.60" y2="572.79" stroke="#000" stroke-width="0.6"/>
<ellipse cx="621.5" cy="575.4" rx="1.3" ry="1.6" fill="#000"/>
<line x1="619.60" y1="574.09" x2="619.60" y2="576.69" stroke="#000" stroke-width="0.6"/>
<rect x="571.50" y="579.93" width="105.80" height="3.90" fill="#d6d6d6" stroke="#222" stroke-width="0.85"/>
<rect x="571.50" y="583.83" width="105.00" height="3.90" fill="#5890d2" stroke="#222" stroke-width="0.85"/>
<ellipse cx="677.4" cy="581.9" rx="1.3" ry="1.6" fill="#000"/>
<line x1="675.50" y1="580.58" x2="675.50" y2="583.18" stroke="#000" stroke-width="0.6"/>
<ellipse cx="676.6" cy="585.8" rx="1.3" ry="1.6" fill="#000"/>
<line x1="674.70" y1="584.48" x2="674.70" y2="587.08" stroke="#000" stroke-width="0.6"/>
<rect x="571.50" y="590.32" width="40.90" height="3.90" fill="#d6d6d6" stroke="#222" stroke-width="0.85"/>
<rect x="571.50" y="594.22" width="46.90" height="3.90" fill="#5890d2" stroke="#222" stroke-width="0.85"/>
<ellipse cx="612.5" cy="592.3" rx="1.3" ry="1.6" fill="#000"/>
<line x1="610.60" y1="590.97" x2="610.60" y2="593.57" stroke="#000" stroke-width="0.6"/>
<ellipse cx="618.5" cy="596.2" rx="1.3" ry="1.6" fill="#000"/>
<line x1="616.60" y1="594.87" x2="616.60" y2="597.47" stroke="#000" stroke-width="0.6"/>
<rect x="613.0" y="199.9" width="9.7" height="2.9" fill="#000" opacity="0.22"/>
<line x1="613.00" y1="201.35" x2="622.70" y2="201.35" stroke="#222" stroke-width="0.5"/>
<line x1="622.7" y1="201.3" x2="633.8" y2="201.3" stroke="#222" stroke-width="0.6" stroke-dasharray="1,0.8"/>
<line x1="633.80" y1="200.05" x2="633.80" y2="202.65" stroke="#222" stroke-width="0.6"/>
<rect x="622.0" y="210.3" width="5.8" height="2.9" fill="#000" opacity="0.22"/>
<line x1="622.00" y1="211.74" x2="627.80" y2="211.74" stroke="#222" stroke-width="0.5"/>
<line x1="627.8" y1="211.7" x2="632.0" y2="211.7" stroke="#222" stroke-width="0.6" stroke-dasharray="1,0.8"/>
<line x1="632.00" y1="210.44" x2="632.00" y2="213.04" stroke="#222" stroke-width="0.6"/>
<rect x="661.0" y="227.2" width="4.4" height="2.9" fill="#000" opacity="0.22"/>
<line x1="661.00" y1="228.62" x2="665.40" y2="228.62" stroke="#222" stroke-width="0.5"/>
<line x1="665.4" y1="228.6" x2="669.0" y2="228.6" stroke="#222" stroke-width="0.6" stroke-dasharray="1,0.8"/>
<line x1="669.00" y1="227.32" x2="669.00" y2="229.92" stroke="#222" stroke-width="0.6"/>
<rect x="611.0" y="231.1" width="3.1" height="2.9" fill="#000" opacity="0.22"/>
<line x1="611.00" y1="232.52" x2="614.10" y2="232.52" stroke="#222" stroke-width="0.5"/>
<line x1="614.1" y1="232.5" x2="618.0" y2="232.5" stroke="#222" stroke-width="0.6" stroke-dasharray="1,0.8"/>
<line x1="618.00" y1="231.22" x2="618.00" y2="233.82" stroke="#222" stroke-width="0.6"/>
<rect x="611.0" y="251.8" width="5.7" height="2.9" fill="#000" opacity="0.22"/>
<line x1="611.00" y1="253.30" x2="616.70" y2="253.30" stroke="#222" stroke-width="0.5"/>
<line x1="616.7" y1="253.3" x2="622.0" y2="253.3" stroke="#222" stroke-width="0.6" stroke-dasharray="1,0.8"/>
<line x1="622.00" y1="252.00" x2="622.00" y2="254.60" stroke="#222" stroke-width="0.6"/>
<rect x="624.0" y="324.6" width="2.9" height="2.9" fill="#000" opacity="0.22"/>
<line x1="624.00" y1="326.03" x2="626.90" y2="326.03" stroke="#222" stroke-width="0.5"/>
<line x1="626.9" y1="326.0" x2="631.0" y2="326.0" stroke="#222" stroke-width="0.6" stroke-dasharray="1,0.8"/>
<line x1="631.00" y1="324.73" x2="631.00" y2="327.33" stroke="#222" stroke-width="0.6"/>
<rect x="659.0" y="331.1" width="5.5" height="2.9" fill="#000" opacity="0.22"/>
<line x1="659.00" y1="332.52" x2="664.50" y2="332.52" stroke="#222" stroke-width="0.5"/>
<line x1="664.5" y1="332.5" x2="669.0" y2="332.5" stroke="#222" stroke-width="0.6" stroke-dasharray="1,0.8"/>
<line x1="669.00" y1="331.22" x2="669.00" y2="333.82" stroke="#222" stroke-width="0.6"/>
<rect x="609.0" y="335.0" width="2.6" height="2.9" fill="#000" opacity="0.22"/>
<line x1="609.00" y1="336.42" x2="611.60" y2="336.42" stroke="#222" stroke-width="0.5"/>
<line x1="611.6" y1="336.4" x2="615.0" y2="336.4" stroke="#222" stroke-width="0.6" stroke-dasharray="1,0.8"/>
<line x1="615.00" y1="335.12" x2="615.00" y2="337.72" stroke="#222" stroke-width="0.6"/>
<rect x="658.5" y="341.5" width="9.4" height="2.9" fill="#000" opacity="0.22"/>
<line x1="658.50" y1="342.91" x2="667.90" y2="342.91" stroke="#222" stroke-width="0.5"/>
<line x1="667.9" y1="342.9" x2="672.0" y2="342.9" stroke="#222" stroke-width="0.6" stroke-dasharray="1,0.8"/>
<line x1="672.00" y1="341.61" x2="672.00" y2="344.21" stroke="#222" stroke-width="0.6"/>
<rect x="625.0" y="366.1" width="4.5" height="2.9" fill="#000" opacity="0.22"/>
<line x1="625.00" y1="367.59" x2="629.50" y2="367.59" stroke="#222" stroke-width="0.5"/>
<line x1="629.5" y1="367.6" x2="638.0" y2="367.6" stroke="#222" stroke-width="0.6" stroke-dasharray="1,0.8"/>
<line x1="638.00" y1="366.29" x2="638.00" y2="368.89" stroke="#222" stroke-width="0.6"/>
<rect x="645.0" y="393.4" width="16.6" height="2.9" fill="#000" opacity="0.22"/>
<line x1="645.00" y1="394.86" x2="661.60" y2="394.86" stroke="#222" stroke-width="0.5"/>
<line x1="661.6" y1="394.9" x2="669.0" y2="394.9" stroke="#222" stroke-width="0.6" stroke-dasharray="1,0.8"/>
<line x1="669.00" y1="393.56" x2="669.00" y2="396.16" stroke="#222" stroke-width="0.6"/>
<rect x="631.0" y="424.6" width="8.4" height="2.9" fill="#000" opacity="0.22"/>
<line x1="631.00" y1="426.03" x2="639.40" y2="426.03" stroke="#222" stroke-width="0.5"/>
<line x1="639.4" y1="426.0" x2="644.0" y2="426.0" stroke="#222" stroke-width="0.6" stroke-dasharray="1,0.8"/>
<line x1="644.00" y1="424.73" x2="644.00" y2="427.33" stroke="#222" stroke-width="0.6"/>
<rect x="657.0" y="435.0" width="5.8" height="2.9" fill="#000" opacity="0.22"/>
<line x1="657.00" y1="436.42" x2="662.80" y2="436.42" stroke="#222" stroke-width="0.5"/>
<line x1="662.8" y1="436.4" x2="666.0" y2="436.4" stroke="#222" stroke-width="0.6" stroke-dasharray="1,0.8"/>
<line x1="666.00" y1="435.12" x2="666.00" y2="437.72" stroke="#222" stroke-width="0.6"/>
<rect x="662.0" y="438.9" width="3.4" height="2.9" fill="#000" opacity="0.22"/>
<line x1="662.00" y1="440.32" x2="665.40" y2="440.32" stroke="#222" stroke-width="0.5"/>
<line x1="665.4" y1="440.3" x2="671.0" y2="440.3" stroke="#222" stroke-width="0.6" stroke-dasharray="1,0.8"/>
<line x1="671.00" y1="439.02" x2="671.00" y2="441.62" stroke="#222" stroke-width="0.6"/>
<rect x="663.0" y="445.4" width="7.5" height="2.9" fill="#000" opacity="0.22"/>
<line x1="663.00" y1="446.81" x2="670.50" y2="446.81" stroke="#222" stroke-width="0.5"/>
<line x1="670.5" y1="446.8" x2="676.0" y2="446.8" stroke="#222" stroke-width="0.6" stroke-dasharray="1,0.8"/>
<line x1="676.00" y1="445.51" x2="676.00" y2="448.11" stroke="#222" stroke-width="0.6"/>
<rect x="660.0" y="449.3" width="13.9" height="2.9" fill="#000" opacity="0.22"/>
<line x1="660.00" y1="450.71" x2="673.90" y2="450.71" stroke="#222" stroke-width="0.5"/>
<line x1="673.9" y1="450.7" x2="684.0" y2="450.7" stroke="#222" stroke-width="0.6" stroke-dasharray="1,0.8"/>
<line x1="684.00" y1="449.41" x2="684.00" y2="452.01" stroke="#222" stroke-width="0.6"/>
<rect x="655.0" y="455.8" width="7.0" height="2.9" fill="#000" opacity="0.22"/>
<line x1="655.00" y1="457.20" x2="662.00" y2="457.20" stroke="#222" stroke-width="0.5"/>
<line x1="662.0" y1="457.2" x2="667.0" y2="457.2" stroke="#222" stroke-width="0.6" stroke-dasharray="1,0.8"/>
<line x1="667.00" y1="455.90" x2="667.00" y2="458.50" stroke="#222" stroke-width="0.6"/>
<rect x="639.0" y="476.5" width="5.0" height="2.9" fill="#000" opacity="0.22"/>
<line x1="639.00" y1="477.98" x2="644.00" y2="477.98" stroke="#222" stroke-width="0.5"/>
<line x1="644.0" y1="478.0" x2="648.0" y2="478.0" stroke="#222" stroke-width="0.6" stroke-dasharray="1,0.8"/>
<line x1="648.00" y1="476.68" x2="648.00" y2="479.28" stroke="#222" stroke-width="0.6"/>
<rect x="657.0" y="497.3" width="4.1" height="2.9" fill="#000" opacity="0.22"/>
<line x1="657.00" y1="498.76" x2="661.10" y2="498.76" stroke="#222" stroke-width="0.5"/>
<line x1="661.1" y1="498.8" x2="664.0" y2="498.8" stroke="#222" stroke-width="0.6" stroke-dasharray="1,0.8"/>
<line x1="664.00" y1="497.46" x2="664.00" y2="500.06" stroke="#222" stroke-width="0.6"/>
<rect x="622.0" y="522.0" width="4.1" height="2.9" fill="#000" opacity="0.22"/>
<line x1="622.00" y1="523.44" x2="626.10" y2="523.44" stroke="#222" stroke-width="0.5"/>
<line x1="626.1" y1="523.4" x2="631.0" y2="523.4" stroke="#222" stroke-width="0.6" stroke-dasharray="1,0.8"/>
<line x1="631.00" y1="522.14" x2="631.00" y2="524.74" stroke="#222" stroke-width="0.6"/>
<rect x="660.0" y="559.7" width="4.0" height="2.9" fill="#000" opacity="0.22"/>
<line x1="660.00" y1="561.10" x2="664.00" y2="561.10" stroke="#222" stroke-width="0.5"/>
<line x1="664.0" y1="561.1" x2="667.0" y2="561.1" stroke="#222" stroke-width="0.6" stroke-dasharray="1,0.8"/>
<line x1="667.00" y1="559.80" x2="667.00" y2="562.40" stroke="#222" stroke-width="0.6"/>
<rect x="611.0" y="563.6" width="4.8" height="2.9" fill="#000" opacity="0.22"/>
<line x1="611.00" y1="565.00" x2="615.80" y2="565.00" stroke="#222" stroke-width="0.5"/>
<line x1="615.8" y1="565.0" x2="619.0" y2="565.0" stroke="#222" stroke-width="0.6" stroke-dasharray="1,0.8"/>
<line x1="619.00" y1="563.70" x2="619.00" y2="566.30" stroke="#222" stroke-width="0.6"/>
<rect x="602.0" y="590.8" width="10.4" height="2.9" fill="#000" opacity="0.22"/>
<line x1="602.00" y1="592.27" x2="612.40" y2="592.27" stroke="#222" stroke-width="0.5"/>
<line x1="612.4" y1="592.3" x2="625.0" y2="592.3" stroke="#222" stroke-width="0.6" stroke-dasharray="1,0.8"/>
<line x1="625.00" y1="590.97" x2="625.00" y2="593.57" stroke="#222" stroke-width="0.6"/>
<rect x="607.0" y="594.7" width="11.4" height="2.9" fill="#000" opacity="0.22"/>
<line x1="607.00" y1="596.17" x2="618.40" y2="596.17" stroke="#222" stroke-width="0.5"/>
<line x1="618.4" y1="596.2" x2="628.0" y2="596.2" stroke="#222" stroke-width="0.6" stroke-dasharray="1,0.8"/>
<line x1="628.00" y1="594.87" x2="628.00" y2="597.47" stroke="#222" stroke-width="0.6"/>
<line x1="571.50" y1="191.10" x2="571.50" y2="602.80" stroke="#333" stroke-width="1.0"/>
<line x1="571.00" y1="602.50" x2="680.80" y2="602.50" stroke="#333" stroke-width="1.0"/>
<line x1="571.50" y1="602.50" x2="571.50" y2="606.40" stroke="#333" stroke-width="0.9"/>
<text x="572.50" y="616.80" font-size="10.4" text-anchor="middle" fill="#000">0.1</text>
<line x1="603.90" y1="602.50" x2="603.90" y2="606.40" stroke="#333" stroke-width="0.9"/>
<text x="603.90" y="616.80" font-size="10.4" text-anchor="middle" fill="#000">1</text>
<line x1="636.30" y1="602.50" x2="636.30" y2="606.40" stroke="#333" stroke-width="0.9"/>
<text x="636.30" y="616.80" font-size="10.4" text-anchor="middle" fill="#000">10</text>
<line x1="668.70" y1="602.50" x2="668.70" y2="606.40" stroke="#333" stroke-width="0.9"/>
<text x="668.70" y="616.80" font-size="10.4" text-anchor="middle" fill="#000">100</text>
<text x="624.60" y="627.60" font-size="10.7" text-anchor="middle" fill="#000">Relative IFN Signaling</text>
</svg>
</body></html>
